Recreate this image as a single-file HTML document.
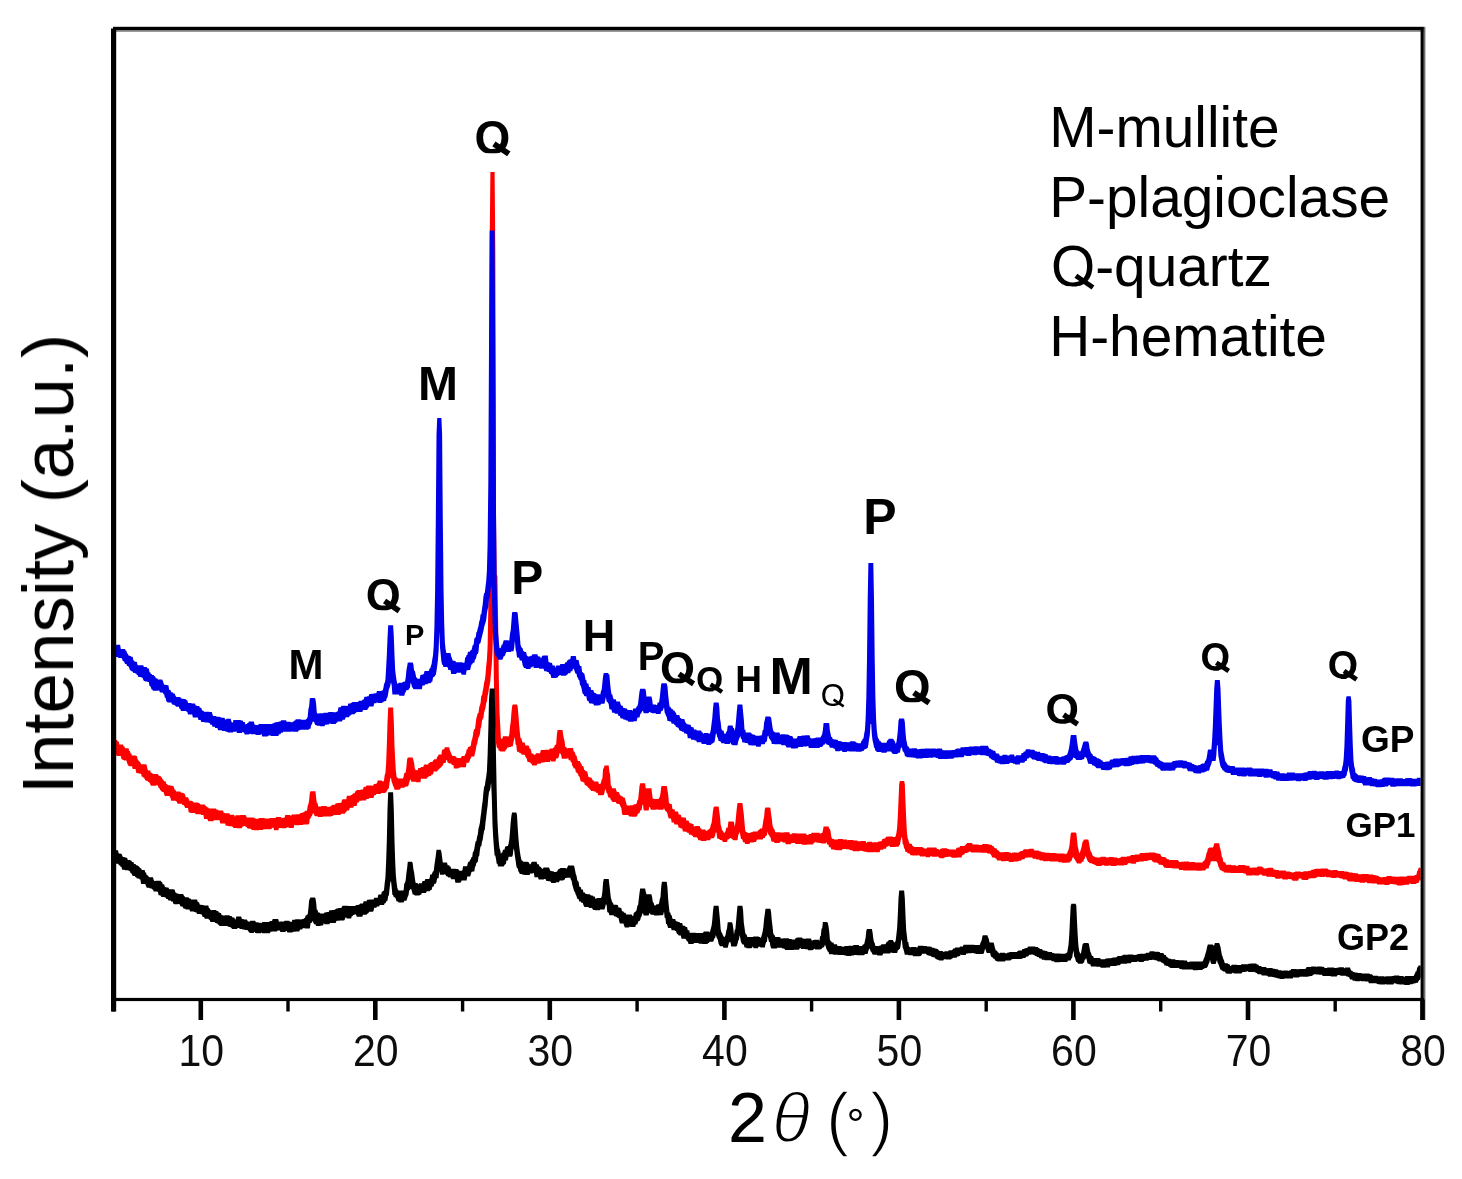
<!DOCTYPE html>
<html><head><meta charset="utf-8"><title>XRD patterns</title>
<style>
html,body{margin:0;padding:0;background:#fff;}
body{width:1462px;height:1179px;overflow:hidden;font-family:"Liberation Sans",sans-serif;}
svg{display:block;font-family:"Liberation Sans",sans-serif;}
.curve path{stroke:none;}
</style></head><body>
<svg width="1462" height="1179" viewBox="0 0 1462 1179">
<defs><filter id="soft" filterUnits="userSpaceOnUse" x="0" y="0" width="1462" height="1179"><feGaussianBlur stdDeviation="0.55"/></filter><clipPath id="q0"><rect x="446.5" y="106.5" width="92.0" height="46.8"/></clipPath><clipPath id="q2"><rect x="338.2" y="564.5" width="90.0" height="45.8"/></clipPath><clipPath id="q8"><rect x="632.6" y="637.5" width="90.0" height="45.8"/></clipPath><clipPath id="q9"><rect x="674.6" y="656.0" width="70.0" height="35.6"/></clipPath><clipPath id="q12"><rect x="801.7" y="674.5" width="62.0" height="31.6"/></clipPath><clipPath id="q14"><rect x="865.4" y="654.5" width="94.0" height="47.8"/></clipPath><clipPath id="q15"><rect x="1019.3" y="680.0" width="86.0" height="43.8"/></clipPath><clipPath id="q16"><rect x="1177.2" y="632.0" width="76.0" height="38.7"/></clipPath><clipPath id="q17"><rect x="1303.8" y="639.3" width="78.0" height="39.7"/></clipPath><clipPath id="qleg"><rect x="1040" y="230" width="60" height="56.5"/></clipPath></defs>
<rect width="1462" height="1179" fill="#ffffff"/>
<g filter="url(#soft)">
<!-- curves -->
<g class="curve">
<path fill="#ff0000" d="M114.5 739.8L115.2 739.8L115.9 739.8L116.6 739.8L117.3 740.6L118.0 741.4L118.7 741.4L119.4 744.5L120.1 744.5L120.8 744.5L121.5 744.5L122.2 744.5L122.9 744.5L123.6 746.3L124.3 746.3L125.0 748.3L125.7 748.3L126.4 748.3L127.1 748.3L127.8 748.3L128.5 748.3L129.2 751.1L129.9 751.1L130.6 753.6L131.3 753.6L132.0 755.6L132.7 755.6L133.4 755.6L134.1 755.6L134.8 755.6L135.5 755.6L136.2 756.0L136.9 756.0L137.6 758.9L138.3 760.5L139.0 760.8L139.7 761.8L140.4 762.4L141.1 764.3L141.8 764.3L142.5 764.3L143.2 764.3L143.9 764.3L144.6 764.3L145.3 764.3L146.0 764.3L146.7 765.3L147.4 768.7L148.1 770.4L148.8 770.4L149.5 770.4L150.2 770.4L150.9 772.8L151.6 772.8L152.3 773.6L153.0 773.8L153.7 774.0L154.4 774.0L155.1 774.0L155.8 774.0L156.5 774.0L157.2 774.0L157.9 774.0L158.6 775.6L159.3 775.7L160.0 776.3L160.7 776.3L161.4 776.9L162.1 778.2L162.8 779.4L163.5 780.0L164.2 781.3L164.9 781.3L165.6 781.3L166.3 783.9L167.0 783.9L167.7 785.0L168.4 785.2L169.1 785.2L169.8 785.2L170.5 785.4L171.2 785.4L171.9 786.0L172.6 786.0L173.3 786.0L174.0 787.7L174.7 789.7L175.4 789.7L176.1 791.4L176.8 791.4L177.5 791.4L178.2 791.4L178.9 791.4L179.6 791.4L180.3 791.4L181.0 792.7L181.7 792.7L182.4 792.7L183.1 792.7L183.8 793.4L184.5 793.4L185.2 795.2L185.9 797.2L186.6 797.2L187.3 797.2L188.0 797.2L188.7 799.1L189.4 800.7L190.1 800.7L190.8 800.7L191.5 800.7L192.2 801.1L192.9 801.4L193.6 802.6L194.3 802.6L195.0 802.6L195.7 802.6L196.4 802.6L197.1 802.6L197.8 802.6L198.5 802.9L199.2 802.9L199.9 804.0L200.6 804.4L201.3 804.4L202.0 804.4L202.7 804.4L203.4 804.4L204.1 804.4L204.8 804.4L205.5 805.8L206.2 806.6L206.9 806.6L207.6 807.4L208.3 807.4L209.0 808.4L209.7 808.4L210.4 808.4L211.1 808.4L211.8 808.4L212.5 808.6L213.2 808.6L213.9 808.6L214.6 808.6L215.3 808.6L216.0 808.6L216.7 809.8L217.4 809.8L218.1 809.8L218.8 810.5L219.5 810.5L220.2 810.5L220.9 810.5L221.6 810.5L222.3 810.5L223.0 810.5L223.7 812.8L224.4 812.8L225.1 813.3L225.8 813.3L226.5 813.3L227.2 813.3L227.9 813.3L228.6 813.3L229.3 813.3L230.0 814.8L230.7 814.8L231.4 814.8L232.1 814.8L232.8 814.8L233.5 814.8L234.2 814.8L234.9 817.0L235.6 815.2L236.3 815.2L237.0 815.2L237.7 815.2L238.4 815.2L239.1 815.2L239.8 815.2L240.5 815.1L241.2 815.1L241.9 815.1L242.6 815.1L243.3 815.1L244.0 815.1L244.7 815.1L245.4 815.1L246.1 815.7L246.8 817.4L247.5 817.4L248.2 817.4L248.9 817.5L249.6 817.6L250.3 817.6L251.0 817.6L251.7 817.6L252.4 817.6L253.1 817.6L253.8 817.6L254.5 818.2L255.2 818.2L255.9 818.8L256.6 818.8L257.3 818.8L258.0 818.8L258.7 818.5L259.4 818.1L260.1 818.1L260.8 818.1L261.5 818.1L262.2 818.1L262.9 818.1L263.6 818.1L264.3 818.1L265.0 818.5L265.7 818.5L266.4 818.5L267.1 818.5L267.8 818.5L268.5 818.5L269.2 818.5L269.9 818.1L270.6 818.0L271.3 818.0L272.0 818.0L272.7 818.0L273.4 818.0L274.1 818.0L274.8 818.0L275.5 818.1L276.2 816.9L276.9 816.9L277.6 816.9L278.3 816.9L279.0 816.9L279.7 816.9L280.4 816.9L281.1 816.9L281.8 818.5L282.5 817.8L283.2 817.8L283.9 817.8L284.6 817.6L285.3 815.1L286.0 815.1L286.7 815.1L287.4 815.1L288.1 815.1L288.8 815.1L289.5 815.1L290.2 815.1L290.9 816.5L291.6 814.4L292.3 814.4L293.0 814.4L293.7 814.4L294.4 814.4L295.1 814.4L295.8 814.4L296.5 814.2L297.2 814.2L297.9 814.2L298.6 814.2L299.3 814.2L300.0 813.4L300.7 812.9L301.4 812.9L302.1 812.9L302.8 812.2L303.5 812.2L304.2 812.2L304.9 810.8L305.6 810.8L306.3 810.8L307.0 810.8L307.7 805.8L308.4 804.0L309.1 800.5L309.8 792.9L310.5 791.3L311.2 791.3L311.9 791.3L312.6 791.3L313.3 791.3L314.0 791.3L314.7 791.3L315.4 791.3L316.1 797.4L316.8 802.9L317.5 802.9L318.2 806.4L318.9 806.4L319.6 806.6L320.3 806.6L321.0 806.6L321.7 806.1L322.4 806.1L323.1 806.1L323.8 806.1L324.5 806.1L325.2 806.1L325.9 806.1L326.6 806.3L327.3 806.7L328.0 806.7L328.7 806.7L329.4 806.7L330.1 806.7L330.8 805.8L331.5 805.8L332.2 804.8L332.9 804.8L333.6 804.8L334.3 804.8L335.0 804.8L335.7 803.3L336.4 803.3L337.1 803.3L337.8 803.1L338.5 803.1L339.2 803.1L339.9 803.1L340.6 802.8L341.3 802.8L342.0 799.9L342.7 799.3L343.4 799.3L344.1 799.2L344.8 799.2L345.5 799.2L346.2 799.2L346.9 795.8L347.6 795.8L348.3 795.8L349.0 795.8L349.7 795.8L350.4 795.8L351.1 794.9L351.8 794.9L352.5 794.2L353.2 793.3L353.9 793.3L354.6 793.3L355.3 791.2L356.0 791.2L356.7 790.1L357.4 790.1L358.1 790.1L358.8 790.1L359.5 790.1L360.2 790.1L360.9 789.5L361.6 789.5L362.3 789.5L363.0 789.5L363.7 787.1L364.4 786.8L365.1 786.8L365.8 786.8L366.5 785.5L367.2 785.5L367.9 785.5L368.6 785.5L369.3 785.5L370.0 785.5L370.7 785.5L371.4 785.5L372.1 785.7L372.8 785.7L373.5 784.8L374.2 784.0L374.9 784.0L375.6 783.8L376.3 783.8L377.0 782.9L377.7 780.5L378.4 780.5L379.1 780.5L379.8 780.5L380.5 780.5L381.2 780.5L381.9 780.5L382.6 781.5L383.3 781.5L384.0 780.3L384.7 775.1L385.4 773.2L386.1 763.8L386.8 745.6L387.5 723.0L388.2 707.4L388.9 707.4L389.6 707.4L390.3 707.4L391.0 707.4L391.7 707.4L392.4 707.4L393.1 707.4L393.8 721.1L394.5 746.3L395.2 760.0L395.9 771.3L396.6 776.9L397.3 777.4L398.0 778.6L398.7 778.6L399.4 778.6L400.1 778.6L400.8 778.6L401.5 778.4L402.2 778.4L402.9 778.4L403.6 776.7L404.3 773.1L405.0 773.1L405.7 772.3L406.4 767.1L407.1 759.5L407.8 757.5L408.5 757.5L409.2 757.5L409.9 757.5L410.6 757.5L411.3 757.5L412.0 757.5L412.7 757.5L413.4 759.9L414.1 763.0L414.8 768.6L415.5 770.1L416.2 770.1L416.9 770.3L417.6 770.3L418.3 768.0L419.0 768.0L419.7 768.0L420.4 768.0L421.1 766.9L421.8 766.9L422.5 766.9L423.2 766.9L423.9 765.0L424.6 764.6L425.3 764.6L426.0 764.6L426.7 764.6L427.4 764.6L428.1 764.6L428.8 763.1L429.5 763.1L430.2 762.0L430.9 762.0L431.6 762.0L432.3 762.0L433.0 760.8L433.7 760.1L434.4 759.3L435.1 759.3L435.8 759.3L436.5 759.3L437.2 756.4L437.9 756.4L438.6 754.6L439.3 754.6L440.0 754.6L440.7 754.6L441.4 754.6L442.1 750.1L442.8 749.4L443.5 749.4L444.2 749.1L444.9 747.2L445.6 747.2L446.3 747.2L447.0 747.2L447.7 747.2L448.4 747.2L449.1 747.2L449.8 750.1L450.5 751.7L451.2 753.5L451.9 755.1L452.6 755.9L453.3 755.9L454.0 755.9L454.7 755.9L455.4 755.9L456.1 757.4L456.8 757.4L457.5 758.0L458.2 758.0L458.9 758.0L459.6 758.0L460.3 758.0L461.0 758.0L461.7 756.0L462.4 756.0L463.1 756.0L463.8 756.0L464.5 756.0L465.2 754.2L465.9 753.2L466.6 749.4L467.3 749.4L468.0 747.1L468.7 747.1L469.4 746.4L470.1 746.4L470.8 745.4L471.5 740.7L472.2 739.1L472.9 735.5L473.6 731.0L474.3 729.0L475.0 729.0L475.7 723.6L476.4 718.1L477.1 715.7L477.8 713.0L478.5 713.0L479.2 707.3L479.9 705.3L480.6 702.7L481.3 695.6L482.0 695.6L482.7 691.1L483.4 687.7L484.1 682.8L484.8 679.9L485.5 675.1L486.2 666.1L486.9 659.7L487.6 646.4L488.3 608.6L489.0 492.4L489.7 239.7L490.4 171.9L491.1 171.9L491.8 171.9L492.5 171.9L493.2 171.9L493.9 171.9L494.6 171.9L495.3 247.2L496.0 514.4L496.7 575.6L497.4 575.6L498.1 618.6L498.8 677.2L499.5 712.3L500.2 724.9L500.9 737.9L501.6 739.1L502.3 738.7L503.0 736.3L503.7 736.3L504.4 736.3L505.1 736.3L505.8 736.3L506.5 736.3L507.2 736.3L507.9 736.4L508.6 736.4L509.3 734.6L510.0 726.8L510.7 722.1L511.4 713.1L512.1 706.2L512.8 704.6L513.5 704.6L514.2 704.6L514.9 704.6L515.6 704.6L516.3 704.6L517.0 704.6L517.7 706.8L518.4 715.0L519.1 724.1L519.8 732.1L520.5 738.0L521.2 738.0L521.9 740.5L522.6 742.6L523.3 742.6L524.0 742.6L524.7 742.6L525.4 745.5L526.1 745.5L526.8 745.5L527.5 745.5L528.2 745.5L528.9 745.9L529.6 748.5L530.3 748.5L531.0 750.3L531.7 753.4L532.4 753.6L533.1 753.6L533.8 754.7L534.5 754.7L535.2 754.7L535.9 753.2L536.6 753.2L537.3 753.2L538.0 753.2L538.7 753.2L539.4 753.2L540.1 753.2L540.8 750.1L541.5 750.1L542.2 750.1L542.9 750.1L543.6 750.1L544.3 750.1L545.0 749.7L545.7 749.7L546.4 749.7L547.1 749.7L547.8 749.7L548.5 749.7L549.2 749.7L549.9 748.5L550.6 748.5L551.3 748.5L552.0 748.5L552.7 748.5L553.4 747.6L554.1 747.6L554.8 745.0L555.5 744.9L556.2 743.8L556.9 734.3L557.6 729.9L558.3 729.9L559.0 729.9L559.7 729.9L560.4 729.9L561.1 729.9L561.8 729.9L562.5 729.9L563.2 735.1L563.9 738.6L564.6 741.2L565.3 746.9L566.0 746.9L566.7 747.8L567.4 748.4L568.1 748.1L568.8 748.1L569.5 748.1L570.2 748.1L570.9 748.1L571.6 748.1L572.3 748.1L573.0 748.1L573.7 751.6L574.4 751.6L575.1 753.1L575.8 755.5L576.5 755.5L577.2 758.7L577.9 761.1L578.6 761.1L579.3 761.1L580.0 761.1L580.7 763.2L581.4 763.8L582.1 766.1L582.8 766.1L583.5 766.4L584.2 770.0L584.9 770.0L585.6 771.2L586.3 771.2L587.0 771.2L587.7 773.5L588.4 777.0L589.1 777.1L589.8 777.5L590.5 777.6L591.2 777.6L591.9 778.6L592.6 780.3L593.3 780.3L594.0 781.6L594.7 781.6L595.4 781.6L596.1 781.6L596.8 781.6L597.5 781.6L598.2 781.6L598.9 784.1L599.6 784.1L600.3 783.9L601.0 782.6L601.7 779.4L602.4 778.4L603.1 768.4L603.8 768.4L604.5 765.6L605.2 765.6L605.9 765.6L606.6 765.6L607.3 765.6L608.0 765.6L608.7 765.6L609.4 771.9L610.1 774.2L610.8 785.2L611.5 786.0L612.2 788.2L612.9 788.2L613.6 788.2L614.3 788.2L615.0 788.2L615.7 788.2L616.4 791.1L617.1 792.1L617.8 792.1L618.5 792.1L619.2 792.7L619.9 794.8L620.6 795.6L621.3 795.8L622.0 796.6L622.7 796.6L623.4 797.6L624.1 797.6L624.8 797.8L625.5 800.5L626.2 802.9L626.9 805.6L627.6 805.6L628.3 805.6L629.0 805.6L629.7 805.8L630.4 805.2L631.1 805.2L631.8 805.2L632.5 805.2L633.2 805.2L633.9 804.2L634.6 804.2L635.3 804.2L636.0 804.2L636.7 802.9L637.4 800.3L638.1 799.4L638.8 793.2L639.5 785.9L640.2 783.3L640.9 783.3L641.6 783.3L642.3 783.3L643.0 783.3L643.7 783.3L644.4 783.3L645.1 783.3L645.8 788.6L646.5 788.3L647.2 788.3L647.9 788.3L648.6 788.3L649.3 788.3L650.0 788.3L650.7 788.3L651.4 788.3L652.1 794.0L652.8 798.7L653.5 798.7L654.2 799.0L654.9 799.0L655.6 799.0L656.3 799.0L657.0 799.0L657.7 799.0L658.4 799.0L659.1 798.1L659.8 796.7L660.5 793.3L661.2 786.9L661.9 785.9L662.6 785.9L663.3 785.9L664.0 785.9L664.7 785.9L665.4 785.9L666.1 785.9L666.8 785.9L667.5 790.5L668.2 794.5L668.9 802.7L669.6 803.3L670.3 804.0L671.0 804.0L671.7 804.0L672.4 808.8L673.1 809.3L673.8 809.3L674.5 809.3L675.2 811.5L675.9 811.6L676.6 811.6L677.3 811.6L678.0 811.6L678.7 814.6L679.4 814.6L680.1 814.7L680.8 814.7L681.5 817.3L682.2 817.3L682.9 817.4L683.6 817.4L684.3 817.4L685.0 817.4L685.7 817.4L686.4 820.4L687.1 820.4L687.8 820.4L688.5 820.4L689.2 822.6L689.9 823.0L690.6 823.3L691.3 823.5L692.0 823.5L692.7 823.9L693.4 823.9L694.1 827.1L694.8 826.0L695.5 826.0L696.2 826.0L696.9 826.0L697.6 826.0L698.3 826.0L699.0 826.0L699.7 826.0L700.4 828.2L701.1 828.2L701.8 829.6L702.5 829.6L703.2 829.6L703.9 829.6L704.6 829.6L705.3 829.6L706.0 830.8L706.7 830.8L707.4 830.5L708.1 829.6L708.8 829.6L709.5 828.8L710.2 827.5L710.9 824.3L711.6 823.1L712.3 817.0L713.0 810.8L713.7 807.3L714.4 806.4L715.1 806.4L715.8 806.4L716.5 806.4L717.2 806.4L717.9 806.4L718.6 806.4L719.3 811.6L720.0 817.0L720.7 824.9L721.4 827.0L722.1 830.6L722.8 830.6L723.5 832.3L724.2 832.9L724.9 832.3L725.6 830.9L726.3 827.8L727.0 827.8L727.7 827.6L728.4 821.5L729.1 821.5L729.8 821.5L730.5 821.5L731.2 821.5L731.9 821.5L732.6 821.5L733.3 821.5L734.0 822.0L734.7 826.9L735.4 822.6L736.1 815.3L736.8 808.2L737.5 802.9L738.2 802.9L738.9 802.9L739.6 802.9L740.3 802.9L741.0 802.9L741.7 802.9L742.4 802.9L743.1 808.7L743.8 813.9L744.5 822.7L745.2 830.0L745.9 832.0L746.6 832.0L747.3 832.4L748.0 832.9L748.7 832.9L749.4 832.9L750.1 832.9L750.8 832.3L751.5 832.3L752.2 832.3L752.9 831.4L753.6 831.4L754.3 831.4L755.0 831.4L755.7 831.4L756.4 831.4L757.1 831.4L757.8 831.0L758.5 830.0L759.2 830.0L759.9 828.5L760.6 828.5L761.3 828.5L762.0 828.5L762.7 824.7L763.4 820.1L764.1 816.9L764.8 809.1L765.5 807.6L766.2 807.6L766.9 807.6L767.6 807.6L768.3 807.6L769.0 807.6L769.7 807.6L770.4 808.0L771.1 813.9L771.8 818.5L772.5 825.3L773.2 827.6L773.9 828.7L774.6 829.7L775.3 832.0L776.0 832.3L776.7 832.3L777.4 832.3L778.1 832.3L778.8 832.3L779.5 832.3L780.2 832.6L780.9 832.6L781.6 832.6L782.3 832.6L783.0 832.6L783.7 832.6L784.4 832.2L785.1 832.2L785.8 832.2L786.5 832.2L787.2 832.2L787.9 832.2L788.6 832.2L789.3 832.2L790.0 834.3L790.7 834.3L791.4 834.3L792.1 833.2L792.8 833.2L793.5 833.2L794.2 833.2L794.9 833.2L795.6 833.2L796.3 833.2L797.0 833.5L797.7 833.5L798.4 833.5L799.1 833.5L799.8 833.5L800.5 833.5L801.2 833.5L801.9 833.6L802.6 833.6L803.3 833.6L804.0 833.6L804.7 833.6L805.4 833.6L806.1 833.6L806.8 835.0L807.5 835.0L808.2 835.0L808.9 834.0L809.6 834.0L810.3 834.0L811.0 834.0L811.7 832.8L812.4 832.8L813.1 832.8L813.8 832.8L814.5 832.8L815.2 832.7L815.9 832.7L816.6 832.7L817.3 832.7L818.0 832.7L818.7 832.7L819.4 832.7L820.1 834.2L820.8 833.0L821.5 833.0L822.2 833.0L822.9 830.6L823.6 826.5L824.3 826.5L825.0 826.5L825.7 826.5L826.4 826.5L827.1 826.5L827.8 826.5L828.5 826.5L829.2 828.7L829.9 829.0L830.6 831.5L831.3 836.4L832.0 838.8L832.7 838.8L833.4 838.8L834.1 839.4L834.8 839.4L835.5 839.4L836.2 839.4L836.9 839.4L837.6 839.4L838.3 839.0L839.0 839.0L839.7 839.0L840.4 839.0L841.1 839.0L841.8 839.0L842.5 839.0L843.2 839.5L843.9 839.5L844.6 839.5L845.3 839.5L846.0 839.5L846.7 839.5L847.4 840.4L848.1 839.9L848.8 839.9L849.5 839.9L850.2 839.9L850.9 839.9L851.6 839.9L852.3 839.9L853.0 839.9L853.7 840.5L854.4 840.5L855.1 840.5L855.8 840.5L856.5 840.5L857.2 840.5L857.9 841.2L858.6 841.2L859.3 841.2L860.0 841.2L860.7 841.2L861.4 841.1L862.1 841.1L862.8 841.1L863.5 841.1L864.2 841.1L864.9 841.1L865.6 841.1L866.3 842.8L867.0 842.8L867.7 841.8L868.4 841.8L869.1 841.8L869.8 841.8L870.5 841.8L871.2 841.8L871.9 841.8L872.6 842.4L873.3 842.4L874.0 842.3L874.7 842.3L875.4 842.3L876.1 842.3L876.8 842.3L877.5 842.3L878.2 841.5L878.9 841.5L879.6 841.5L880.3 841.3L881.0 841.3L881.7 840.7L882.4 838.9L883.1 838.9L883.8 838.6L884.5 838.6L885.2 838.4L885.9 836.7L886.6 836.7L887.3 836.7L888.0 836.5L888.7 836.5L889.4 836.5L890.1 836.5L890.8 836.5L891.5 836.5L892.2 836.5L892.9 837.0L893.6 837.0L894.3 837.0L895.0 837.1L895.7 836.0L896.4 832.9L897.1 828.1L897.8 816.8L898.5 800.2L899.2 784.1L899.9 781.0L900.6 781.0L901.3 781.0L902.0 781.0L902.7 781.0L903.4 781.0L904.1 781.0L904.8 783.9L905.5 802.3L906.2 818.8L906.9 831.9L907.6 838.1L908.3 839.7L909.0 842.5L909.7 843.8L910.4 843.8L911.1 843.8L911.8 844.1L912.5 845.9L913.2 845.9L913.9 846.9L914.6 846.9L915.3 846.9L916.0 846.9L916.7 846.9L917.4 846.9L918.1 846.9L918.8 846.9L919.5 846.9L920.2 846.9L920.9 846.9L921.6 846.9L922.3 846.9L923.0 847.7L923.7 847.7L924.4 848.5L925.1 848.5L925.8 848.5L926.5 848.5L927.2 847.4L927.9 847.4L928.6 847.4L929.3 847.4L930.0 847.4L930.7 847.4L931.4 847.4L932.1 847.4L932.8 847.6L933.5 847.6L934.2 847.6L934.9 847.6L935.6 847.6L936.3 847.6L937.0 848.9L937.7 848.9L938.4 848.9L939.1 849.7L939.8 849.7L940.5 848.7L941.2 848.7L941.9 848.3L942.6 848.3L943.3 848.3L944.0 848.3L944.7 848.3L945.4 848.3L946.1 848.3L946.8 848.3L947.5 849.0L948.2 849.0L948.9 849.0L949.6 849.6L950.3 849.6L951.0 849.6L951.7 849.6L952.4 849.6L953.1 849.6L953.8 849.6L954.5 849.6L955.2 849.8L955.9 849.3L956.6 847.8L957.3 847.8L958.0 847.5L958.7 847.5L959.4 847.5L960.1 846.0L960.8 846.0L961.5 846.0L962.2 846.0L962.9 846.0L963.6 846.0L964.3 846.0L965.0 845.5L965.7 844.7L966.4 843.9L967.1 842.9L967.8 842.9L968.5 842.9L969.2 842.9L969.9 842.9L970.6 842.9L971.3 842.9L972.0 842.9L972.7 844.4L973.4 844.4L974.1 844.4L974.8 844.4L975.5 844.4L976.2 844.4L976.9 844.4L977.6 844.4L978.3 844.4L979.0 844.9L979.7 844.9L980.4 844.9L981.1 844.9L981.8 844.9L982.5 843.9L983.2 843.9L983.9 843.9L984.6 843.9L985.3 843.9L986.0 843.9L986.7 843.9L987.4 843.9L988.1 844.3L988.8 844.3L989.5 844.8L990.2 844.8L990.9 844.8L991.6 844.8L992.3 845.9L993.0 845.9L993.7 846.5L994.4 847.7L995.1 848.2L995.8 848.2L996.5 848.2L997.2 849.9L997.9 849.9L998.6 850.7L999.3 851.6L1000.0 852.2L1000.7 852.2L1001.4 852.2L1002.1 852.2L1002.8 852.2L1003.5 852.2L1004.2 852.1L1004.9 852.1L1005.6 852.1L1006.3 852.1L1007.0 852.1L1007.7 852.1L1008.4 852.1L1009.1 852.4L1009.8 852.4L1010.5 852.4L1011.2 853.2L1011.9 853.2L1012.6 852.5L1013.3 852.5L1014.0 852.5L1014.7 852.5L1015.4 852.5L1016.1 852.5L1016.8 852.5L1017.5 852.7L1018.2 852.7L1018.9 852.3L1019.6 852.0L1020.3 851.2L1021.0 851.0L1021.7 851.0L1022.4 851.0L1023.1 850.2L1023.8 849.3L1024.5 849.3L1025.2 849.3L1025.9 849.3L1026.6 849.3L1027.3 849.2L1028.0 849.2L1028.7 849.2L1029.4 848.8L1030.1 848.8L1030.8 848.8L1031.5 848.8L1032.2 848.8L1032.9 848.8L1033.6 848.8L1034.3 850.6L1035.0 850.6L1035.7 850.6L1036.4 850.6L1037.1 850.6L1037.8 850.6L1038.5 850.6L1039.2 851.3L1039.9 851.3L1040.6 851.5L1041.3 851.5L1042.0 852.1L1042.7 852.2L1043.4 852.2L1044.1 852.2L1044.8 852.2L1045.5 852.8L1046.2 852.8L1046.9 852.8L1047.6 852.8L1048.3 852.8L1049.0 852.8L1049.7 852.8L1050.4 852.9L1051.1 852.9L1051.8 852.9L1052.5 852.9L1053.2 852.9L1053.9 852.9L1054.6 853.1L1055.3 853.1L1056.0 853.3L1056.7 853.3L1057.4 853.4L1058.1 853.4L1058.8 853.4L1059.5 853.6L1060.2 853.6L1060.9 853.6L1061.6 853.6L1062.3 853.6L1063.0 853.6L1063.7 853.6L1064.4 853.6L1065.1 854.5L1065.8 853.7L1066.5 853.7L1067.2 852.9L1067.9 850.9L1068.6 849.6L1069.3 846.5L1070.0 840.7L1070.7 834.1L1071.4 832.5L1072.1 832.5L1072.8 832.5L1073.5 832.5L1074.2 832.5L1074.9 832.5L1075.6 832.5L1076.3 833.1L1077.0 839.2L1077.7 846.2L1078.4 849.0L1079.1 852.8L1079.8 852.8L1080.5 850.5L1081.2 848.6L1081.9 845.2L1082.6 841.7L1083.3 841.1L1084.0 839.4L1084.7 839.4L1085.4 839.4L1086.1 839.4L1086.8 839.4L1087.5 839.4L1088.2 839.4L1088.9 842.0L1089.6 846.4L1090.3 849.9L1091.0 852.1L1091.7 852.5L1092.4 855.2L1093.1 855.7L1093.8 856.4L1094.5 856.6L1095.2 857.2L1095.9 857.2L1096.6 857.3L1097.3 857.4L1098.0 857.4L1098.7 857.4L1099.4 857.4L1100.1 857.4L1100.8 856.7L1101.5 856.7L1102.2 856.7L1102.9 856.7L1103.6 856.7L1104.3 856.7L1105.0 856.7L1105.7 856.7L1106.4 857.5L1107.1 857.5L1107.8 857.5L1108.5 857.5L1109.2 857.1L1109.9 857.1L1110.6 857.1L1111.3 857.1L1112.0 857.1L1112.7 857.1L1113.4 857.1L1114.1 857.4L1114.8 857.4L1115.5 857.4L1116.2 857.4L1116.9 857.4L1117.6 857.9L1118.3 858.2L1119.0 858.2L1119.7 857.8L1120.4 857.8L1121.1 856.8L1121.8 856.8L1122.5 856.8L1123.2 856.8L1123.9 856.7L1124.6 856.7L1125.3 856.7L1126.0 856.7L1126.7 856.7L1127.4 856.2L1128.1 856.2L1128.8 856.2L1129.5 856.2L1130.2 855.9L1130.9 855.1L1131.6 855.1L1132.3 855.1L1133.0 855.1L1133.7 855.1L1134.4 855.1L1135.1 854.5L1135.8 854.5L1136.5 854.5L1137.2 854.5L1137.9 854.5L1138.6 854.5L1139.3 854.4L1140.0 853.1L1140.7 853.1L1141.4 853.1L1142.1 853.1L1142.8 853.1L1143.5 852.9L1144.2 852.9L1144.9 852.9L1145.6 852.8L1146.3 852.8L1147.0 852.8L1147.7 852.8L1148.4 852.8L1149.1 852.5L1149.8 852.5L1150.5 852.4L1151.2 852.4L1151.9 852.4L1152.6 852.4L1153.3 852.4L1154.0 852.4L1154.7 852.4L1155.4 852.9L1156.1 852.9L1156.8 853.4L1157.5 853.4L1158.2 853.4L1158.9 853.8L1159.6 854.0L1160.3 854.0L1161.0 855.8L1161.7 856.5L1162.4 856.9L1163.1 856.9L1163.8 856.9L1164.5 856.9L1165.2 856.9L1165.9 857.7L1166.6 858.6L1167.3 859.2L1168.0 859.2L1168.7 859.2L1169.4 860.2L1170.1 859.9L1170.8 859.9L1171.5 859.9L1172.2 859.9L1172.9 859.9L1173.6 859.9L1174.3 859.9L1175.0 860.1L1175.7 860.1L1176.4 860.1L1177.1 860.1L1177.8 860.1L1178.5 860.7L1179.2 862.0L1179.9 862.0L1180.6 862.0L1181.3 861.7L1182.0 861.7L1182.7 861.7L1183.4 861.7L1184.1 861.6L1184.8 861.6L1185.5 861.6L1186.2 861.6L1186.9 861.6L1187.6 861.6L1188.3 861.6L1189.0 861.6L1189.7 862.5L1190.4 862.0L1191.1 862.0L1191.8 862.0L1192.5 862.0L1193.2 862.0L1193.9 862.0L1194.6 862.0L1195.3 862.6L1196.0 862.6L1196.7 862.6L1197.4 862.5L1198.1 862.5L1198.8 862.5L1199.5 862.5L1200.2 862.5L1200.9 862.5L1201.6 862.5L1202.3 862.7L1203.0 861.3L1203.7 861.3L1204.4 860.3L1205.1 858.9L1205.8 856.7L1206.5 852.9L1207.2 852.0L1207.9 848.6L1208.6 848.2L1209.3 847.6L1210.0 847.6L1210.7 847.6L1211.4 847.6L1212.1 847.6L1212.8 847.6L1213.5 846.4L1214.2 843.3L1214.9 843.3L1215.6 843.3L1216.3 843.3L1217.0 843.3L1217.7 843.3L1218.4 843.3L1219.1 843.3L1219.8 846.8L1220.5 849.5L1221.2 852.3L1221.9 857.2L1222.6 857.4L1223.3 861.8L1224.0 862.1L1224.7 862.4L1225.4 862.4L1226.1 864.7L1226.8 864.7L1227.5 864.7L1228.2 864.7L1228.9 864.7L1229.6 864.7L1230.3 864.7L1231.0 864.7L1231.7 865.2L1232.4 865.2L1233.1 865.2L1233.8 865.2L1234.5 865.2L1235.2 865.2L1235.9 865.2L1236.6 865.9L1237.3 865.7L1238.0 865.7L1238.7 865.0L1239.4 865.0L1240.1 865.0L1240.8 865.0L1241.5 865.0L1242.2 865.0L1242.9 865.0L1243.6 865.0L1244.3 865.1L1245.0 865.1L1245.7 865.8L1246.4 865.8L1247.1 865.8L1247.8 865.8L1248.5 865.8L1249.2 865.8L1249.9 867.8L1250.6 867.8L1251.3 867.8L1252.0 867.8L1252.7 867.6L1253.4 867.6L1254.1 867.6L1254.8 867.6L1255.5 867.6L1256.2 867.6L1256.9 867.6L1257.6 866.4L1258.3 866.4L1259.0 866.4L1259.7 866.4L1260.4 866.4L1261.1 866.4L1261.8 866.4L1262.5 867.2L1263.2 867.2L1263.9 868.4L1264.6 868.4L1265.3 868.4L1266.0 868.2L1266.7 868.2L1267.4 868.2L1268.1 867.7L1268.8 867.7L1269.5 867.7L1270.2 867.7L1270.9 867.7L1271.6 867.7L1272.3 867.7L1273.0 867.7L1273.7 869.4L1274.4 869.4L1275.1 869.8L1275.8 869.8L1276.5 869.9L1277.2 869.9L1277.9 869.9L1278.6 869.9L1279.3 870.8L1280.0 870.8L1280.7 870.6L1281.4 870.5L1282.1 870.5L1282.8 870.5L1283.5 870.5L1284.2 870.5L1284.9 870.5L1285.6 870.5L1286.3 871.6L1287.0 871.6L1287.7 871.6L1288.4 871.6L1289.1 871.6L1289.8 871.6L1290.5 872.1L1291.2 872.1L1291.9 872.5L1292.6 872.4L1293.3 872.4L1294.0 872.0L1294.7 872.0L1295.4 871.4L1296.1 871.4L1296.8 871.4L1297.5 871.4L1298.2 871.4L1298.9 871.4L1299.6 871.4L1300.3 871.4L1301.0 872.0L1301.7 872.0L1302.4 872.0L1303.1 871.7L1303.8 871.3L1304.5 871.3L1305.2 871.3L1305.9 871.3L1306.6 871.3L1307.3 871.3L1308.0 871.3L1308.7 870.7L1309.4 870.7L1310.1 870.7L1310.8 870.7L1311.5 869.7L1312.2 869.7L1312.9 869.7L1313.6 869.7L1314.3 869.0L1315.0 868.9L1315.7 868.7L1316.4 868.7L1317.1 868.7L1317.8 868.7L1318.5 868.7L1319.2 868.7L1319.9 868.7L1320.6 868.7L1321.3 868.5L1322.0 868.5L1322.7 868.5L1323.4 868.5L1324.1 868.5L1324.8 868.5L1325.5 868.5L1326.2 868.5L1326.9 868.5L1327.6 868.5L1328.3 869.5L1329.0 869.7L1329.7 869.7L1330.4 870.1L1331.1 870.2L1331.8 870.2L1332.5 870.2L1333.2 870.1L1333.9 870.1L1334.6 870.1L1335.3 870.1L1336.0 870.1L1336.7 870.1L1337.4 870.1L1338.1 870.9L1338.8 870.9L1339.5 870.9L1340.2 870.9L1340.9 871.0L1341.6 871.0L1342.3 871.0L1343.0 871.0L1343.7 871.0L1344.4 871.4L1345.1 871.4L1345.8 871.4L1346.5 871.4L1347.2 871.5L1347.9 872.0L1348.6 872.0L1349.3 872.5L1350.0 872.5L1350.7 872.5L1351.4 872.5L1352.1 872.5L1352.8 873.0L1353.5 873.0L1354.2 873.0L1354.9 873.2L1355.6 873.2L1356.3 873.2L1357.0 873.2L1357.7 873.2L1358.4 874.3L1359.1 874.3L1359.8 874.3L1360.5 874.3L1361.2 874.3L1361.9 873.9L1362.6 873.9L1363.3 873.9L1364.0 873.9L1364.7 873.9L1365.4 873.9L1366.1 873.9L1366.8 873.9L1367.5 874.1L1368.2 874.1L1368.9 874.4L1369.6 874.4L1370.3 874.4L1371.0 874.4L1371.7 874.4L1372.4 874.4L1373.1 874.4L1373.8 875.1L1374.5 875.1L1375.2 875.1L1375.9 875.6L1376.6 875.6L1377.3 875.6L1378.0 876.0L1378.7 876.0L1379.4 876.9L1380.1 876.9L1380.8 877.2L1381.5 877.2L1382.2 877.5L1382.9 876.9L1383.6 876.9L1384.3 876.9L1385.0 876.9L1385.7 876.9L1386.4 876.5L1387.1 876.0L1387.8 876.0L1388.5 876.0L1389.2 876.0L1389.9 876.0L1390.6 876.0L1391.3 876.0L1392.0 876.4L1392.7 876.4L1393.4 876.4L1394.1 876.4L1394.8 876.4L1395.5 876.8L1396.2 876.8L1396.9 876.8L1397.6 876.8L1398.3 876.8L1399.0 876.8L1399.7 876.6L1400.4 876.6L1401.1 876.6L1401.8 876.6L1402.5 876.6L1403.2 876.6L1403.9 876.6L1404.6 876.7L1405.3 876.6L1406.0 876.6L1406.7 876.6L1407.4 875.8L1408.1 875.7L1408.8 875.7L1409.5 875.7L1410.2 875.7L1410.9 875.7L1411.6 875.7L1412.3 875.7L1413.0 875.7L1413.7 875.7L1414.4 875.6L1415.1 874.9L1415.8 874.9L1416.5 874.4L1417.2 870.7L1417.9 870.7L1418.6 867.8L1419.3 867.8L1420.0 867.8L1420.7 867.8L1420.7 880.5L1420.0 880.5L1419.3 880.6L1418.6 882.9L1417.9 882.9L1417.2 883.0L1416.5 883.4L1415.8 884.1L1415.1 884.1L1414.4 884.1L1413.7 884.1L1413.0 884.1L1412.3 884.1L1411.6 884.1L1410.9 884.1L1410.2 883.6L1409.5 883.6L1408.8 884.7L1408.1 884.7L1407.4 884.7L1406.7 884.7L1406.0 884.7L1405.3 884.7L1404.6 884.9L1403.9 884.9L1403.2 884.9L1402.5 885.4L1401.8 885.4L1401.1 885.4L1400.4 885.4L1399.7 885.4L1399.0 885.4L1398.3 885.4L1397.6 885.4L1396.9 885.1L1396.2 884.5L1395.5 884.5L1394.8 884.5L1394.1 884.3L1393.4 884.3L1392.7 884.3L1392.0 884.0L1391.3 884.0L1390.6 884.0L1389.9 884.0L1389.2 885.1L1388.5 885.1L1387.8 885.1L1387.1 885.1L1386.4 885.1L1385.7 885.1L1385.0 885.1L1384.3 884.8L1383.6 884.4L1382.9 884.4L1382.2 884.4L1381.5 884.4L1380.8 884.4L1380.1 884.4L1379.4 884.4L1378.7 884.4L1378.0 884.4L1377.3 884.4L1376.6 883.5L1375.9 883.5L1375.2 883.5L1374.5 883.5L1373.8 883.5L1373.1 883.5L1372.4 883.5L1371.7 883.5L1371.0 883.3L1370.3 883.3L1369.6 883.3L1368.9 883.3L1368.2 883.3L1367.5 883.3L1366.8 882.2L1366.1 882.2L1365.4 882.2L1364.7 882.7L1364.0 882.7L1363.3 882.7L1362.6 882.7L1361.9 882.7L1361.2 882.7L1360.5 882.7L1359.8 882.7L1359.1 882.1L1358.4 882.1L1357.7 882.1L1357.0 882.1L1356.3 882.1L1355.6 882.1L1354.9 881.9L1354.2 881.6L1353.5 881.6L1352.8 881.6L1352.1 881.6L1351.4 881.6L1350.7 881.6L1350.0 881.4L1349.3 881.4L1348.6 881.4L1347.9 881.3L1347.2 880.4L1346.5 879.4L1345.8 879.4L1345.1 879.4L1344.4 879.4L1343.7 879.4L1343.0 879.4L1342.3 878.6L1341.6 878.6L1340.9 878.6L1340.2 878.6L1339.5 877.9L1338.8 877.9L1338.1 877.6L1337.4 877.6L1336.7 877.6L1336.0 878.0L1335.3 878.0L1334.6 878.0L1333.9 878.0L1333.2 878.0L1332.5 878.0L1331.8 878.0L1331.1 877.5L1330.4 877.5L1329.7 877.3L1329.0 877.3L1328.3 877.3L1327.6 877.3L1326.9 877.3L1326.2 877.3L1325.5 876.3L1324.8 876.7L1324.1 877.0L1323.4 877.0L1322.7 877.0L1322.0 877.0L1321.3 877.0L1320.6 877.0L1319.9 877.0L1319.2 876.7L1318.5 876.7L1317.8 876.7L1317.1 877.2L1316.4 877.7L1315.7 877.7L1315.0 878.3L1314.3 878.3L1313.6 878.3L1312.9 878.3L1312.2 878.3L1311.5 878.3L1310.8 878.3L1310.1 878.5L1309.4 878.6L1308.7 878.6L1308.0 880.0L1307.3 880.0L1306.6 880.0L1305.9 880.0L1305.2 880.0L1304.5 880.0L1303.8 880.0L1303.1 880.0L1302.4 879.7L1301.7 879.7L1301.0 878.6L1300.3 878.6L1299.6 878.6L1298.9 878.6L1298.2 880.6L1297.5 880.7L1296.8 880.7L1296.1 880.7L1295.4 880.7L1294.7 880.7L1294.0 880.7L1293.3 880.7L1292.6 880.7L1291.9 879.8L1291.2 879.2L1290.5 879.2L1289.8 879.2L1289.1 878.9L1288.4 879.1L1287.7 879.6L1287.0 879.6L1286.3 879.6L1285.6 879.6L1284.9 879.6L1284.2 879.6L1283.5 879.6L1282.8 879.6L1282.1 878.8L1281.4 878.3L1280.7 878.3L1280.0 878.7L1279.3 878.7L1278.6 878.7L1277.9 878.7L1277.2 878.7L1276.5 878.7L1275.8 878.7L1275.1 877.9L1274.4 877.0L1273.7 877.0L1273.0 877.0L1272.3 877.0L1271.6 876.7L1270.9 876.7L1270.2 876.7L1269.5 876.7L1268.8 876.7L1268.1 876.7L1267.4 876.7L1266.7 876.7L1266.0 875.8L1265.3 875.8L1264.6 875.8L1263.9 875.8L1263.2 875.8L1262.5 875.8L1261.8 874.7L1261.1 874.6L1260.4 874.6L1259.7 874.6L1259.0 875.5L1258.3 875.5L1257.6 875.5L1256.9 875.5L1256.2 875.5L1255.5 875.5L1254.8 875.5L1254.1 875.3L1253.4 875.3L1252.7 875.3L1252.0 875.5L1251.3 875.5L1250.6 875.5L1249.9 875.5L1249.2 875.5L1248.5 875.5L1247.8 875.5L1247.1 875.5L1246.4 875.5L1245.7 873.7L1245.0 873.5L1244.3 873.5L1243.6 873.5L1242.9 872.9L1242.2 872.9L1241.5 873.0L1240.8 873.0L1240.1 873.0L1239.4 873.0L1238.7 873.0L1238.0 873.1L1237.3 873.1L1236.6 873.1L1235.9 873.1L1235.2 873.1L1234.5 873.1L1233.8 873.1L1233.1 873.0L1232.4 873.0L1231.7 873.0L1231.0 873.0L1230.3 872.8L1229.6 872.8L1228.9 872.8L1228.2 872.8L1227.5 872.8L1226.8 872.8L1226.1 872.5L1225.4 872.5L1224.7 872.5L1224.0 872.5L1223.3 871.2L1222.6 871.2L1221.9 870.9L1221.2 870.2L1220.5 870.0L1219.8 870.0L1219.1 867.6L1218.4 866.8L1217.7 863.8L1217.0 862.2L1216.3 861.3L1215.6 861.3L1214.9 861.3L1214.2 861.3L1213.5 861.3L1212.8 861.3L1212.1 861.3L1211.4 861.3L1210.7 861.7L1210.0 865.3L1209.3 865.3L1208.6 868.5L1207.9 868.5L1207.2 868.5L1206.5 868.5L1205.8 869.6L1205.1 870.6L1204.4 870.6L1203.7 870.6L1203.0 870.6L1202.3 870.6L1201.6 870.8L1200.9 870.8L1200.2 870.8L1199.5 870.8L1198.8 870.8L1198.1 870.8L1197.4 870.8L1196.7 870.8L1196.0 870.4L1195.3 870.4L1194.6 870.4L1193.9 870.4L1193.2 870.5L1192.5 870.5L1191.8 870.5L1191.1 870.5L1190.4 870.5L1189.7 870.5L1189.0 870.5L1188.3 870.5L1187.6 870.6L1186.9 870.6L1186.2 870.6L1185.5 870.6L1184.8 870.6L1184.1 870.6L1183.4 870.6L1182.7 870.0L1182.0 870.0L1181.3 870.0L1180.6 870.0L1179.9 870.0L1179.2 870.0L1178.5 868.4L1177.8 868.6L1177.1 868.6L1176.4 868.6L1175.7 868.6L1175.0 868.6L1174.3 868.6L1173.6 868.6L1172.9 868.2L1172.2 868.2L1171.5 868.2L1170.8 868.1L1170.1 868.1L1169.4 868.1L1168.7 868.1L1168.0 868.1L1167.3 868.1L1166.6 867.9L1165.9 867.8L1165.2 867.8L1164.5 867.8L1163.8 867.0L1163.1 865.7L1162.4 865.1L1161.7 865.1L1161.0 864.8L1160.3 864.8L1159.6 864.8L1158.9 864.8L1158.2 863.3L1157.5 863.3L1156.8 862.5L1156.1 862.4L1155.4 862.4L1154.7 862.4L1154.0 862.4L1153.3 861.7L1152.6 861.7L1151.9 860.6L1151.2 860.1L1150.5 860.1L1149.8 860.1L1149.1 860.4L1148.4 860.4L1147.7 860.4L1147.0 861.0L1146.3 861.0L1145.6 861.0L1144.9 861.0L1144.2 861.0L1143.5 861.6L1142.8 861.6L1142.1 861.6L1141.4 861.6L1140.7 861.6L1140.0 861.6L1139.3 861.6L1138.6 862.0L1137.9 862.0L1137.2 862.0L1136.5 862.0L1135.8 863.7L1135.1 863.7L1134.4 863.7L1133.7 863.7L1133.0 863.7L1132.3 863.7L1131.6 863.7L1130.9 863.2L1130.2 863.2L1129.5 863.2L1128.8 863.2L1128.1 863.2L1127.4 864.6L1126.7 865.0L1126.0 865.0L1125.3 865.0L1124.6 865.0L1123.9 865.6L1123.2 865.6L1122.5 865.6L1121.8 865.6L1121.1 865.6L1120.4 865.6L1119.7 865.6L1119.0 865.6L1118.3 865.2L1117.6 865.2L1116.9 865.5L1116.2 866.1L1115.5 866.1L1114.8 866.1L1114.1 866.1L1113.4 866.1L1112.7 866.1L1112.0 866.1L1111.3 866.1L1110.6 865.6L1109.9 865.6L1109.2 865.6L1108.5 865.8L1107.8 865.8L1107.1 865.8L1106.4 865.8L1105.7 865.8L1105.0 865.8L1104.3 865.8L1103.6 865.0L1102.9 865.2L1102.2 865.2L1101.5 866.0L1100.8 866.0L1100.1 866.0L1099.4 866.0L1098.7 866.0L1098.0 866.0L1097.3 866.0L1096.6 866.0L1095.9 865.3L1095.2 865.3L1094.5 864.4L1093.8 864.4L1093.1 864.0L1092.4 864.0L1091.7 863.3L1091.0 863.3L1090.3 863.2L1089.6 863.2L1088.9 862.0L1088.2 862.0L1087.5 860.8L1086.8 858.9L1086.1 857.1L1085.4 855.9L1084.7 858.8L1084.0 859.3L1083.3 861.7L1082.6 861.7L1081.9 861.7L1081.2 863.6L1080.5 863.6L1079.8 863.6L1079.1 863.6L1078.4 863.6L1077.7 863.6L1077.0 863.6L1076.3 862.1L1075.6 860.9L1074.9 859.5L1074.2 858.9L1073.5 857.3L1072.8 857.3L1072.1 859.0L1071.4 860.9L1070.7 861.1L1070.0 862.6L1069.3 862.6L1068.6 862.6L1067.9 862.6L1067.2 862.8L1066.5 862.8L1065.8 862.8L1065.1 862.8L1064.4 862.8L1063.7 862.8L1063.0 862.8L1062.3 862.8L1061.6 862.2L1060.9 862.2L1060.2 862.2L1059.5 862.2L1058.8 862.2L1058.1 861.6L1057.4 861.6L1056.7 861.6L1056.0 861.6L1055.3 861.6L1054.6 861.6L1053.9 861.4L1053.2 861.4L1052.5 861.4L1051.8 861.4L1051.1 861.4L1050.4 861.4L1049.7 861.4L1049.0 861.0L1048.3 861.0L1047.6 861.2L1046.9 861.2L1046.2 861.2L1045.5 861.2L1044.8 861.2L1044.1 861.2L1043.4 861.2L1042.7 860.6L1042.0 860.6L1041.3 860.6L1040.6 860.6L1039.9 860.6L1039.2 859.5L1038.5 859.5L1037.8 859.5L1037.1 859.5L1036.4 859.5L1035.7 858.8L1035.0 858.8L1034.3 858.8L1033.6 858.8L1032.9 858.8L1032.2 857.4L1031.5 857.4L1030.8 857.4L1030.1 857.4L1029.4 857.4L1028.7 857.4L1028.0 857.5L1027.3 857.5L1026.6 857.8L1025.9 857.8L1025.2 857.8L1024.5 859.3L1023.8 859.3L1023.1 859.3L1022.4 859.4L1021.7 859.4L1021.0 860.7L1020.3 860.7L1019.6 860.7L1018.9 860.7L1018.2 861.5L1017.5 861.5L1016.8 861.5L1016.1 861.5L1015.4 861.6L1014.7 861.6L1014.0 861.6L1013.3 861.9L1012.6 861.9L1011.9 861.9L1011.2 861.9L1010.5 861.9L1009.8 861.9L1009.1 861.9L1008.4 861.0L1007.7 861.0L1007.0 861.0L1006.3 861.0L1005.6 861.2L1004.9 861.2L1004.2 861.2L1003.5 861.2L1002.8 861.2L1002.1 861.2L1001.4 861.2L1000.7 860.4L1000.0 860.4L999.3 860.4L998.6 860.4L997.9 860.4L997.2 860.4L996.5 858.9L995.8 858.2L995.1 858.2L994.4 857.6L993.7 857.6L993.0 857.6L992.3 857.6L991.6 856.0L990.9 854.2L990.2 854.2L989.5 853.6L988.8 853.6L988.1 853.6L987.4 853.6L986.7 852.7L986.0 852.7L985.3 852.8L984.6 852.8L983.9 852.8L983.2 852.8L982.5 852.8L981.8 852.8L981.1 852.8L980.4 852.6L979.7 852.6L979.0 852.6L978.3 852.4L977.6 852.4L976.9 852.4L976.2 852.5L975.5 852.5L974.8 852.5L974.1 852.5L973.4 852.5L972.7 852.5L972.0 852.5L971.3 852.5L970.6 851.8L969.9 851.8L969.2 851.3L968.5 852.4L967.8 852.4L967.1 853.1L966.4 853.1L965.7 853.1L965.0 853.1L964.3 854.6L963.6 854.6L962.9 855.2L962.2 855.2L961.5 857.5L960.8 857.5L960.1 857.5L959.4 857.5L958.7 857.5L958.0 857.5L957.3 857.5L956.6 857.7L955.9 857.7L955.2 857.7L954.5 857.7L953.8 857.7L953.1 857.7L952.4 857.7L951.7 857.7L951.0 856.8L950.3 856.8L949.6 856.8L948.9 856.8L948.2 856.7L947.5 857.0L946.8 857.0L946.1 857.0L945.4 857.2L944.7 857.2L944.0 858.3L943.3 858.3L942.6 858.3L941.9 858.3L941.2 858.3L940.5 858.3L939.8 858.3L939.1 857.2L938.4 857.2L937.7 856.3L937.0 856.7L936.3 856.7L935.6 856.7L934.9 856.7L934.2 856.7L933.5 856.7L932.8 856.7L932.1 856.7L931.4 855.9L930.7 855.9L930.0 857.2L929.3 857.2L928.6 857.2L927.9 857.2L927.2 857.2L926.5 857.2L925.8 857.2L925.1 856.0L924.4 856.6L923.7 856.6L923.0 856.6L922.3 856.6L921.6 856.6L920.9 856.6L920.2 856.6L919.5 855.4L918.8 855.2L918.1 855.2L917.4 855.6L916.7 855.6L916.0 855.6L915.3 855.6L914.6 855.6L913.9 855.6L913.2 855.6L912.5 855.6L911.8 855.2L911.1 855.2L910.4 855.2L909.7 853.6L909.0 853.6L908.3 853.6L907.6 853.0L906.9 852.1L906.2 852.1L905.5 852.1L904.8 849.0L904.1 848.3L903.4 844.7L902.7 843.9L902.0 836.9L901.3 837.9L900.6 841.0L899.9 844.9L899.2 845.1L898.5 846.7L897.8 846.7L897.1 846.7L896.4 846.7L895.7 846.7L895.0 846.9L894.3 846.9L893.6 846.9L892.9 846.9L892.2 846.9L891.5 846.9L890.8 846.9L890.1 846.9L889.4 845.8L888.7 845.8L888.0 846.4L887.3 846.4L886.6 846.8L885.9 848.7L885.2 848.8L884.5 848.8L883.8 848.8L883.1 849.7L882.4 849.7L881.7 849.7L881.0 849.7L880.3 850.1L879.6 852.3L878.9 852.3L878.2 852.3L877.5 852.3L876.8 852.3L876.1 852.3L875.4 852.3L874.7 851.9L874.0 852.2L873.3 852.2L872.6 852.2L871.9 852.3L871.2 852.3L870.5 852.3L869.8 852.3L869.1 852.3L868.4 852.3L867.7 852.3L867.0 852.3L866.3 851.8L865.6 851.8L864.9 851.8L864.2 851.5L863.5 851.5L862.8 850.9L862.1 850.9L861.4 850.8L860.7 850.8L860.0 850.8L859.3 851.3L858.6 851.3L857.9 851.3L857.2 851.3L856.5 851.3L855.8 851.3L855.1 851.3L854.4 851.3L853.7 851.3L853.0 851.3L852.3 850.2L851.6 850.2L850.9 850.2L850.2 850.0L849.5 849.4L848.8 849.4L848.1 849.3L847.4 849.3L846.7 849.3L846.0 849.3L845.3 849.0L844.6 849.0L843.9 849.0L843.2 849.0L842.5 849.0L841.8 850.2L841.1 850.2L840.4 850.2L839.7 850.2L839.0 850.2L838.3 850.2L837.6 850.2L836.9 850.2L836.2 849.9L835.5 849.9L834.8 849.9L834.1 849.5L833.4 849.5L832.7 849.5L832.0 849.5L831.3 849.5L830.6 847.3L829.9 847.3L829.2 847.3L828.5 844.8L827.8 844.8L827.1 843.9L826.4 841.9L825.7 843.5L825.0 843.5L824.3 843.5L823.6 843.5L822.9 843.5L822.2 843.5L821.5 843.5L820.8 843.1L820.1 843.1L819.4 843.1L818.7 842.8L818.0 842.8L817.3 842.8L816.6 842.7L815.9 841.5L815.2 842.4L814.5 842.7L813.8 842.7L813.1 844.4L812.4 844.4L811.7 844.4L811.0 844.4L810.3 844.4L809.6 844.4L808.9 844.4L808.2 844.4L807.5 844.4L806.8 844.7L806.1 844.7L805.4 844.7L804.7 844.7L804.0 844.7L803.3 844.7L802.6 844.7L801.9 844.7L801.2 843.7L800.5 844.0L799.8 844.0L799.1 844.0L798.4 844.0L797.7 844.0L797.0 844.0L796.3 844.0L795.6 844.0L794.9 843.1L794.2 843.1L793.5 843.1L792.8 843.1L792.1 843.1L791.4 843.1L790.7 844.3L790.0 844.3L789.3 844.3L788.6 844.3L787.9 844.3L787.2 844.3L786.5 844.3L785.8 844.3L785.1 842.6L784.4 842.6L783.7 842.6L783.0 842.5L782.3 841.9L781.6 841.3L780.9 841.8L780.2 841.8L779.5 843.1L778.8 843.1L778.1 843.1L777.4 843.1L776.7 843.1L776.0 843.1L775.3 843.1L774.6 843.1L773.9 841.8L773.2 841.8L772.5 841.8L771.8 841.8L771.1 840.6L770.4 837.0L769.7 836.7L769.0 834.7L768.3 834.7L767.6 831.5L766.9 835.1L766.2 836.1L765.5 836.1L764.8 838.0L764.1 838.0L763.4 838.0L762.7 839.6L762.0 839.6L761.3 839.6L760.6 839.6L759.9 839.6L759.2 839.6L758.5 839.6L757.8 839.4L757.1 839.4L756.4 841.1L755.7 842.1L755.0 842.1L754.3 842.1L753.6 842.4L752.9 842.4L752.2 842.6L751.5 842.6L750.8 842.6L750.1 842.6L749.4 843.9L748.7 843.9L748.0 843.9L747.3 843.9L746.6 843.9L745.9 843.9L745.2 843.9L744.5 842.3L743.8 842.3L743.1 842.3L742.4 839.8L741.7 838.9L741.0 838.9L740.3 835.0L739.6 831.9L738.9 833.8L738.2 835.3L737.5 840.3L736.8 840.3L736.1 840.3L735.4 840.3L734.7 840.3L734.0 840.3L733.3 840.3L732.6 839.2L731.9 839.2L731.2 838.0L730.5 838.0L729.8 838.6L729.1 838.9L728.4 839.6L727.7 839.6L727.0 842.1L726.3 842.1L725.6 842.1L724.9 842.1L724.2 842.1L723.5 842.1L722.8 842.1L722.1 840.2L721.4 840.2L720.7 840.1L720.0 840.1L719.3 839.1L718.6 839.0L717.9 838.5L717.2 838.5L716.5 832.4L715.8 832.4L715.1 835.2L714.4 837.3L713.7 838.3L713.0 838.3L712.3 838.3L711.6 838.3L710.9 838.3L710.2 840.3L709.5 840.3L708.8 840.3L708.1 840.3L707.4 840.3L706.7 840.3L706.0 841.1L705.3 841.1L704.6 841.1L703.9 841.1L703.2 841.1L702.5 841.1L701.8 841.1L701.1 841.1L700.4 840.3L699.7 840.3L699.0 840.3L698.3 840.3L697.6 838.3L696.9 837.2L696.2 837.2L695.5 837.2L694.8 837.2L694.1 837.2L693.4 837.2L692.7 835.8L692.0 835.8L691.3 834.7L690.6 834.7L689.9 834.7L689.2 834.7L688.5 832.8L687.8 832.8L687.1 832.8L686.4 831.7L685.7 831.7L685.0 831.7L684.3 831.6L683.6 831.6L682.9 831.6L682.2 828.5L681.5 828.5L680.8 828.5L680.1 827.7L679.4 827.7L678.7 827.7L678.0 825.0L677.3 824.5L676.6 824.5L675.9 824.5L675.2 824.5L674.5 824.5L673.8 822.6L673.1 822.6L672.4 822.6L671.7 822.6L671.0 818.4L670.3 818.4L669.6 818.4L668.9 818.4L668.2 817.0L667.5 813.9L666.8 811.7L666.1 811.7L665.4 810.8L664.7 810.1L664.0 808.0L663.3 809.7L662.6 809.7L661.9 809.7L661.2 809.7L660.5 809.7L659.8 809.7L659.1 809.7L658.4 809.7L657.7 809.4L657.0 809.4L656.3 809.4L655.6 809.8L654.9 809.8L654.2 809.8L653.5 809.8L652.8 809.8L652.1 809.8L651.4 809.8L650.7 809.5L650.0 807.1L649.3 807.0L648.6 810.5L647.9 810.5L647.2 810.5L646.5 810.5L645.8 810.5L645.1 810.5L644.4 810.5L643.7 810.5L643.0 804.4L642.3 805.3L641.6 810.3L640.9 810.3L640.2 810.8L639.5 813.1L638.8 813.4L638.1 813.4L637.4 815.3L636.7 816.4L636.0 816.7L635.3 816.7L634.6 816.7L633.9 816.7L633.2 816.7L632.5 816.7L631.8 816.7L631.1 816.6L630.4 816.6L629.7 816.6L629.0 816.6L628.3 815.0L627.6 815.0L626.9 815.0L626.2 815.0L625.5 815.0L624.8 815.0L624.1 815.0L623.4 815.0L622.7 815.0L622.0 813.4L621.3 807.9L620.6 806.8L619.9 805.1L619.2 804.0L618.5 803.9L617.8 803.9L617.1 803.6L616.4 803.6L615.7 802.1L615.0 802.1L614.3 802.1L613.6 802.1L612.9 801.9L612.2 801.7L611.5 800.5L610.8 799.8L610.1 797.7L609.4 797.7L608.7 797.7L608.0 796.2L607.3 793.5L606.6 792.9L605.9 790.2L605.2 788.9L604.5 792.5L603.8 795.1L603.1 795.1L602.4 795.3L601.7 795.3L601.0 795.3L600.3 795.3L599.6 795.3L598.9 795.3L598.2 795.3L597.5 792.7L596.8 792.7L596.1 792.7L595.4 791.6L594.7 791.6L594.0 791.4L593.3 790.9L592.6 790.9L591.9 790.9L591.2 790.9L590.5 789.7L589.8 789.7L589.1 787.9L588.4 787.9L587.7 787.1L587.0 785.8L586.3 785.8L585.6 785.3L584.9 785.3L584.2 782.5L583.5 782.5L582.8 781.7L582.1 781.7L581.4 781.5L580.7 781.5L580.0 778.4L579.3 776.3L578.6 776.3L577.9 773.4L577.2 773.4L576.5 772.5L575.8 772.1L575.1 768.4L574.4 768.4L573.7 768.4L573.0 766.6L572.3 765.8L571.6 762.3L570.9 762.3L570.2 760.2L569.5 760.2L568.8 760.2L568.1 758.1L567.4 758.6L566.7 758.7L566.0 758.7L565.3 758.7L564.6 758.7L563.9 758.7L563.2 758.7L562.5 758.7L561.8 758.7L561.1 754.7L560.4 753.8L559.7 752.7L559.0 755.9L558.3 758.0L557.6 758.5L556.9 758.5L556.2 758.5L555.5 761.4L554.8 761.4L554.1 761.4L553.4 761.4L552.7 761.4L552.0 761.4L551.3 761.4L550.6 760.0L549.9 762.0L549.2 762.0L548.5 762.0L547.8 762.0L547.1 762.0L546.4 762.0L545.7 762.1L545.0 762.1L544.3 762.5L543.6 762.5L542.9 762.5L542.2 762.5L541.5 762.5L540.8 763.4L540.1 763.4L539.4 763.7L538.7 763.7L538.0 763.7L537.3 763.7L536.6 765.6L535.9 765.6L535.2 765.6L534.5 765.6L533.8 765.6L533.1 765.6L532.4 765.6L531.7 764.3L531.0 763.4L530.3 762.6L529.6 762.6L528.9 762.0L528.2 762.0L527.5 762.0L526.8 758.8L526.1 757.7L525.4 756.6L524.7 754.8L524.0 754.8L523.3 754.8L522.6 754.8L521.9 754.8L521.2 753.7L520.5 753.0L519.8 753.0L519.1 752.6L518.4 751.8L517.7 751.8L517.0 751.8L516.3 745.0L515.6 744.4L514.9 737.1L514.2 739.6L513.5 742.1L512.8 746.2L512.1 746.2L511.4 746.2L510.7 747.0L510.0 747.0L509.3 747.0L508.6 747.6L507.9 747.6L507.2 747.6L506.5 749.5L505.8 749.8L505.1 751.5L504.4 751.5L503.7 751.5L503.0 751.5L502.3 751.5L501.6 751.5L500.9 751.5L500.2 751.5L499.5 750.8L498.8 750.8L498.1 748.3L497.4 748.3L496.7 747.1L496.0 742.9L495.3 729.9L494.6 717.3L493.9 682.2L493.2 623.6L492.5 651.4L491.8 664.7L491.1 671.8L490.4 680.1L489.7 685.0L489.0 687.8L488.3 692.7L487.6 696.1L486.9 701.6L486.2 703.0L485.5 707.7L484.8 710.3L484.1 712.5L483.4 718.1L482.7 719.0L482.0 720.7L481.3 726.5L480.6 728.6L479.9 734.0L479.2 736.3L478.5 737.3L477.8 740.5L477.1 744.1L476.4 745.7L475.7 750.4L475.0 753.1L474.3 756.4L473.6 756.4L472.9 756.4L472.2 756.4L471.5 756.4L470.8 758.3L470.1 759.2L469.4 761.8L468.7 762.7L468.0 762.7L467.3 762.7L466.6 762.7L465.9 767.3L465.2 767.3L464.5 767.3L463.8 767.3L463.1 767.3L462.4 767.3L461.7 767.3L461.0 767.3L460.3 767.6L459.6 767.8L458.9 767.8L458.2 768.5L457.5 768.5L456.8 768.5L456.1 768.5L455.4 768.5L454.7 768.5L454.0 768.5L453.3 765.1L452.6 765.1L451.9 765.1L451.2 763.5L450.5 763.5L449.8 763.5L449.1 763.5L448.4 762.8L447.7 762.8L447.0 760.1L446.3 759.9L445.6 762.9L444.9 762.9L444.2 762.9L443.5 763.2L442.8 765.7L442.1 765.7L441.4 767.1L440.7 767.7L440.0 767.7L439.3 769.1L438.6 769.7L437.9 769.7L437.2 771.6L436.5 771.6L435.8 771.6L435.1 771.6L434.4 771.6L433.7 771.6L433.0 774.5L432.3 774.5L431.6 774.6L430.9 776.0L430.2 776.0L429.5 776.3L428.8 776.3L428.1 777.2L427.4 777.2L426.7 778.8L426.0 778.8L425.3 778.8L424.6 778.8L423.9 778.8L423.2 778.8L422.5 778.8L421.8 778.8L421.1 778.3L420.4 782.2L419.7 782.2L419.0 782.2L418.3 782.2L417.6 782.2L416.9 782.2L416.2 782.2L415.5 781.7L414.8 781.7L414.1 781.7L413.4 781.7L412.7 781.7L412.0 781.7L411.3 781.7L410.6 779.1L409.9 780.7L409.2 782.6L408.5 785.4L407.8 786.4L407.1 786.4L406.4 786.5L405.7 786.5L405.0 787.6L404.3 787.6L403.6 787.7L402.9 787.7L402.2 787.7L401.5 787.7L400.8 787.7L400.1 789.5L399.4 789.5L398.7 789.8L398.0 789.8L397.3 789.8L396.6 789.8L395.9 789.8L395.2 789.8L394.5 789.8L393.8 787.1L393.1 785.9L392.4 783.6L391.7 781.9L391.0 778.0L390.3 778.2L389.6 782.2L388.9 787.7L388.2 789.2L387.5 789.6L386.8 791.1L386.1 792.6L385.4 792.6L384.7 792.9L384.0 792.9L383.3 792.9L382.6 792.9L381.9 792.9L381.2 792.9L380.5 794.1L379.8 794.1L379.1 794.1L378.4 794.1L377.7 794.1L377.0 794.1L376.3 794.1L375.6 795.3L374.9 795.3L374.2 795.3L373.5 798.0L372.8 798.0L372.1 798.0L371.4 798.0L370.7 798.0L370.0 798.0L369.3 798.0L368.6 798.9L367.9 798.9L367.2 798.9L366.5 798.9L365.8 800.4L365.1 800.4L364.4 800.4L363.7 800.4L363.0 800.4L362.3 800.4L361.6 800.7L360.9 800.7L360.2 800.7L359.5 800.7L358.8 802.5L358.1 802.5L357.4 802.5L356.7 805.7L356.0 805.9L355.3 806.0L354.6 806.0L353.9 806.0L353.2 807.7L352.5 807.7L351.8 807.7L351.1 807.8L350.4 807.8L349.7 808.3L349.0 810.4L348.3 810.4L347.6 810.4L346.9 810.4L346.2 812.2L345.5 812.2L344.8 813.7L344.1 813.7L343.4 813.7L342.7 813.7L342.0 813.7L341.3 813.7L340.6 814.8L339.9 815.1L339.2 815.1L338.5 815.1L337.8 815.1L337.1 815.1L336.4 815.1L335.7 815.1L335.0 815.1L334.3 815.1L333.6 815.1L332.9 816.0L332.2 816.0L331.5 816.3L330.8 816.4L330.1 816.4L329.4 816.5L328.7 816.5L328.0 816.5L327.3 816.6L326.6 816.6L325.9 816.6L325.2 816.6L324.5 816.6L323.8 816.6L323.1 816.6L322.4 817.1L321.7 817.1L321.0 817.1L320.3 817.1L319.6 817.1L318.9 817.1L318.2 817.1L317.5 816.2L316.8 816.2L316.1 816.2L315.4 816.2L314.7 816.1L314.0 814.4L313.3 813.0L312.6 813.9L311.9 816.2L311.2 816.5L310.5 818.5L309.8 818.8L309.1 824.2L308.4 824.2L307.7 824.4L307.0 824.4L306.3 824.4L305.6 824.4L304.9 824.4L304.2 824.4L303.5 824.4L302.8 825.1L302.1 825.1L301.4 825.1L300.7 825.1L300.0 825.1L299.3 825.2L298.6 825.2L297.9 825.2L297.2 825.2L296.5 825.2L295.8 825.2L295.1 825.2L294.4 824.6L293.7 827.9L293.0 827.9L292.3 827.9L291.6 827.9L290.9 827.9L290.2 827.9L289.5 827.9L288.8 827.9L288.1 826.7L287.4 827.4L286.7 827.4L286.0 828.2L285.3 828.2L284.6 828.2L283.9 828.2L283.2 828.2L282.5 828.2L281.8 828.2L281.1 828.0L280.4 828.0L279.7 828.0L279.0 828.0L278.3 830.3L277.6 830.3L276.9 830.3L276.2 830.3L275.5 830.3L274.8 830.3L274.1 830.3L273.4 827.7L272.7 827.7L272.0 827.9L271.3 829.3L270.6 829.3L269.9 829.3L269.2 829.3L268.5 829.3L267.8 829.3L267.1 829.3L266.4 829.2L265.7 829.2L265.0 829.2L264.3 829.2L263.6 829.2L262.9 829.9L262.2 829.9L261.5 829.9L260.8 829.9L260.1 829.9L259.4 829.9L258.7 830.2L258.0 830.2L257.3 830.2L256.6 830.2L255.9 830.2L255.2 830.2L254.5 830.2L253.8 830.2L253.1 830.0L252.4 830.0L251.7 830.0L251.0 828.7L250.3 828.7L249.6 828.7L248.9 828.7L248.2 828.4L247.5 828.4L246.8 827.2L246.1 827.2L245.4 826.2L244.7 826.1L244.0 826.1L243.3 826.5L242.6 826.5L241.9 828.2L241.2 828.2L240.5 828.2L239.8 828.2L239.1 828.2L238.4 828.2L237.7 828.2L237.0 828.2L236.3 828.0L235.6 828.0L234.9 828.0L234.2 828.0L233.5 828.0L232.8 826.7L232.1 826.7L231.4 826.2L230.7 826.2L230.0 826.2L229.3 826.2L228.6 826.2L227.9 825.7L227.2 825.7L226.5 825.7L225.8 825.7L225.1 823.6L224.4 823.6L223.7 823.5L223.0 823.5L222.3 823.5L221.6 823.5L220.9 823.5L220.2 823.5L219.5 820.3L218.8 820.1L218.1 820.2L217.4 820.2L216.7 820.2L216.0 820.2L215.3 820.2L214.6 820.2L213.9 820.2L213.2 821.2L212.5 821.2L211.8 821.2L211.1 821.2L210.4 821.2L209.7 821.2L209.0 821.2L208.3 821.2L207.6 819.5L206.9 818.9L206.2 818.9L205.5 818.9L204.8 818.9L204.1 818.9L203.4 814.9L202.7 814.9L202.0 814.9L201.3 814.9L200.6 814.3L199.9 814.3L199.2 814.3L198.5 814.3L197.8 814.3L197.1 814.3L196.4 814.3L195.7 814.3L195.0 813.1L194.3 813.1L193.6 813.1L192.9 813.1L192.2 813.1L191.5 813.1L190.8 813.1L190.1 812.5L189.4 812.5L188.7 812.5L188.0 808.1L187.3 808.1L186.6 808.1L185.9 808.1L185.2 808.1L184.5 806.6L183.8 805.2L183.1 805.1L182.4 805.1L181.7 803.7L181.0 803.7L180.3 803.7L179.6 803.7L178.9 803.7L178.2 803.7L177.5 803.7L176.8 801.5L176.1 801.5L175.4 800.7L174.7 800.7L174.0 800.7L173.3 800.7L172.6 800.7L171.9 800.7L171.2 800.7L170.5 798.1L169.8 796.7L169.1 796.1L168.4 796.1L167.7 796.1L167.0 796.1L166.3 796.1L165.6 796.1L164.9 796.1L164.2 794.6L163.5 791.9L162.8 791.9L162.1 791.9L161.4 791.2L160.7 790.5L160.0 789.8L159.3 788.0L158.6 788.0L157.9 785.4L157.2 785.4L156.5 784.9L155.8 785.7L155.1 785.7L154.4 785.7L153.7 785.7L153.0 785.7L152.3 785.7L151.6 785.7L150.9 785.7L150.2 784.3L149.5 782.6L148.8 782.0L148.1 781.9L147.4 780.8L146.7 780.8L146.0 780.8L145.3 780.2L144.6 778.6L143.9 778.6L143.2 776.9L142.5 776.7L141.8 776.7L141.1 773.7L140.4 773.7L139.7 773.7L139.0 773.2L138.3 773.2L137.6 773.2L136.9 773.2L136.2 772.5L135.5 769.0L134.8 769.0L134.1 769.0L133.4 769.0L132.7 769.0L132.0 766.2L131.3 766.2L130.6 766.2L129.9 766.2L129.2 766.2L128.5 765.7L127.8 764.8L127.1 763.0L126.4 760.6L125.7 760.5L125.0 760.5L124.3 760.5L123.6 760.0L122.9 760.0L122.2 759.2L121.5 759.2L120.8 756.0L120.1 756.0L119.4 756.0L118.7 756.0L118.0 756.0L117.3 756.0L116.6 756.0L115.9 754.1L115.2 753.0L114.5 753.0Z"/>
<path fill="#000000" d="M114.5 850.2L115.2 850.2L115.9 850.2L116.6 850.2L117.3 850.2L118.0 850.2L118.7 853.5L119.4 853.5L120.1 853.5L120.8 853.8L121.5 853.8L122.2 855.5L122.9 857.0L123.6 857.0L124.3 857.0L125.0 857.6L125.7 857.6L126.4 857.8L127.1 857.8L127.8 860.0L128.5 860.0L129.2 860.0L129.9 860.0L130.6 860.5L131.3 860.5L132.0 862.0L132.7 862.0L133.4 862.0L134.1 863.9L134.8 863.9L135.5 863.9L136.2 865.0L136.9 865.5L137.6 865.5L138.3 866.0L139.0 866.5L139.7 867.6L140.4 868.2L141.1 868.2L141.8 870.0L142.5 870.0L143.2 870.0L143.9 870.0L144.6 870.0L145.3 872.6L146.0 872.6L146.7 875.1L147.4 875.1L148.1 876.3L148.8 876.6L149.5 877.2L150.2 877.2L150.9 877.2L151.6 877.2L152.3 877.2L153.0 877.2L153.7 880.0L154.4 881.1L155.1 881.1L155.8 880.7L156.5 880.7L157.2 880.7L157.9 880.7L158.6 880.7L159.3 880.7L160.0 880.7L160.7 880.7L161.4 882.0L162.1 882.0L162.8 884.2L163.5 884.2L164.2 884.5L164.9 886.8L165.6 887.3L166.3 887.3L167.0 887.5L167.7 887.5L168.4 887.5L169.1 889.1L169.8 889.2L170.5 889.2L171.2 889.2L171.9 889.2L172.6 889.2L173.3 889.2L174.0 889.4L174.7 889.7L175.4 892.4L176.1 892.4L176.8 893.5L177.5 893.5L178.2 893.5L178.9 893.9L179.6 893.9L180.3 893.9L181.0 894.1L181.7 894.1L182.4 894.1L183.1 894.1L183.8 895.5L184.5 896.3L185.2 897.2L185.9 897.2L186.6 897.2L187.3 897.2L188.0 897.2L188.7 897.5L189.4 898.6L190.1 898.6L190.8 898.8L191.5 899.7L192.2 899.6L192.9 899.6L193.6 899.6L194.3 899.6L195.0 899.6L195.7 899.6L196.4 899.6L197.1 899.6L197.8 902.0L198.5 902.0L199.2 902.7L199.9 904.7L200.6 904.7L201.3 904.7L202.0 904.9L202.7 904.9L203.4 904.9L204.1 905.5L204.8 905.5L205.5 905.5L206.2 905.5L206.9 905.5L207.6 905.5L208.3 905.5L209.0 908.2L209.7 908.2L210.4 909.5L211.1 910.5L211.8 910.1L212.5 910.1L213.2 910.1L213.9 910.1L214.6 910.1L215.3 910.1L216.0 910.1L216.7 911.0L217.4 911.0L218.1 911.0L218.8 912.6L219.5 912.6L220.2 913.0L220.9 913.0L221.6 915.1L222.3 915.1L223.0 915.6L223.7 915.6L224.4 915.6L225.1 915.2L225.8 915.2L226.5 915.2L227.2 915.2L227.9 915.2L228.6 915.2L229.3 915.2L230.0 916.0L230.7 916.0L231.4 916.0L232.1 916.9L232.8 917.5L233.5 917.5L234.2 917.5L234.9 918.8L235.6 919.7L236.3 916.4L237.0 916.4L237.7 916.4L238.4 916.4L239.1 916.4L239.8 916.4L240.5 916.4L241.2 916.4L241.9 919.0L242.6 919.0L243.3 919.1L244.0 919.5L244.7 919.5L245.4 919.5L246.1 919.5L246.8 919.5L247.5 920.8L248.2 921.4L248.9 921.4L249.6 921.8L250.3 920.8L251.0 920.8L251.7 920.8L252.4 920.8L253.1 920.8L253.8 920.8L254.5 920.8L255.2 920.8L255.9 922.3L256.6 922.3L257.3 922.3L258.0 922.4L258.7 922.4L259.4 922.7L260.1 922.7L260.8 922.7L261.5 923.3L262.2 921.9L262.9 921.9L263.6 921.9L264.3 921.9L265.0 921.9L265.7 921.9L266.4 921.9L267.1 921.9L267.8 922.1L268.5 922.1L269.2 922.1L269.9 921.1L270.6 921.1L271.3 921.0L272.0 921.0L272.7 919.1L273.4 919.1L274.1 919.1L274.8 919.1L275.5 919.1L276.2 919.1L276.9 919.1L277.6 919.1L278.3 919.2L279.0 922.0L279.7 921.6L280.4 921.6L281.1 921.6L281.8 921.6L282.5 921.6L283.2 921.6L283.9 921.6L284.6 920.7L285.3 920.7L286.0 920.7L286.7 920.7L287.4 920.7L288.1 920.7L288.8 920.7L289.5 921.1L290.2 921.8L290.9 921.8L291.6 921.9L292.3 919.8L293.0 919.8L293.7 919.8L294.4 919.8L295.1 919.6L295.8 919.3L296.5 919.3L297.2 919.3L297.9 919.3L298.6 919.3L299.3 919.3L300.0 919.3L300.7 919.4L301.4 919.4L302.1 919.1L302.8 919.1L303.5 919.0L304.2 918.1L304.9 918.1L305.6 915.5L306.3 915.5L307.0 914.6L307.7 914.6L308.4 908.4L309.1 900.4L309.8 898.8L310.5 897.6L311.2 897.6L311.9 897.6L312.6 897.6L313.3 897.6L314.0 897.6L314.7 897.6L315.4 897.9L316.1 902.2L316.8 909.7L317.5 909.8L318.2 912.5L318.9 912.5L319.6 912.5L320.3 913.4L321.0 913.4L321.7 913.4L322.4 913.4L323.1 913.4L323.8 913.4L324.5 912.6L325.2 912.6L325.9 912.2L326.6 912.2L327.3 912.1L328.0 912.1L328.7 912.1L329.4 910.3L330.1 910.3L330.8 910.3L331.5 910.3L332.2 909.9L332.9 909.9L333.6 909.9L334.3 909.9L335.0 909.3L335.7 909.3L336.4 908.6L337.1 908.6L337.8 908.6L338.5 907.9L339.2 907.9L339.9 907.9L340.6 907.9L341.3 907.9L342.0 906.5L342.7 905.7L343.4 905.7L344.1 905.7L344.8 905.7L345.5 905.7L346.2 905.7L346.9 905.7L347.6 905.7L348.3 905.9L349.0 905.9L349.7 905.9L350.4 905.9L351.1 905.9L351.8 905.9L352.5 905.9L353.2 905.9L353.9 905.9L354.6 905.9L355.3 905.9L356.0 905.1L356.7 905.1L357.4 905.1L358.1 905.1L358.8 904.5L359.5 904.5L360.2 903.6L360.9 903.6L361.6 903.6L362.3 903.6L363.0 903.6L363.7 901.2L364.4 901.2L365.1 901.2L365.8 901.2L366.5 901.2L367.2 899.7L367.9 899.7L368.6 899.7L369.3 899.6L370.0 899.6L370.7 899.6L371.4 899.6L372.1 899.6L372.8 899.6L373.5 899.6L374.2 897.8L374.9 897.7L375.6 897.7L376.3 897.7L377.0 897.7L377.7 897.7L378.4 894.4L379.1 894.4L379.8 894.4L380.5 894.4L381.2 894.4L381.9 891.4L382.6 891.4L383.3 891.0L384.0 890.1L384.7 883.1L385.4 877.5L386.1 862.4L386.8 841.3L387.5 809.1L388.2 792.2L388.9 792.2L389.6 792.2L390.3 792.2L391.0 792.2L391.7 792.2L392.4 792.2L393.1 792.2L393.8 809.4L394.5 840.7L395.2 861.7L395.9 876.0L396.6 882.5L397.3 887.7L398.0 889.8L398.7 890.6L399.4 890.6L400.1 890.6L400.8 890.6L401.5 890.6L402.2 890.6L402.9 890.6L403.6 890.2L404.3 883.6L405.0 882.7L405.7 880.3L406.4 873.0L407.1 868.2L407.8 861.8L408.5 861.8L409.2 861.8L409.9 861.8L410.6 861.8L411.3 861.8L412.0 861.8L412.7 863.3L413.4 869.2L414.1 872.2L414.8 877.7L415.5 882.4L416.2 883.0L416.9 883.1L417.6 883.1L418.3 884.5L419.0 883.2L419.7 883.2L420.4 883.2L421.1 883.2L421.8 883.2L422.5 881.1L423.2 881.1L423.9 881.1L424.6 881.1L425.3 879.0L426.0 879.0L426.7 879.0L427.4 879.0L428.1 879.0L428.8 879.0L429.5 878.6L430.2 874.5L430.9 874.5L431.6 874.5L432.3 872.9L433.0 871.3L433.7 871.3L434.4 865.0L435.1 860.6L435.8 855.5L436.5 849.8L437.2 849.8L437.9 849.8L438.6 849.8L439.3 849.8L440.0 849.8L440.7 849.8L441.4 851.9L442.1 857.0L442.8 862.5L443.5 862.5L444.2 862.5L444.9 862.5L445.6 862.5L446.3 862.5L447.0 862.5L447.7 865.3L448.4 865.3L449.1 865.3L449.8 866.6L450.5 866.6L451.2 868.8L451.9 868.8L452.6 868.8L453.3 868.8L454.0 868.8L454.7 868.8L455.4 868.8L456.1 869.1L456.8 869.1L457.5 869.1L458.2 869.1L458.9 870.3L459.6 870.8L460.3 870.8L461.0 870.7L461.7 870.7L462.4 870.3L463.1 866.2L463.8 866.2L464.5 866.2L465.2 866.2L465.9 866.2L466.6 866.2L467.3 865.5L468.0 862.3L468.7 861.7L469.4 861.7L470.1 859.6L470.8 859.6L471.5 857.0L472.2 857.0L472.9 852.0L473.6 851.5L474.3 848.8L475.0 844.6L475.7 841.2L476.4 841.1L477.1 836.8L477.8 834.6L478.5 828.2L479.2 825.9L479.9 822.7L480.6 816.8L481.3 811.9L482.0 805.3L482.7 800.7L483.4 792.5L484.1 786.9L484.8 785.8L485.5 780.8L486.2 776.7L486.9 771.0L487.6 755.2L488.3 730.5L489.0 700.1L489.7 688.5L490.4 688.5L491.1 688.5L491.8 688.5L492.5 688.5L493.2 688.5L493.9 688.5L494.6 688.5L495.3 713.4L496.0 756.6L496.7 792.0L497.4 819.5L498.1 832.5L498.8 842.1L499.5 848.2L500.2 850.1L500.9 853.9L501.6 852.5L502.3 852.5L503.0 849.8L503.7 849.8L504.4 849.8L505.1 847.1L505.8 846.3L506.5 846.3L507.2 845.9L507.9 845.9L508.6 843.6L509.3 839.6L510.0 831.7L510.7 822.0L511.4 815.7L512.1 812.5L512.8 812.5L513.5 812.5L514.2 812.5L514.9 812.5L515.6 812.5L516.3 812.5L517.0 815.0L517.7 827.3L518.4 837.6L519.1 845.6L519.8 851.0L520.5 855.5L521.2 858.9L521.9 860.7L522.6 860.8L523.3 861.8L524.0 861.8L524.7 861.8L525.4 861.8L526.1 861.8L526.8 861.8L527.5 861.8L528.2 862.2L528.9 862.2L529.6 864.2L530.3 864.2L531.0 863.6L531.7 861.8L532.4 861.8L533.1 861.8L533.8 861.8L534.5 861.8L535.2 861.8L535.9 861.8L536.6 861.8L537.3 864.3L538.0 864.3L538.7 864.3L539.4 866.2L540.1 866.7L540.8 866.9L541.5 868.1L542.2 868.7L542.9 868.7L543.6 867.5L544.3 867.5L545.0 867.5L545.7 867.5L546.4 867.5L547.1 867.5L547.8 867.5L548.5 867.5L549.2 867.7L549.9 870.0L550.6 870.9L551.3 870.9L552.0 871.2L552.7 871.2L553.4 871.2L554.1 872.1L554.8 872.1L555.5 872.1L556.2 871.7L556.9 871.7L557.6 870.4L558.3 869.4L559.0 868.8L559.7 868.8L560.4 868.0L561.1 868.0L561.8 868.0L562.5 868.0L563.2 868.0L563.9 868.0L564.6 868.0L565.3 868.0L566.0 868.4L566.7 868.4L567.4 867.3L568.1 865.5L568.8 865.5L569.5 865.5L570.2 865.5L570.9 865.5L571.6 865.5L572.3 865.5L573.0 865.5L573.7 865.5L574.4 866.7L575.1 870.6L575.8 874.1L576.5 875.7L577.2 879.4L577.9 881.5L578.6 881.5L579.3 886.4L580.0 887.0L580.7 887.0L581.4 889.6L582.1 889.6L582.8 889.6L583.5 892.4L584.2 892.4L584.9 892.4L585.6 894.0L586.3 894.0L587.0 894.0L587.7 894.2L588.4 894.2L589.1 894.2L589.8 894.2L590.5 895.1L591.2 895.6L591.9 895.6L592.6 895.6L593.3 896.4L594.0 896.4L594.7 896.4L595.4 898.7L596.1 898.7L596.8 898.1L597.5 898.1L598.2 898.1L598.9 898.1L599.6 898.1L600.3 898.1L601.0 898.1L601.7 896.6L602.4 891.5L603.1 882.2L603.8 879.0L604.5 879.0L605.2 879.0L605.9 879.0L606.6 879.0L607.3 879.0L608.0 879.0L608.7 879.0L609.4 885.1L610.1 890.7L610.8 897.4L611.5 900.0L612.2 902.4L612.9 902.4L613.6 904.7L614.3 904.7L615.0 904.7L615.7 904.7L616.4 904.7L617.1 904.9L617.8 904.9L618.5 907.5L619.2 907.5L619.9 907.5L620.6 908.1L621.3 908.1L622.0 911.2L622.7 911.2L623.4 911.4L624.1 912.7L624.8 912.7L625.5 912.7L626.2 914.6L626.9 914.6L627.6 914.6L628.3 914.6L629.0 914.6L629.7 914.6L630.4 914.6L631.1 914.6L631.8 914.6L632.5 916.0L633.2 916.0L633.9 912.5L634.6 912.5L635.3 911.4L636.0 911.4L636.7 909.6L637.4 905.8L638.1 905.1L638.8 899.0L639.5 892.9L640.2 888.5L640.9 888.5L641.6 888.5L642.3 888.5L643.0 888.5L643.7 888.5L644.4 888.5L645.1 888.5L645.8 891.9L646.5 894.2L647.2 894.2L647.9 894.2L648.6 894.2L649.3 894.2L650.0 894.2L650.7 894.2L651.4 894.2L652.1 897.1L652.8 901.9L653.5 902.6L654.2 904.9L654.9 905.6L655.6 905.6L656.3 904.4L657.0 904.2L657.7 904.2L658.4 904.2L659.1 903.2L659.8 899.2L660.5 897.1L661.2 886.9L661.9 881.8L662.6 881.8L663.3 881.8L664.0 881.8L664.7 881.8L665.4 881.8L666.1 881.8L666.8 882.2L667.5 888.0L668.2 899.5L668.9 906.5L669.6 912.4L670.3 912.4L671.0 915.2L671.7 915.2L672.4 918.6L673.1 918.9L673.8 918.9L674.5 918.9L675.2 918.9L675.9 921.2L676.6 921.2L677.3 921.2L678.0 922.1L678.7 922.1L679.4 922.1L680.1 922.9L680.8 922.9L681.5 922.9L682.2 922.9L682.9 925.8L683.6 925.8L684.3 925.8L685.0 925.8L685.7 927.0L686.4 927.0L687.1 927.0L687.8 930.2L688.5 930.3L689.2 930.3L689.9 933.0L690.6 932.8L691.3 932.8L692.0 932.8L692.7 932.8L693.4 932.8L694.1 932.8L694.8 932.8L695.5 932.8L696.2 932.9L696.9 932.9L697.6 932.9L698.3 932.9L699.0 932.9L699.7 932.9L700.4 932.9L701.1 932.9L701.8 933.1L702.5 933.1L703.2 932.5L703.9 931.4L704.6 931.4L705.3 931.4L706.0 931.4L706.7 931.4L707.4 931.4L708.1 931.4L708.8 931.4L709.5 932.4L710.2 931.0L710.9 928.3L711.6 925.8L712.3 919.8L713.0 910.9L713.7 905.7L714.4 905.7L715.1 905.7L715.8 905.7L716.5 905.7L717.2 905.7L717.9 905.7L718.6 905.7L719.3 913.1L720.0 920.3L720.7 929.4L721.4 932.3L722.1 933.1L722.8 935.1L723.5 936.2L724.2 937.3L724.9 936.6L725.6 934.8L726.3 930.4L727.0 928.4L727.7 922.3L728.4 922.3L729.1 922.3L729.8 922.3L730.5 922.3L731.2 922.3L731.9 922.3L732.6 923.8L733.3 928.4L734.0 934.7L734.7 930.0L735.4 929.2L736.1 921.2L736.8 912.9L737.5 905.8L738.2 905.8L738.9 905.8L739.6 905.8L740.3 905.8L741.0 905.8L741.7 905.8L742.4 905.8L743.1 910.4L743.8 922.5L744.5 927.6L745.2 932.4L745.9 934.6L746.6 934.6L747.3 937.1L748.0 937.1L748.7 937.1L749.4 937.1L750.1 936.9L750.8 936.9L751.5 936.9L752.2 936.9L752.9 936.9L753.6 936.4L754.3 936.4L755.0 936.4L755.7 936.4L756.4 936.4L757.1 936.4L757.8 936.4L758.5 936.4L759.2 937.1L759.9 937.1L760.6 938.0L761.3 936.5L762.0 934.3L762.7 931.2L763.4 926.4L764.1 919.0L764.8 913.9L765.5 908.7L766.2 908.7L766.9 908.7L767.6 908.7L768.3 908.7L769.0 908.7L769.7 908.7L770.4 908.7L771.1 912.2L771.8 920.6L772.5 926.3L773.2 932.9L773.9 934.8L774.6 935.3L775.3 937.1L776.0 937.1L776.7 937.1L777.4 937.1L778.1 937.1L778.8 937.1L779.5 937.1L780.2 937.2L780.9 938.4L781.6 938.4L782.3 938.4L783.0 938.4L783.7 938.2L784.4 938.2L785.1 938.2L785.8 938.2L786.5 938.2L787.2 938.2L787.9 938.2L788.6 938.2L789.3 939.0L790.0 939.0L790.7 939.0L791.4 939.0L792.1 939.4L792.8 939.4L793.5 939.4L794.2 939.4L794.9 939.4L795.6 938.2L796.3 937.8L797.0 937.8L797.7 937.4L798.4 937.4L799.1 937.4L799.8 937.4L800.5 937.4L801.2 937.4L801.9 937.4L802.6 938.4L803.3 938.6L804.0 938.8L804.7 938.8L805.4 938.8L806.1 938.5L806.8 938.5L807.5 938.5L808.2 938.5L808.9 938.5L809.6 938.5L810.3 938.5L811.0 938.5L811.7 940.4L812.4 940.4L813.1 940.1L813.8 940.1L814.5 939.7L815.2 939.7L815.9 939.7L816.6 939.7L817.3 939.7L818.0 939.7L818.7 939.7L819.4 940.9L820.1 936.3L820.8 935.9L821.5 928.7L822.2 928.3L822.9 922.1L823.6 922.1L824.3 922.1L825.0 922.1L825.7 922.1L826.4 922.1L827.1 922.1L827.8 922.9L828.5 926.2L829.2 931.2L829.9 939.5L830.6 941.0L831.3 941.4L832.0 942.6L832.7 942.6L833.4 942.6L834.1 944.3L834.8 944.3L835.5 944.3L836.2 944.3L836.9 944.3L837.6 946.0L838.3 946.0L839.0 946.0L839.7 946.0L840.4 946.0L841.1 946.0L841.8 946.6L842.5 946.6L843.2 946.7L843.9 946.7L844.6 946.1L845.3 946.1L846.0 946.1L846.7 946.1L847.4 946.1L848.1 946.1L848.8 945.8L849.5 945.8L850.2 945.8L850.9 945.8L851.6 945.8L852.3 945.8L853.0 945.8L853.7 945.1L854.4 945.1L855.1 945.1L855.8 945.1L856.5 945.1L857.2 945.1L857.9 945.1L858.6 945.1L859.3 945.9L860.0 945.9L860.7 945.9L861.4 945.9L862.1 945.9L862.8 944.6L863.5 944.6L864.2 944.0L864.9 940.9L865.6 937.7L866.3 930.8L867.0 929.1L867.7 929.1L868.4 929.1L869.1 929.1L869.8 929.1L870.5 929.1L871.2 929.1L871.9 929.1L872.6 932.5L873.3 938.6L874.0 942.1L874.7 943.1L875.4 946.0L876.1 946.1L876.8 946.1L877.5 946.1L878.2 946.3L878.9 945.7L879.6 945.7L880.3 945.7L881.0 944.8L881.7 944.2L882.4 944.2L883.1 944.2L883.8 944.2L884.5 944.2L885.2 944.2L885.9 943.4L886.6 942.1L887.3 941.5L888.0 941.5L888.7 940.1L889.4 940.1L890.1 940.1L890.8 940.1L891.5 940.1L892.2 940.1L892.9 940.1L893.6 941.5L894.3 942.5L895.0 942.0L895.7 940.6L896.4 934.6L897.1 928.2L897.8 914.7L898.5 898.2L899.2 890.4L899.9 890.4L900.6 890.4L901.3 890.4L902.0 890.4L902.7 890.4L903.4 890.4L904.1 890.4L904.8 898.0L905.5 915.8L906.2 929.9L906.9 935.8L907.6 941.9L908.3 941.9L909.0 946.4L909.7 946.9L910.4 947.4L911.1 947.1L911.8 947.1L912.5 947.1L913.2 947.1L913.9 947.1L914.6 947.1L915.3 947.1L916.0 947.1L916.7 947.6L917.4 947.6L918.1 945.8L918.8 945.8L919.5 945.8L920.2 945.8L920.9 945.8L921.6 945.8L922.3 945.8L923.0 945.8L923.7 946.1L924.4 946.1L925.1 946.1L925.8 946.1L926.5 946.1L927.2 946.4L927.9 946.4L928.6 946.4L929.3 946.4L930.0 946.4L930.7 946.8L931.4 946.8L932.1 947.8L932.8 947.8L933.5 947.8L934.2 947.8L934.9 948.5L935.6 948.5L936.3 948.5L937.0 949.0L937.7 949.0L938.4 949.7L939.1 950.7L939.8 950.7L940.5 951.0L941.2 951.0L941.9 951.0L942.6 951.0L943.3 952.0L944.0 951.6L944.7 951.6L945.4 951.3L946.1 951.3L946.8 951.3L947.5 951.3L948.2 951.3L948.9 950.3L949.6 950.2L950.3 950.2L951.0 950.2L951.7 950.2L952.4 950.1L953.1 948.6L953.8 948.6L954.5 948.6L955.2 947.6L955.9 947.6L956.6 947.6L957.3 947.6L958.0 947.6L958.7 947.6L959.4 947.6L960.1 946.4L960.8 946.4L961.5 946.4L962.2 946.4L962.9 946.4L963.6 944.8L964.3 944.8L965.0 944.8L965.7 944.8L966.4 944.8L967.1 944.8L967.8 944.8L968.5 944.8L969.2 944.7L969.9 944.7L970.6 944.7L971.3 944.7L972.0 944.7L972.7 944.7L973.4 944.7L974.1 944.7L974.8 945.1L975.5 945.1L976.2 945.1L976.9 945.1L977.6 945.1L978.3 945.0L979.0 945.0L979.7 945.0L980.4 943.0L981.1 941.5L981.8 939.7L982.5 935.7L983.2 935.2L983.9 935.2L984.6 935.2L985.3 935.2L986.0 935.2L986.7 935.2L987.4 935.2L988.1 937.6L988.8 938.7L989.5 942.5L990.2 942.5L990.9 942.5L991.6 942.5L992.3 942.5L993.0 942.5L993.7 942.7L994.4 945.6L995.1 948.2L995.8 950.5L996.5 950.5L997.2 951.0L997.9 952.5L998.6 952.5L999.3 953.8L1000.0 952.8L1000.7 952.8L1001.4 952.8L1002.1 952.8L1002.8 952.8L1003.5 952.8L1004.2 952.8L1004.9 952.8L1005.6 953.4L1006.3 953.4L1007.0 952.7L1007.7 952.7L1008.4 952.6L1009.1 952.6L1009.8 952.0L1010.5 952.0L1011.2 952.0L1011.9 952.0L1012.6 952.0L1013.3 952.0L1014.0 951.9L1014.7 951.9L1015.4 951.9L1016.1 951.9L1016.8 951.9L1017.5 951.2L1018.2 950.8L1018.9 950.6L1019.6 950.6L1020.3 950.6L1021.0 950.6L1021.7 950.6L1022.4 948.9L1023.1 948.9L1023.8 948.9L1024.5 948.5L1025.2 948.5L1025.9 948.0L1026.6 948.0L1027.3 948.0L1028.0 946.4L1028.7 946.4L1029.4 946.4L1030.1 946.4L1030.8 946.4L1031.5 946.4L1032.2 946.4L1032.9 946.6L1033.6 946.6L1034.3 946.6L1035.0 946.6L1035.7 946.9L1036.4 946.9L1037.1 946.9L1037.8 946.9L1038.5 948.0L1039.2 948.0L1039.9 949.1L1040.6 949.1L1041.3 949.1L1042.0 949.1L1042.7 950.2L1043.4 950.4L1044.1 950.4L1044.8 950.4L1045.5 950.9L1046.2 950.9L1046.9 950.9L1047.6 951.8L1048.3 951.8L1049.0 952.0L1049.7 952.0L1050.4 952.0L1051.1 952.1L1051.8 952.1L1052.5 953.1L1053.2 953.1L1053.9 953.1L1054.6 953.5L1055.3 953.5L1056.0 953.5L1056.7 953.5L1057.4 953.5L1058.1 953.5L1058.8 953.5L1059.5 953.6L1060.2 953.6L1060.9 953.8L1061.6 953.8L1062.3 953.8L1063.0 953.8L1063.7 953.8L1064.4 953.7L1065.1 953.6L1065.8 953.6L1066.5 952.7L1067.2 952.6L1067.9 948.6L1068.6 944.0L1069.3 934.1L1070.0 919.7L1070.7 906.0L1071.4 903.7L1072.1 903.7L1072.8 903.7L1073.5 903.7L1074.2 903.7L1074.9 903.7L1075.6 903.7L1076.3 905.6L1077.0 921.6L1077.7 935.0L1078.4 945.5L1079.1 950.7L1079.8 952.6L1080.5 954.1L1081.2 952.3L1081.9 948.1L1082.6 944.2L1083.3 943.6L1084.0 943.1L1084.7 943.1L1085.4 943.1L1086.1 943.1L1086.8 943.1L1087.5 943.1L1088.2 943.1L1088.9 944.1L1089.6 948.0L1090.3 951.4L1091.0 953.1L1091.7 955.2L1092.4 955.9L1093.1 955.9L1093.8 957.9L1094.5 957.9L1095.2 957.9L1095.9 957.9L1096.6 957.9L1097.3 957.9L1098.0 957.9L1098.7 957.9L1099.4 957.9L1100.1 957.9L1100.8 959.3L1101.5 959.2L1102.2 959.2L1102.9 959.2L1103.6 959.2L1104.3 959.2L1105.0 959.2L1105.7 958.6L1106.4 958.6L1107.1 958.5L1107.8 958.2L1108.5 958.2L1109.2 958.2L1109.9 958.2L1110.6 958.2L1111.3 958.0L1112.0 958.0L1112.7 957.4L1113.4 957.4L1114.1 957.4L1114.8 957.4L1115.5 957.4L1116.2 957.3L1116.9 957.0L1117.6 955.9L1118.3 955.9L1119.0 955.9L1119.7 955.9L1120.4 955.9L1121.1 955.9L1121.8 955.4L1122.5 955.4L1123.2 954.8L1123.9 954.8L1124.6 954.8L1125.3 954.8L1126.0 954.8L1126.7 954.8L1127.4 954.8L1128.1 954.5L1128.8 954.5L1129.5 954.5L1130.2 954.5L1130.9 954.5L1131.6 954.5L1132.3 954.5L1133.0 954.5L1133.7 955.1L1134.4 955.1L1135.1 955.1L1135.8 954.8L1136.5 954.8L1137.2 954.4L1137.9 954.1L1138.6 954.1L1139.3 954.1L1140.0 953.8L1140.7 953.8L1141.4 953.8L1142.1 953.8L1142.8 953.8L1143.5 953.7L1144.2 953.7L1144.9 953.5L1145.6 953.5L1146.3 952.7L1147.0 952.7L1147.7 952.7L1148.4 952.7L1149.1 952.7L1149.8 951.3L1150.5 951.3L1151.2 951.3L1151.9 951.3L1152.6 951.3L1153.3 951.3L1154.0 951.3L1154.7 951.7L1155.4 951.7L1156.1 951.7L1156.8 951.7L1157.5 951.7L1158.2 951.7L1158.9 952.0L1159.6 952.0L1160.3 953.0L1161.0 953.0L1161.7 953.0L1162.4 953.0L1163.1 953.0L1163.8 953.8L1164.5 954.9L1165.2 954.9L1165.9 954.9L1166.6 956.9L1167.3 956.9L1168.0 958.0L1168.7 958.2L1169.4 958.8L1170.1 958.8L1170.8 958.8L1171.5 959.3L1172.2 959.3L1172.9 959.3L1173.6 959.3L1174.3 959.3L1175.0 959.3L1175.7 960.0L1176.4 960.0L1177.1 960.0L1177.8 960.0L1178.5 960.0L1179.2 960.3L1179.9 960.3L1180.6 960.3L1181.3 960.3L1182.0 960.3L1182.7 960.3L1183.4 960.3L1184.1 960.6L1184.8 960.6L1185.5 960.6L1186.2 960.6L1186.9 960.6L1187.6 961.9L1188.3 961.9L1189.0 962.2L1189.7 961.4L1190.4 961.4L1191.1 961.4L1191.8 961.4L1192.5 961.4L1193.2 961.4L1193.9 961.4L1194.6 961.4L1195.3 961.4L1196.0 961.4L1196.7 961.4L1197.4 961.4L1198.1 961.4L1198.8 961.5L1199.5 961.6L1200.2 961.6L1200.9 961.6L1201.6 961.5L1202.3 961.5L1203.0 960.7L1203.7 958.8L1204.4 957.5L1205.1 954.8L1205.8 952.6L1206.5 949.9L1207.2 946.5L1207.9 944.5L1208.6 944.5L1209.3 944.5L1210.0 944.5L1210.7 944.5L1211.4 944.5L1212.1 944.5L1212.8 944.5L1213.5 945.4L1214.2 945.4L1214.9 943.0L1215.6 943.0L1216.3 943.0L1217.0 943.0L1217.7 943.0L1218.4 943.0L1219.1 943.0L1219.8 944.7L1220.5 947.0L1221.2 950.9L1221.9 955.1L1222.6 956.5L1223.3 958.9L1224.0 960.3L1224.7 962.9L1225.4 963.2L1226.1 963.3L1226.8 963.3L1227.5 963.3L1228.2 963.7L1228.9 964.3L1229.6 964.3L1230.3 965.9L1231.0 965.9L1231.7 964.8L1232.4 964.8L1233.1 964.8L1233.8 964.8L1234.5 964.8L1235.2 964.8L1235.9 964.8L1236.6 964.8L1237.3 964.9L1238.0 964.9L1238.7 964.9L1239.4 964.9L1240.1 964.9L1240.8 964.9L1241.5 964.2L1242.2 964.2L1242.9 964.2L1243.6 964.2L1244.3 964.2L1245.0 964.2L1245.7 964.2L1246.4 964.2L1247.1 964.2L1247.8 964.2L1248.5 963.8L1249.2 963.8L1249.9 963.8L1250.6 963.5L1251.3 963.5L1252.0 963.5L1252.7 963.5L1253.4 963.5L1254.1 963.5L1254.8 963.5L1255.5 963.6L1256.2 963.6L1256.9 964.4L1257.6 964.4L1258.3 964.4L1259.0 965.9L1259.7 965.9L1260.4 965.9L1261.1 965.9L1261.8 966.9L1262.5 966.9L1263.2 966.9L1263.9 966.9L1264.6 966.9L1265.3 966.9L1266.0 966.9L1266.7 968.1L1267.4 968.3L1268.1 968.0L1268.8 968.0L1269.5 968.0L1270.2 968.0L1270.9 968.0L1271.6 968.0L1272.3 968.0L1273.0 968.7L1273.7 968.7L1274.4 968.7L1275.1 968.7L1275.8 969.2L1276.5 969.2L1277.2 969.2L1277.9 969.2L1278.6 970.2L1279.3 970.2L1280.0 970.2L1280.7 970.2L1281.4 970.2L1282.1 970.7L1282.8 970.7L1283.5 970.6L1284.2 970.6L1284.9 970.6L1285.6 970.6L1286.3 970.6L1287.0 970.6L1287.7 970.6L1288.4 970.9L1289.1 970.4L1289.8 970.2L1290.5 970.2L1291.2 969.1L1291.9 969.1L1292.6 969.1L1293.3 969.1L1294.0 969.1L1294.7 969.1L1295.4 969.1L1296.1 969.1L1296.8 969.3L1297.5 969.3L1298.2 969.3L1298.9 969.2L1299.6 969.1L1300.3 969.1L1301.0 969.1L1301.7 969.1L1302.4 969.1L1303.1 969.1L1303.8 969.1L1304.5 969.1L1305.2 968.8L1305.9 968.8L1306.6 967.0L1307.3 967.0L1308.0 967.0L1308.7 967.0L1309.4 967.0L1310.1 967.0L1310.8 967.0L1311.5 966.6L1312.2 966.6L1312.9 966.6L1313.6 966.6L1314.3 966.6L1315.0 966.6L1315.7 966.6L1316.4 966.9L1317.1 966.5L1317.8 966.5L1318.5 966.5L1319.2 966.5L1319.9 966.5L1320.6 966.5L1321.3 966.5L1322.0 966.8L1322.7 966.8L1323.4 966.8L1324.1 967.2L1324.8 968.1L1325.5 968.1L1326.2 968.1L1326.9 968.1L1327.6 967.6L1328.3 967.6L1329.0 967.6L1329.7 967.6L1330.4 967.6L1331.1 967.6L1331.8 967.6L1332.5 967.6L1333.2 967.6L1333.9 967.6L1334.6 968.1L1335.3 968.1L1336.0 968.1L1336.7 967.7L1337.4 967.7L1338.1 967.7L1338.8 967.2L1339.5 967.2L1340.2 967.2L1340.9 967.2L1341.6 967.2L1342.3 967.2L1343.0 967.2L1343.7 967.2L1344.4 968.5L1345.1 967.6L1345.8 967.6L1346.5 967.6L1347.2 967.6L1347.9 967.6L1348.6 967.6L1349.3 967.6L1350.0 967.6L1350.7 969.5L1351.4 970.7L1352.1 970.7L1352.8 971.4L1353.5 972.0L1354.2 972.1L1354.9 972.6L1355.6 972.6L1356.3 972.6L1357.0 972.7L1357.7 972.7L1358.4 973.0L1359.1 973.0L1359.8 973.0L1360.5 973.0L1361.2 973.0L1361.9 973.5L1362.6 973.5L1363.3 973.5L1364.0 973.5L1364.7 973.5L1365.4 973.5L1366.1 973.5L1366.8 973.5L1367.5 973.6L1368.2 973.6L1368.9 973.6L1369.6 973.8L1370.3 974.2L1371.0 974.2L1371.7 974.2L1372.4 974.8L1373.1 975.7L1373.8 975.7L1374.5 975.7L1375.2 975.7L1375.9 975.7L1376.6 975.8L1377.3 975.8L1378.0 975.8L1378.7 976.5L1379.4 976.2L1380.1 976.2L1380.8 976.2L1381.5 976.2L1382.2 976.2L1382.9 976.2L1383.6 976.2L1384.3 976.2L1385.0 976.9L1385.7 976.3L1386.4 976.3L1387.1 976.3L1387.8 976.3L1388.5 976.3L1389.2 976.3L1389.9 976.2L1390.6 976.2L1391.3 976.2L1392.0 976.0L1392.7 976.0L1393.4 976.0L1394.1 975.6L1394.8 975.6L1395.5 975.6L1396.2 975.6L1396.9 975.6L1397.6 975.6L1398.3 975.6L1399.0 975.6L1399.7 975.9L1400.4 975.9L1401.1 975.9L1401.8 975.9L1402.5 976.0L1403.2 976.0L1403.9 976.7L1404.6 976.7L1405.3 976.1L1406.0 976.1L1406.7 976.1L1407.4 976.1L1408.1 976.1L1408.8 976.1L1409.5 976.1L1410.2 976.1L1410.9 976.1L1411.6 976.1L1412.3 976.1L1413.0 976.1L1413.7 976.1L1414.4 974.5L1415.1 972.9L1415.8 971.2L1416.5 971.2L1417.2 967.6L1417.9 967.1L1418.6 965.6L1419.3 965.6L1420.0 965.6L1420.7 965.6L1420.7 977.1L1420.0 979.7L1419.3 979.9L1418.6 981.1L1417.9 982.8L1417.2 982.8L1416.5 982.8L1415.8 983.3L1415.1 983.3L1414.4 983.3L1413.7 983.7L1413.0 983.7L1412.3 984.3L1411.6 984.3L1410.9 984.3L1410.2 984.3L1409.5 985.1L1408.8 985.1L1408.1 985.1L1407.4 985.1L1406.7 985.1L1406.0 985.1L1405.3 985.1L1404.6 985.1L1403.9 984.6L1403.2 984.6L1402.5 984.6L1401.8 984.6L1401.1 984.6L1400.4 984.6L1399.7 984.6L1399.0 984.2L1398.3 984.2L1397.6 984.2L1396.9 984.2L1396.2 983.5L1395.5 983.5L1394.8 983.5L1394.1 983.1L1393.4 984.5L1392.7 984.5L1392.0 984.5L1391.3 984.5L1390.6 984.5L1389.9 984.5L1389.2 984.5L1388.5 984.5L1387.8 984.5L1387.1 984.5L1386.4 984.5L1385.7 984.1L1385.0 984.6L1384.3 984.6L1383.6 984.6L1382.9 984.6L1382.2 984.6L1381.5 984.6L1380.8 984.6L1380.1 984.6L1379.4 984.2L1378.7 984.2L1378.0 984.2L1377.3 983.9L1376.6 983.6L1375.9 983.3L1375.2 983.3L1374.5 983.3L1373.8 983.3L1373.1 983.3L1372.4 983.2L1371.7 983.2L1371.0 983.2L1370.3 983.2L1369.6 983.2L1368.9 983.2L1368.2 981.6L1367.5 981.6L1366.8 981.6L1366.1 981.6L1365.4 981.6L1364.7 981.3L1364.0 981.3L1363.3 981.3L1362.6 981.3L1361.9 981.3L1361.2 981.3L1360.5 980.8L1359.8 981.3L1359.1 981.3L1358.4 981.3L1357.7 981.3L1357.0 981.3L1356.3 981.3L1355.6 981.3L1354.9 980.8L1354.2 980.8L1353.5 980.8L1352.8 980.8L1352.1 979.5L1351.4 979.5L1350.7 979.5L1350.0 979.5L1349.3 977.4L1348.6 977.0L1347.9 976.7L1347.2 976.4L1346.5 976.4L1345.8 975.8L1345.1 975.8L1344.4 975.8L1343.7 975.8L1343.0 975.8L1342.3 975.8L1341.6 975.8L1340.9 975.8L1340.2 975.5L1339.5 975.1L1338.8 975.1L1338.1 975.1L1337.4 975.2L1336.7 976.4L1336.0 976.4L1335.3 976.5L1334.6 976.5L1333.9 976.5L1333.2 976.5L1332.5 976.5L1331.8 976.5L1331.1 976.5L1330.4 975.9L1329.7 975.9L1329.0 975.9L1328.3 975.9L1327.6 975.9L1326.9 975.9L1326.2 975.9L1325.5 975.9L1324.8 975.9L1324.1 975.9L1323.4 975.9L1322.7 975.9L1322.0 974.8L1321.3 974.7L1320.6 974.7L1319.9 974.7L1319.2 974.7L1318.5 974.5L1317.8 974.5L1317.1 974.5L1316.4 974.5L1315.7 974.2L1315.0 974.2L1314.3 974.2L1313.6 974.8L1312.9 974.8L1312.2 975.9L1311.5 975.9L1310.8 975.9L1310.1 976.3L1309.4 976.3L1308.7 976.3L1308.0 976.8L1307.3 976.8L1306.6 976.8L1305.9 976.8L1305.2 976.8L1304.5 976.8L1303.8 976.8L1303.1 976.8L1302.4 976.6L1301.7 976.7L1301.0 976.7L1300.3 976.7L1299.6 976.7L1298.9 977.4L1298.2 977.4L1297.5 977.4L1296.8 977.4L1296.1 977.4L1295.4 977.4L1294.7 977.4L1294.0 977.4L1293.3 977.2L1292.6 978.4L1291.9 978.4L1291.2 978.4L1290.5 978.4L1289.8 978.5L1289.1 978.5L1288.4 978.5L1287.7 978.5L1287.0 978.5L1286.3 978.5L1285.6 978.5L1284.9 978.3L1284.2 978.9L1283.5 978.9L1282.8 978.9L1282.1 978.9L1281.4 978.9L1280.7 978.9L1280.0 978.9L1279.3 978.5L1278.6 978.5L1277.9 978.3L1277.2 978.3L1276.5 977.8L1275.8 977.8L1275.1 977.8L1274.4 977.2L1273.7 977.2L1273.0 977.1L1272.3 977.1L1271.6 976.7L1270.9 976.7L1270.2 976.7L1269.5 976.7L1268.8 976.7L1268.1 976.7L1267.4 975.8L1266.7 975.8L1266.0 975.6L1265.3 975.4L1264.6 975.4L1263.9 975.4L1263.2 975.4L1262.5 975.4L1261.8 975.4L1261.1 974.3L1260.4 974.3L1259.7 974.3L1259.0 974.3L1258.3 974.3L1257.6 974.3L1256.9 973.1L1256.2 973.1L1255.5 972.5L1254.8 972.3L1254.1 971.8L1253.4 972.1L1252.7 972.1L1252.0 972.1L1251.3 972.1L1250.6 972.1L1249.9 972.1L1249.2 972.1L1248.5 972.1L1247.8 971.3L1247.1 971.3L1246.4 971.8L1245.7 971.8L1245.0 972.1L1244.3 972.1L1243.6 972.1L1242.9 972.1L1242.2 972.2L1241.5 973.4L1240.8 973.4L1240.1 973.4L1239.4 973.4L1238.7 973.4L1238.0 973.5L1237.3 973.5L1236.6 973.5L1235.9 973.5L1235.2 973.5L1234.5 973.5L1233.8 973.5L1233.1 972.6L1232.4 972.9L1231.7 973.8L1231.0 973.8L1230.3 973.8L1229.6 973.8L1228.9 973.8L1228.2 973.8L1227.5 973.8L1226.8 973.5L1226.1 973.5L1225.4 972.4L1224.7 971.5L1224.0 971.5L1223.3 971.5L1222.6 970.8L1221.9 970.8L1221.2 969.8L1220.5 969.8L1219.8 967.9L1219.1 966.0L1218.4 963.9L1217.7 963.3L1217.0 960.1L1216.3 962.0L1215.6 964.1L1214.9 964.1L1214.2 964.1L1213.5 964.1L1212.8 964.1L1212.1 964.1L1211.4 964.1L1210.7 962.6L1210.0 959.8L1209.3 962.7L1208.6 964.0L1207.9 966.0L1207.2 967.3L1206.5 968.1L1205.8 968.1L1205.1 968.3L1204.4 968.3L1203.7 969.1L1203.0 969.1L1202.3 970.1L1201.6 970.1L1200.9 970.1L1200.2 970.1L1199.5 970.1L1198.8 970.1L1198.1 970.1L1197.4 970.2L1196.7 970.2L1196.0 970.2L1195.3 970.2L1194.6 970.2L1193.9 970.2L1193.2 970.2L1192.5 969.4L1191.8 969.4L1191.1 969.6L1190.4 969.6L1189.7 969.6L1189.0 969.6L1188.3 969.6L1187.6 969.6L1186.9 969.6L1186.2 969.6L1185.5 969.6L1184.8 969.6L1184.1 969.6L1183.4 969.6L1182.7 969.6L1182.0 969.6L1181.3 969.1L1180.6 969.1L1179.9 969.1L1179.2 968.4L1178.5 967.8L1177.8 968.1L1177.1 968.1L1176.4 968.1L1175.7 968.1L1175.0 968.1L1174.3 968.1L1173.6 968.1L1172.9 968.1L1172.2 968.1L1171.5 968.1L1170.8 968.1L1170.1 968.1L1169.4 967.1L1168.7 967.1L1168.0 966.1L1167.3 966.1L1166.6 966.1L1165.9 965.6L1165.2 965.6L1164.5 965.6L1163.8 963.5L1163.1 963.5L1162.4 962.7L1161.7 962.7L1161.0 962.0L1160.3 961.4L1159.6 961.4L1158.9 961.4L1158.2 961.4L1157.5 961.3L1156.8 960.6L1156.1 960.2L1155.4 960.2L1154.7 960.2L1154.0 959.8L1153.3 959.8L1152.6 959.8L1151.9 960.1L1151.2 960.1L1150.5 960.1L1149.8 960.1L1149.1 960.1L1148.4 960.7L1147.7 960.7L1147.0 960.7L1146.3 960.7L1145.6 960.7L1144.9 961.1L1144.2 961.1L1143.5 962.0L1142.8 962.0L1142.1 962.0L1141.4 962.0L1140.7 962.0L1140.0 962.0L1139.3 962.0L1138.6 961.4L1137.9 961.4L1137.2 961.4L1136.5 962.1L1135.8 962.1L1135.1 962.1L1134.4 962.1L1133.7 962.1L1133.0 962.1L1132.3 962.1L1131.6 962.1L1130.9 963.2L1130.2 963.2L1129.5 963.2L1128.8 963.2L1128.1 963.2L1127.4 963.2L1126.7 963.7L1126.0 963.7L1125.3 963.7L1124.6 963.7L1123.9 963.7L1123.2 963.7L1122.5 963.7L1121.8 963.7L1121.1 963.7L1120.4 964.4L1119.7 965.3L1119.0 965.3L1118.3 965.3L1117.6 965.3L1116.9 965.6L1116.2 966.1L1115.5 966.1L1114.8 966.1L1114.1 966.1L1113.4 966.1L1112.7 966.1L1112.0 966.1L1111.3 965.9L1110.6 965.9L1109.9 967.6L1109.2 967.6L1108.5 967.6L1107.8 967.6L1107.1 967.6L1106.4 967.6L1105.7 967.8L1105.0 967.8L1104.3 967.8L1103.6 967.8L1102.9 967.8L1102.2 967.8L1101.5 967.8L1100.8 967.8L1100.1 966.8L1099.4 966.8L1098.7 966.8L1098.0 966.8L1097.3 966.7L1096.6 966.7L1095.9 966.6L1095.2 966.4L1094.5 966.4L1093.8 966.4L1093.1 966.4L1092.4 966.4L1091.7 966.4L1091.0 966.4L1090.3 964.2L1089.6 964.2L1088.9 964.1L1088.2 963.4L1087.5 963.4L1086.8 960.2L1086.1 958.1L1085.4 959.5L1084.7 959.7L1084.0 962.8L1083.3 962.8L1082.6 963.8L1081.9 963.8L1081.2 963.8L1080.5 963.8L1079.8 963.8L1079.1 963.8L1078.4 963.8L1077.7 962.9L1077.0 962.2L1076.3 962.0L1075.6 960.2L1074.9 957.6L1074.2 956.7L1073.5 950.5L1072.8 953.6L1072.1 958.2L1071.4 958.2L1070.7 960.4L1070.0 960.4L1069.3 960.4L1068.6 960.4L1067.9 960.7L1067.2 962.1L1066.5 962.1L1065.8 962.1L1065.1 962.1L1064.4 962.1L1063.7 962.1L1063.0 962.1L1062.3 962.1L1061.6 962.1L1060.9 962.1L1060.2 962.1L1059.5 962.2L1058.8 962.2L1058.1 962.2L1057.4 962.2L1056.7 962.2L1056.0 962.2L1055.3 962.2L1054.6 962.2L1053.9 961.3L1053.2 961.3L1052.5 961.3L1051.8 961.3L1051.1 960.3L1050.4 960.3L1049.7 960.3L1049.0 960.3L1048.3 960.3L1047.6 960.3L1046.9 960.3L1046.2 960.3L1045.5 960.3L1044.8 960.3L1044.1 959.7L1043.4 959.7L1042.7 959.7L1042.0 959.7L1041.3 958.6L1040.6 958.6L1039.9 958.2L1039.2 958.2L1038.5 956.9L1037.8 956.9L1037.1 956.9L1036.4 956.3L1035.7 956.0L1035.0 956.0L1034.3 955.0L1033.6 955.0L1032.9 954.6L1032.2 954.5L1031.5 954.5L1030.8 954.7L1030.1 954.7L1029.4 954.7L1028.7 955.7L1028.0 956.6L1027.3 956.6L1026.6 956.6L1025.9 957.2L1025.2 957.9L1024.5 958.0L1023.8 958.0L1023.1 958.0L1022.4 958.7L1021.7 958.7L1021.0 958.9L1020.3 958.9L1019.6 958.9L1018.9 959.0L1018.2 959.1L1017.5 959.1L1016.8 959.1L1016.1 959.1L1015.4 959.1L1014.7 959.1L1014.0 959.1L1013.3 959.1L1012.6 958.9L1011.9 959.6L1011.2 959.6L1010.5 960.4L1009.8 960.4L1009.1 960.4L1008.4 960.4L1007.7 960.4L1007.0 960.4L1006.3 960.4L1005.6 960.6L1004.9 961.4L1004.2 961.4L1003.5 961.4L1002.8 961.4L1002.1 961.4L1001.4 961.4L1000.7 961.4L1000.0 961.4L999.3 961.4L998.6 961.4L997.9 961.4L997.2 961.4L996.5 961.0L995.8 961.0L995.1 960.0L994.4 958.9L993.7 958.5L993.0 958.5L992.3 957.0L991.6 957.0L990.9 956.2L990.2 953.3L989.5 952.9L988.8 952.9L988.1 952.9L987.4 952.9L986.7 952.9L986.0 951.0L985.3 948.6L984.6 950.5L983.9 952.9L983.2 954.0L982.5 954.0L981.8 954.0L981.1 954.1L980.4 954.1L979.7 954.1L979.0 954.1L978.3 954.1L977.6 954.1L976.9 954.1L976.2 954.1L975.5 953.6L974.8 953.6L974.1 953.6L973.4 953.1L972.7 953.1L972.0 953.1L971.3 953.2L970.6 953.2L969.9 953.2L969.2 953.2L968.5 953.2L967.8 953.5L967.1 953.5L966.4 953.5L965.7 954.9L965.0 954.9L964.3 954.9L963.6 954.9L962.9 954.9L962.2 954.9L961.5 954.9L960.8 954.3L960.1 956.1L959.4 956.1L958.7 956.4L958.0 956.4L957.3 956.4L956.6 957.8L955.9 957.8L955.2 957.8L954.5 957.8L953.8 957.8L953.1 957.8L952.4 958.5L951.7 958.8L951.0 959.4L950.3 959.4L949.6 959.4L948.9 959.4L948.2 959.4L947.5 959.4L946.8 959.4L946.1 959.4L945.4 959.3L944.7 959.3L944.0 959.3L943.3 960.6L942.6 960.6L941.9 960.6L941.2 960.6L940.5 960.6L939.8 960.6L939.1 960.6L938.4 959.7L937.7 959.7L937.0 959.7L936.3 958.9L935.6 958.9L934.9 957.4L934.2 957.4L933.5 957.3L932.8 957.3L932.1 956.8L931.4 956.8L930.7 955.9L930.0 955.8L929.3 955.8L928.6 955.4L927.9 955.4L927.2 955.0L926.5 954.4L925.8 953.8L925.1 953.8L924.4 953.8L923.7 953.8L923.0 953.8L922.3 953.8L921.6 954.9L920.9 955.9L920.2 955.9L919.5 956.3L918.8 956.3L918.1 956.3L917.4 956.3L916.7 956.3L916.0 956.3L915.3 956.3L914.6 956.3L913.9 956.3L913.2 956.3L912.5 955.3L911.8 955.3L911.1 955.3L910.4 955.3L909.7 955.3L909.0 955.3L908.3 955.1L907.6 954.8L906.9 954.8L906.2 954.8L905.5 954.8L904.8 954.8L904.1 951.4L903.4 949.3L902.7 947.3L902.0 940.8L901.3 939.6L900.6 945.6L899.9 949.1L899.2 949.1L898.5 949.9L897.8 950.5L897.1 953.1L896.4 953.1L895.7 953.1L895.0 953.1L894.3 953.1L893.6 953.1L892.9 953.1L892.2 953.1L891.5 952.5L890.8 952.5L890.1 953.5L889.4 953.5L888.7 953.5L888.0 953.5L887.3 953.5L886.6 953.5L885.9 953.5L885.2 953.5L884.5 953.5L883.8 953.5L883.1 953.5L882.4 955.5L881.7 955.5L881.0 955.5L880.3 955.5L879.6 955.5L878.9 955.5L878.2 955.5L877.5 955.5L876.8 954.8L876.1 954.8L875.4 954.8L874.7 954.8L874.0 954.8L873.3 954.8L872.6 954.5L871.9 952.9L871.2 951.7L870.5 951.2L869.8 948.7L869.1 949.0L868.4 950.8L867.7 953.7L867.0 953.9L866.3 953.9L865.6 953.9L864.9 953.9L864.2 955.2L863.5 955.2L862.8 955.2L862.1 955.2L861.4 955.2L860.7 955.2L860.0 955.2L859.3 955.2L858.6 955.2L857.9 955.2L857.2 955.2L856.5 955.0L855.8 955.0L855.1 955.0L854.4 955.0L853.7 955.4L853.0 955.4L852.3 955.4L851.6 955.4L850.9 956.0L850.2 956.0L849.5 956.0L848.8 956.0L848.1 956.0L847.4 956.0L846.7 956.0L846.0 955.6L845.3 955.6L844.6 955.6L843.9 954.9L843.2 954.9L842.5 954.9L841.8 954.9L841.1 954.9L840.4 954.9L839.7 954.9L839.0 954.9L838.3 954.9L837.6 954.8L836.9 954.8L836.2 954.8L835.5 954.8L834.8 954.8L834.1 954.8L833.4 954.8L832.7 954.2L832.0 954.2L831.3 954.2L830.6 954.2L829.9 954.2L829.2 954.2L828.5 951.8L827.8 951.8L827.1 949.9L826.4 949.0L825.7 946.6L825.0 944.5L824.3 946.5L823.6 947.5L822.9 947.5L822.2 948.0L821.5 948.9L820.8 949.3L820.1 949.5L819.4 949.5L818.7 949.5L818.0 949.5L817.3 949.5L816.6 949.5L815.9 949.5L815.2 949.5L814.5 948.6L813.8 949.4L813.1 949.4L812.4 950.3L811.7 950.3L811.0 950.3L810.3 950.3L809.6 950.3L808.9 950.3L808.2 950.3L807.5 949.3L806.8 949.3L806.1 949.3L805.4 949.3L804.7 949.0L804.0 949.0L803.3 949.0L802.6 949.0L801.9 949.0L801.2 949.0L800.5 947.9L799.8 947.9L799.1 949.7L798.4 949.7L797.7 949.7L797.0 949.7L796.3 949.7L795.6 949.7L794.9 949.7L794.2 949.7L793.5 950.0L792.8 950.0L792.1 950.0L791.4 950.0L790.7 950.0L790.0 950.0L789.3 950.1L788.6 950.1L787.9 950.1L787.2 950.1L786.5 950.1L785.8 950.1L785.1 950.1L784.4 948.8L783.7 948.4L783.0 948.4L782.3 948.4L781.6 947.8L780.9 947.8L780.2 947.8L779.5 947.8L778.8 947.8L778.1 947.8L777.4 947.8L776.7 948.6L776.0 948.6L775.3 948.6L774.6 948.6L773.9 948.6L773.2 948.6L772.5 948.6L771.8 948.6L771.1 948.2L770.4 946.0L769.7 942.0L769.0 942.0L768.3 938.7L767.6 936.2L766.9 941.9L766.2 941.9L765.5 944.0L764.8 947.6L764.1 947.6L763.4 947.6L762.7 947.6L762.0 947.6L761.3 947.6L760.6 947.6L759.9 946.8L759.2 946.8L758.5 946.8L757.8 948.3L757.1 948.3L756.4 948.3L755.7 948.3L755.0 948.3L754.3 948.3L753.6 948.3L752.9 946.3L752.2 947.5L751.5 948.2L750.8 948.2L750.1 948.2L749.4 948.2L748.7 948.2L748.0 948.2L747.3 948.2L746.6 948.2L745.9 947.6L745.2 947.6L744.5 947.6L743.8 944.6L743.1 944.6L742.4 944.6L741.7 943.2L741.0 942.0L740.3 938.3L739.6 935.0L738.9 939.7L738.2 940.8L737.5 943.9L736.8 946.1L736.1 946.6L735.4 946.6L734.7 946.6L734.0 946.6L733.3 946.6L732.6 946.6L731.9 946.6L731.2 946.6L730.5 942.2L729.8 942.2L729.1 942.3L728.4 945.0L727.7 947.8L727.0 947.8L726.3 947.8L725.6 947.8L724.9 947.8L724.2 947.8L723.5 947.8L722.8 946.2L722.1 946.2L721.4 946.2L720.7 946.2L720.0 946.2L719.3 944.9L718.6 943.7L717.9 940.1L717.2 938.7L716.5 937.3L715.8 935.1L715.1 938.2L714.4 938.2L713.7 940.4L713.0 941.8L712.3 941.8L711.6 941.8L710.9 941.8L710.2 941.8L709.5 941.8L708.8 943.0L708.1 943.0L707.4 944.1L706.7 944.1L706.0 944.1L705.3 944.1L704.6 944.1L703.9 944.1L703.2 944.1L702.5 944.1L701.8 943.8L701.1 943.8L700.4 943.8L699.7 943.8L699.0 943.8L698.3 943.1L697.6 943.1L696.9 943.1L696.2 943.1L695.5 943.1L694.8 943.1L694.1 943.1L693.4 943.9L692.7 943.9L692.0 943.9L691.3 943.9L690.6 943.9L689.9 943.9L689.2 943.9L688.5 943.9L687.8 941.6L687.1 941.6L686.4 940.2L685.7 939.0L685.0 938.7L684.3 938.7L683.6 938.7L682.9 938.7L682.2 938.7L681.5 938.7L680.8 935.6L680.1 935.6L679.4 935.6L678.7 935.6L678.0 934.3L677.3 934.3L676.6 933.0L675.9 930.9L675.2 930.9L674.5 930.3L673.8 930.3L673.1 930.3L672.4 930.3L671.7 930.3L671.0 928.0L670.3 928.0L669.6 928.0L668.9 928.0L668.2 928.0L667.5 925.9L666.8 924.1L666.1 924.1L665.4 918.1L664.7 918.1L664.0 911.5L663.3 914.6L662.6 915.2L661.9 915.2L661.2 915.2L660.5 915.2L659.8 915.2L659.1 915.5L658.4 915.5L657.7 915.5L657.0 915.5L656.3 915.5L655.6 915.5L654.9 915.5L654.2 915.5L653.5 914.7L652.8 914.7L652.1 914.7L651.4 914.7L650.7 914.7L650.0 913.3L649.3 913.3L648.6 915.6L647.9 915.6L647.2 915.6L646.5 915.6L645.8 915.6L645.1 915.6L644.4 915.6L643.7 915.6L643.0 913.4L642.3 913.4L641.6 916.4L640.9 917.2L640.2 920.0L639.5 920.9L638.8 920.9L638.1 922.0L637.4 924.6L636.7 924.6L636.0 924.6L635.3 927.0L634.6 927.0L633.9 927.0L633.2 927.0L632.5 927.0L631.8 927.0L631.1 927.0L630.4 927.0L629.7 926.6L629.0 927.6L628.3 927.6L627.6 927.6L626.9 927.6L626.2 927.6L625.5 927.6L624.8 927.6L624.1 925.6L623.4 923.6L622.7 923.6L622.0 923.6L621.3 923.6L620.6 923.6L619.9 923.6L619.2 921.3L618.5 918.0L617.8 918.0L617.1 917.5L616.4 916.9L615.7 916.4L615.0 916.4L614.3 916.4L613.6 915.2L612.9 915.2L612.2 915.2L611.5 915.2L610.8 915.2L610.1 915.2L609.4 915.2L608.7 912.7L608.0 912.6L607.3 911.9L606.6 905.0L605.9 904.2L605.2 906.8L604.5 909.4L603.8 909.4L603.1 909.4L602.4 909.4L601.7 909.4L601.0 909.5L600.3 909.5L599.6 910.2L598.9 910.2L598.2 910.2L597.5 910.2L596.8 910.2L596.1 910.2L595.4 910.2L594.7 910.0L594.0 910.0L593.3 910.0L592.6 909.1L591.9 908.1L591.2 908.1L590.5 908.1L589.8 908.1L589.1 908.1L588.4 907.1L587.7 907.1L587.0 907.1L586.3 907.1L585.6 907.1L584.9 907.1L584.2 906.8L583.5 905.2L582.8 903.1L582.1 902.8L581.4 902.8L580.7 901.6L580.0 901.6L579.3 901.6L578.6 899.2L577.9 898.7L577.2 898.7L576.5 896.1L575.8 894.7L575.1 892.6L574.4 891.6L573.7 889.7L573.0 887.1L572.3 884.7L571.6 880.7L570.9 879.7L570.2 877.4L569.5 877.8L568.8 877.8L568.1 877.8L567.4 877.8L566.7 877.8L566.0 878.1L565.3 878.1L564.6 879.7L563.9 879.7L563.2 880.6L562.5 880.6L561.8 880.6L561.1 880.6L560.4 880.6L559.7 880.6L559.0 882.3L558.3 882.3L557.6 882.3L556.9 882.3L556.2 882.3L555.5 882.9L554.8 882.9L554.1 882.9L553.4 882.9L552.7 882.9L552.0 882.9L551.3 882.9L550.6 881.4L549.9 881.3L549.2 881.3L548.5 881.3L547.8 880.9L547.1 880.9L546.4 880.9L545.7 879.2L545.0 879.0L544.3 879.0L543.6 879.6L542.9 879.6L542.2 879.6L541.5 879.6L540.8 879.6L540.1 879.6L539.4 879.6L538.7 879.6L538.0 877.3L537.3 877.3L536.6 877.3L535.9 877.3L535.2 877.3L534.5 877.3L533.8 872.7L533.1 873.2L532.4 873.5L531.7 873.5L531.0 873.5L530.3 873.5L529.6 875.1L528.9 875.1L528.2 875.1L527.5 875.1L526.8 875.1L526.1 875.1L525.4 875.1L524.7 875.1L524.0 874.7L523.3 874.7L522.6 874.7L521.9 873.9L521.2 873.9L520.5 873.9L519.8 873.9L519.1 872.3L518.4 871.4L517.7 868.3L517.0 868.3L516.3 865.8L515.6 860.5L514.9 856.0L514.2 850.6L513.5 848.6L512.8 855.1L512.1 856.7L511.4 856.7L510.7 856.7L510.0 856.7L509.3 856.7L508.6 856.7L507.9 860.5L507.2 860.5L506.5 860.5L505.8 864.2L505.1 864.2L504.4 865.3L503.7 866.4L503.0 866.5L502.3 866.5L501.6 866.5L500.9 866.5L500.2 866.5L499.5 866.5L498.8 866.5L498.1 866.5L497.4 863.8L496.7 863.8L496.0 858.9L495.3 855.6L494.6 855.6L493.9 847.1L493.2 837.5L492.5 824.5L491.8 797.0L491.1 782.4L490.4 788.3L489.7 790.8L489.0 791.9L488.3 797.5L487.6 805.7L486.9 810.8L486.2 816.9L485.5 822.4L484.8 829.4L484.1 830.9L483.4 835.1L482.7 839.8L482.0 841.8L481.3 846.2L480.6 846.2L479.9 849.9L479.2 856.1L478.5 856.5L477.8 861.8L477.1 862.5L476.4 863.1L475.7 866.0L475.0 866.9L474.3 871.6L473.6 871.6L472.9 871.6L472.2 871.8L471.5 872.1L470.8 874.4L470.1 876.5L469.4 876.5L468.7 876.5L468.0 876.5L467.3 876.5L466.6 880.5L465.9 880.5L465.2 880.5L464.5 880.5L463.8 880.5L463.1 880.5L462.4 880.5L461.7 880.5L461.0 881.9L460.3 882.8L459.6 882.8L458.9 882.8L458.2 882.8L457.5 882.8L456.8 882.8L456.1 882.8L455.4 882.8L454.7 879.3L454.0 879.3L453.3 879.3L452.6 879.3L451.9 879.3L451.2 879.3L450.5 877.5L449.8 877.5L449.1 877.5L448.4 877.5L447.7 876.7L447.0 876.2L446.3 876.2L445.6 875.0L444.9 874.1L444.2 874.8L443.5 874.8L442.8 874.8L442.1 874.8L441.4 874.8L440.7 874.8L440.0 874.8L439.3 871.2L438.6 878.2L437.9 878.3L437.2 878.3L436.5 881.7L435.8 883.7L435.1 883.7L434.4 883.7L433.7 886.5L433.0 886.5L432.3 887.0L431.6 890.0L430.9 890.0L430.2 890.6L429.5 891.2L428.8 891.2L428.1 891.2L427.4 891.2L426.7 891.2L426.0 892.9L425.3 892.9L424.6 892.9L423.9 892.9L423.2 892.9L422.5 892.9L421.8 892.9L421.1 894.7L420.4 894.7L419.7 895.2L419.0 895.6L418.3 895.6L417.6 895.6L416.9 895.6L416.2 895.6L415.5 895.6L414.8 895.6L414.1 894.8L413.4 894.4L412.7 894.4L412.0 891.7L411.3 889.2L410.6 888.7L409.9 890.2L409.2 890.2L408.5 895.2L407.8 896.5L407.1 898.7L406.4 900.7L405.7 900.7L405.0 900.7L404.3 900.7L403.6 902.5L402.9 902.5L402.2 902.5L401.5 902.5L400.8 902.5L400.1 902.5L399.4 902.5L398.7 902.5L398.0 901.4L397.3 901.4L396.6 901.4L395.9 899.2L395.2 897.4L394.5 897.2L393.8 897.2L393.1 894.9L392.4 894.9L391.7 887.5L391.0 881.0L390.3 882.5L389.6 888.5L388.9 895.2L388.2 896.0L387.5 900.8L386.8 900.8L386.1 901.9L385.4 903.2L384.7 903.2L384.0 905.0L383.3 905.0L382.6 905.0L381.9 905.0L381.2 905.0L380.5 905.0L379.8 905.0L379.1 906.5L378.4 906.5L377.7 906.5L377.0 906.5L376.3 907.8L375.6 907.8L374.9 907.8L374.2 907.8L373.5 911.1L372.8 911.8L372.1 911.8L371.4 911.8L370.7 911.8L370.0 911.8L369.3 911.8L368.6 912.7L367.9 913.5L367.2 913.7L366.5 914.8L365.8 914.8L365.1 914.8L364.4 914.8L363.7 914.8L363.0 914.8L362.3 916.7L361.6 916.7L360.9 916.7L360.2 916.7L359.5 916.7L358.8 916.7L358.1 916.7L357.4 916.7L356.7 916.7L356.0 914.5L355.3 914.5L354.6 914.6L353.9 915.1L353.2 915.1L352.5 916.3L351.8 916.3L351.1 918.4L350.4 918.4L349.7 918.4L349.0 918.4L348.3 918.4L347.6 918.4L346.9 918.4L346.2 917.4L345.5 917.4L344.8 919.6L344.1 920.5L343.4 920.5L342.7 920.5L342.0 920.5L341.3 920.5L340.6 920.5L339.9 920.5L339.2 920.7L338.5 920.7L337.8 920.7L337.1 920.7L336.4 920.9L335.7 922.9L335.0 922.9L334.3 923.1L333.6 923.1L332.9 923.1L332.2 923.1L331.5 923.1L330.8 923.1L330.1 923.1L329.4 924.3L328.7 924.3L328.0 924.3L327.3 924.3L326.6 924.3L325.9 924.3L325.2 924.3L324.5 924.3L323.8 922.9L323.1 925.4L322.4 925.4L321.7 925.4L321.0 925.4L320.3 925.9L319.6 925.9L318.9 925.9L318.2 925.9L317.5 925.9L316.8 925.9L316.1 925.9L315.4 924.2L314.7 924.2L314.0 924.2L313.3 922.4L312.6 920.7L311.9 922.7L311.2 922.7L310.5 923.4L309.8 928.5L309.1 928.5L308.4 928.5L307.7 928.5L307.0 928.5L306.3 928.5L305.6 928.5L304.9 928.5L304.2 927.9L303.5 928.2L302.8 928.2L302.1 929.5L301.4 929.5L300.7 929.5L300.0 929.5L299.3 931.5L298.6 931.5L297.9 931.5L297.2 931.5L296.5 931.5L295.8 931.5L295.1 931.7L294.4 931.7L293.7 931.7L293.0 931.7L292.3 932.6L291.6 932.6L290.9 932.6L290.2 932.6L289.5 932.6L288.8 932.6L288.1 932.6L287.4 932.6L286.7 931.0L286.0 931.0L285.3 932.0L284.6 932.0L283.9 932.0L283.2 932.0L282.5 932.0L281.8 932.0L281.1 932.0L280.4 932.0L279.7 930.4L279.0 930.4L278.3 930.4L277.6 930.4L276.9 931.5L276.2 931.5L275.5 931.5L274.8 931.5L274.1 931.5L273.4 931.5L272.7 931.5L272.0 931.4L271.3 931.7L270.6 931.7L269.9 933.2L269.2 933.2L268.5 933.2L267.8 933.2L267.1 933.2L266.4 933.3L265.7 933.3L265.0 933.3L264.3 933.3L263.6 933.3L262.9 933.3L262.2 933.3L261.5 932.6L260.8 933.3L260.1 933.3L259.4 933.3L258.7 933.3L258.0 933.3L257.3 933.3L256.6 933.3L255.9 933.1L255.2 933.1L254.5 931.4L253.8 932.9L253.1 932.9L252.4 932.9L251.7 932.9L251.0 932.9L250.3 932.9L249.6 932.9L248.9 931.4L248.2 931.4L247.5 930.1L246.8 930.1L246.1 930.0L245.4 930.0L244.7 929.8L244.0 929.5L243.3 929.5L242.6 929.5L241.9 929.0L241.2 929.0L240.5 929.0L239.8 929.0L239.1 928.0L238.4 928.0L237.7 928.0L237.0 929.0L236.3 929.0L235.6 929.0L234.9 929.0L234.2 929.0L233.5 929.0L232.8 929.0L232.1 929.0L231.4 927.9L230.7 927.4L230.0 927.1L229.3 927.1L228.6 926.8L227.9 926.5L227.2 926.0L226.5 926.0L225.8 926.0L225.1 926.0L224.4 926.0L223.7 926.0L223.0 926.0L222.3 926.0L221.6 925.9L220.9 925.9L220.2 925.9L219.5 925.9L218.8 924.8L218.1 924.8L217.4 923.4L216.7 923.4L216.0 923.1L215.3 923.1L214.6 922.1L213.9 922.1L213.2 922.1L212.5 922.1L211.8 922.1L211.1 922.1L210.4 922.1L209.7 920.1L209.0 919.8L208.3 918.8L207.6 918.8L206.9 918.8L206.2 918.7L205.5 918.7L204.8 918.7L204.1 917.0L203.4 917.0L202.7 917.0L202.0 914.9L201.3 914.2L200.6 914.2L199.9 914.1L199.2 914.1L198.5 914.1L197.8 914.1L197.1 914.1L196.4 912.6L195.7 912.6L195.0 912.1L194.3 912.1L193.6 911.5L192.9 911.5L192.2 911.5L191.5 911.5L190.8 911.5L190.1 911.5L189.4 909.5L188.7 909.5L188.0 909.5L187.3 909.5L186.6 909.5L185.9 909.5L185.2 908.7L184.5 908.7L183.8 908.7L183.1 907.7L182.4 906.4L181.7 906.4L181.0 906.4L180.3 906.3L179.6 904.3L178.9 903.7L178.2 904.2L177.5 904.2L176.8 904.2L176.1 904.2L175.4 904.2L174.7 904.2L174.0 904.2L173.3 903.5L172.6 901.6L171.9 901.6L171.2 901.6L170.5 900.4L169.8 900.4L169.1 900.4L168.4 900.4L167.7 899.1L167.0 899.1L166.3 899.1L165.6 897.6L164.9 897.3L164.2 897.3L163.5 897.1L162.8 897.1L162.1 897.1L161.4 897.1L160.7 895.8L160.0 895.2L159.3 895.2L158.6 895.2L157.9 891.8L157.2 891.8L156.5 891.4L155.8 891.4L155.1 891.4L154.4 891.4L153.7 891.4L153.0 889.5L152.3 889.5L151.6 888.6L150.9 888.6L150.2 888.6L149.5 888.1L148.8 887.8L148.1 887.8L147.4 887.8L146.7 887.8L146.0 885.9L145.3 884.2L144.6 884.0L143.9 884.0L143.2 884.0L142.5 884.0L141.8 884.0L141.1 884.0L140.4 879.5L139.7 879.5L139.0 878.5L138.3 878.5L137.6 878.5L136.9 878.5L136.2 877.3L135.5 877.3L134.8 876.1L134.1 876.0L133.4 875.9L132.7 875.9L132.0 874.5L131.3 873.3L130.6 873.3L129.9 871.3L129.2 870.9L128.5 870.6L127.8 870.2L127.1 870.2L126.4 870.2L125.7 870.2L125.0 870.2L124.3 869.8L123.6 869.8L122.9 869.8L122.2 869.8L121.5 867.0L120.8 867.0L120.1 865.5L119.4 865.5L118.7 864.7L118.0 863.7L117.3 863.7L116.6 863.7L115.9 863.7L115.2 863.7L114.5 860.8Z"/>
<path fill="#0000e6" d="M114.5 645.0L115.2 644.7L115.9 644.7L116.6 644.7L117.3 644.7L118.0 644.7L118.7 644.7L119.4 644.7L120.1 644.7L120.8 648.9L121.5 648.9L122.2 648.9L122.9 648.9L123.6 648.9L124.3 648.9L125.0 648.9L125.7 650.8L126.4 650.8L127.1 653.4L127.8 653.4L128.5 655.4L129.2 655.4L129.9 655.9L130.6 655.9L131.3 656.7L132.0 656.7L132.7 657.1L133.4 660.5L134.1 660.5L134.8 661.8L135.5 661.8L136.2 661.8L136.9 661.9L137.6 665.3L138.3 665.3L139.0 665.2L139.7 665.2L140.4 665.2L141.1 665.2L141.8 665.2L142.5 665.2L143.2 665.2L143.9 667.0L144.6 667.0L145.3 667.0L146.0 667.1L146.7 667.1L147.4 668.3L148.1 668.5L148.8 668.5L149.5 672.3L150.2 672.3L150.9 674.0L151.6 674.0L152.3 675.0L153.0 675.0L153.7 675.0L154.4 676.3L155.1 676.3L155.8 678.2L156.5 678.2L157.2 678.2L157.9 679.5L158.6 679.5L159.3 679.5L160.0 679.5L160.7 679.5L161.4 679.5L162.1 679.5L162.8 680.8L163.5 683.0L164.2 684.7L164.9 684.7L165.6 684.7L166.3 684.9L167.0 684.9L167.7 685.3L168.4 685.3L169.1 689.5L169.8 690.1L170.5 690.1L171.2 692.2L171.9 692.2L172.6 692.2L173.3 693.4L174.0 693.4L174.7 693.4L175.4 695.5L176.1 696.7L176.8 697.0L177.5 697.0L178.2 697.0L178.9 697.0L179.6 697.0L180.3 697.0L181.0 698.4L181.7 698.6L182.4 698.8L183.1 698.8L183.8 699.0L184.5 699.0L185.2 699.0L185.9 699.5L186.6 700.3L187.3 700.3L188.0 703.0L188.7 703.0L189.4 703.0L190.1 703.0L190.8 703.0L191.5 703.3L192.2 703.5L192.9 703.5L193.6 703.5L194.3 703.5L195.0 703.5L195.7 705.4L196.4 705.4L197.1 706.0L197.8 706.0L198.5 706.0L199.2 706.0L199.9 707.8L200.6 707.8L201.3 707.8L202.0 710.5L202.7 710.5L203.4 710.8L204.1 711.7L204.8 711.7L205.5 711.7L206.2 711.7L206.9 711.7L207.6 711.7L208.3 711.7L209.0 711.7L209.7 711.9L210.4 711.9L211.1 711.9L211.8 711.9L212.5 714.6L213.2 716.0L213.9 716.0L214.6 716.0L215.3 716.0L216.0 716.0L216.7 716.8L217.4 716.8L218.1 716.8L218.8 716.8L219.5 716.8L220.2 717.2L220.9 717.2L221.6 717.7L222.3 717.7L223.0 717.7L223.7 717.7L224.4 717.7L225.1 719.1L225.8 720.0L226.5 718.8L227.2 718.8L227.9 718.8L228.6 718.8L229.3 718.8L230.0 718.8L230.7 718.8L231.4 721.4L232.1 722.5L232.8 722.5L233.5 720.0L234.2 720.0L234.9 720.0L235.6 720.0L236.3 720.0L237.0 720.0L237.7 720.0L238.4 720.1L239.1 720.1L239.8 720.1L240.5 720.1L241.2 720.5L241.9 720.5L242.6 720.5L243.3 722.1L244.0 722.1L244.7 722.1L245.4 724.5L246.1 724.1L246.8 724.1L247.5 722.9L248.2 722.9L248.9 721.5L249.6 721.5L250.3 721.5L251.0 721.5L251.7 721.5L252.4 721.5L253.1 721.5L253.8 721.5L254.5 724.6L255.2 724.8L255.9 725.0L256.6 725.0L257.3 725.0L258.0 725.2L258.7 724.0L259.4 724.0L260.1 724.0L260.8 724.0L261.5 724.0L262.2 724.0L262.9 724.0L263.6 724.0L264.3 724.0L265.0 724.0L265.7 724.0L266.4 724.0L267.1 724.1L267.8 724.1L268.5 724.1L269.2 724.1L269.9 724.1L270.6 724.1L271.3 724.1L272.0 724.1L272.7 723.3L273.4 723.3L274.1 723.3L274.8 722.2L275.5 722.2L276.2 722.2L276.9 722.1L277.6 722.1L278.3 722.1L279.0 721.5L279.7 721.5L280.4 721.5L281.1 720.3L281.8 720.3L282.5 720.3L283.2 720.3L283.9 720.3L284.6 720.3L285.3 720.3L286.0 720.3L286.7 721.8L287.4 721.8L288.1 721.8L288.8 721.8L289.5 721.8L290.2 721.8L290.9 722.3L291.6 722.3L292.3 722.3L293.0 721.4L293.7 721.4L294.4 720.5L295.1 720.5L295.8 719.3L296.5 719.3L297.2 719.3L297.9 719.3L298.6 719.3L299.3 719.3L300.0 719.3L300.7 719.3L301.4 719.8L302.1 719.8L302.8 719.8L303.5 719.8L304.2 719.8L304.9 719.8L305.6 719.8L306.3 718.8L307.0 718.8L307.7 716.5L308.4 709.1L309.1 706.6L309.8 698.6L310.5 697.9L311.2 697.9L311.9 697.9L312.6 697.9L313.3 697.9L314.0 697.9L314.7 697.9L315.4 699.1L316.1 703.7L316.8 712.4L317.5 713.5L318.2 713.5L318.9 713.5L319.6 713.2L320.3 713.2L321.0 713.2L321.7 713.2L322.4 713.2L323.1 713.2L323.8 712.8L324.5 712.8L325.2 712.8L325.9 712.8L326.6 712.8L327.3 712.8L328.0 712.4L328.7 712.1L329.4 712.1L330.1 712.1L330.8 712.1L331.5 712.1L332.2 712.1L332.9 712.1L333.6 712.3L334.3 712.3L335.0 712.3L335.7 712.3L336.4 711.7L337.1 711.7L337.8 711.0L338.5 707.3L339.2 707.3L339.9 707.3L340.6 707.3L341.3 705.9L342.0 705.8L342.7 705.8L343.4 705.8L344.1 705.8L344.8 705.8L345.5 705.8L346.2 705.8L346.9 706.1L347.6 706.0L348.3 703.4L349.0 703.4L349.7 703.4L350.4 703.4L351.1 702.8L351.8 702.8L352.5 702.1L353.2 702.1L353.9 702.1L354.6 702.1L355.3 702.1L356.0 702.1L356.7 702.1L357.4 702.1L358.1 702.1L358.8 700.7L359.5 700.7L360.2 700.7L360.9 700.7L361.6 700.7L362.3 700.0L363.0 699.5L363.7 699.5L364.4 696.7L365.1 696.7L365.8 696.7L366.5 696.7L367.2 696.2L367.9 696.2L368.6 696.2L369.3 693.9L370.0 693.9L370.7 693.9L371.4 693.7L372.1 693.7L372.8 693.7L373.5 693.7L374.2 693.2L374.9 693.2L375.6 693.2L376.3 693.2L377.0 690.9L377.7 690.9L378.4 690.9L379.1 690.9L379.8 690.9L380.5 690.9L381.2 690.9L381.9 690.6L382.6 690.6L383.3 688.5L384.0 684.2L384.7 682.7L385.4 679.9L386.1 667.9L386.8 655.6L387.5 637.9L388.2 625.3L388.9 625.3L389.6 625.3L390.3 625.3L391.0 625.3L391.7 625.3L392.4 625.3L393.1 625.3L393.8 635.9L394.5 655.5L395.2 670.2L395.9 676.0L396.6 680.5L397.3 683.7L398.0 683.7L398.7 682.8L399.4 682.8L400.1 682.8L400.8 682.8L401.5 682.8L402.2 682.8L402.9 681.8L403.6 681.8L404.3 681.8L405.0 681.6L405.7 677.7L406.4 670.6L407.1 666.5L407.8 662.4L408.5 662.4L409.2 662.4L409.9 662.4L410.6 662.4L411.3 662.4L412.0 662.4L412.7 662.4L413.4 664.4L414.1 670.7L414.8 670.7L415.5 673.7L416.2 677.5L416.9 677.5L417.6 678.7L418.3 678.7L419.0 678.7L419.7 678.7L420.4 675.0L421.1 675.0L421.8 674.6L422.5 674.6L423.2 674.6L423.9 673.5L424.6 671.1L425.3 671.1L426.0 671.1L426.7 671.1L427.4 671.1L428.1 671.1L428.8 671.1L429.5 668.5L430.2 668.5L430.9 666.0L431.6 663.9L432.3 659.3L433.0 655.3L433.7 645.9L434.4 627.0L435.1 591.1L435.8 520.5L436.5 434.7L437.2 417.9L437.9 417.9L438.6 417.9L439.3 417.9L440.0 417.9L440.7 417.9L441.4 417.9L442.1 433.9L442.8 518.8L443.5 587.0L444.2 623.3L444.9 642.5L445.6 649.2L446.3 653.1L447.0 653.1L447.7 653.1L448.4 653.1L449.1 653.1L449.8 653.1L450.5 653.1L451.2 656.6L451.9 657.9L452.6 660.3L453.3 660.8L454.0 660.8L454.7 660.9L455.4 660.9L456.1 662.2L456.8 662.2L457.5 662.2L458.2 662.2L458.9 662.2L459.6 662.2L460.3 662.2L461.0 662.3L461.7 662.3L462.4 662.4L463.1 662.8L463.8 662.8L464.5 662.5L465.2 657.3L465.9 657.3L466.6 655.1L467.3 655.1L468.0 651.7L468.7 651.7L469.4 651.7L470.1 651.2L470.8 650.0L471.5 650.0L472.2 647.2L472.9 644.8L473.6 644.8L474.3 638.8L475.0 637.6L475.7 637.4L476.4 632.2L477.1 631.5L477.8 628.2L478.5 626.1L479.2 621.5L479.9 619.7L480.6 614.2L481.3 614.2L482.0 608.7L482.7 604.6L483.4 596.9L484.1 593.2L484.8 592.7L485.5 586.8L486.2 581.1L486.9 570.7L487.6 544.3L488.3 483.5L489.0 347.0L489.7 230.5L490.4 230.5L491.1 230.5L491.8 230.5L492.5 230.5L493.2 230.5L493.9 230.5L494.6 230.5L495.3 361.3L496.0 511.6L496.7 583.4L497.4 616.4L498.1 633.1L498.8 641.0L499.5 648.6L500.2 647.8L500.9 647.8L501.6 644.8L502.3 644.8L503.0 642.8L503.7 640.2L504.4 640.2L505.1 640.2L505.8 640.2L506.5 640.2L507.2 640.2L507.9 640.2L508.6 640.5L509.3 640.5L510.0 633.4L510.7 630.4L511.4 621.4L512.1 612.6L512.8 612.0L513.5 612.0L514.2 612.0L514.9 612.0L515.6 612.0L516.3 612.0L517.0 612.0L517.7 613.2L518.4 621.3L519.1 628.4L519.8 635.8L520.5 644.8L521.2 646.8L521.9 647.8L522.6 648.3L523.3 651.1L524.0 651.3L524.7 651.9L525.4 651.9L526.1 651.9L526.8 655.2L527.5 655.9L528.2 656.4L528.9 656.4L529.6 656.4L530.3 656.1L531.0 655.8L531.7 655.8L532.4 654.2L533.1 654.2L533.8 654.2L534.5 654.2L535.2 654.2L535.9 654.2L536.6 654.2L537.3 654.3L538.0 655.9L538.7 656.6L539.4 656.6L540.1 656.6L540.8 658.2L541.5 657.5L542.2 655.8L542.9 655.8L543.6 655.4L544.3 655.4L545.0 655.4L545.7 655.4L546.4 655.4L547.1 655.4L547.8 655.4L548.5 662.1L549.2 662.1L549.9 662.8L550.6 662.8L551.3 662.8L552.0 663.1L552.7 665.4L553.4 665.4L554.1 665.4L554.8 665.4L555.5 668.1L556.2 665.4L556.9 665.4L557.6 665.4L558.3 665.4L559.0 665.4L559.7 665.4L560.4 664.0L561.1 664.0L561.8 664.0L562.5 664.0L563.2 663.9L563.9 663.9L564.6 663.9L565.3 662.2L566.0 662.2L566.7 662.2L567.4 660.2L568.1 660.2L568.8 659.3L569.5 659.3L570.2 659.3L570.9 655.9L571.6 655.9L572.3 655.9L573.0 655.9L573.7 655.9L574.4 655.9L575.1 655.9L575.8 655.9L576.5 659.9L577.2 659.9L577.9 659.9L578.6 659.9L579.3 663.5L580.0 665.9L580.7 665.9L581.4 665.9L582.1 672.0L582.8 672.3L583.5 673.2L584.2 673.2L584.9 676.3L585.6 679.9L586.3 679.9L587.0 683.4L587.7 683.4L588.4 683.4L589.1 687.1L589.8 687.1L590.5 687.1L591.2 689.9L591.9 690.1L592.6 690.1L593.3 690.1L594.0 692.2L594.7 692.9L595.4 692.9L596.1 693.6L596.8 694.1L597.5 694.3L598.2 694.3L598.9 694.3L599.6 694.3L600.3 694.6L601.0 691.0L601.7 689.6L602.4 682.6L603.1 675.9L603.8 673.1L604.5 673.1L605.2 673.1L605.9 673.1L606.6 673.1L607.3 673.1L608.0 673.1L608.7 674.2L609.4 674.8L610.1 683.2L610.8 689.4L611.5 694.2L612.2 694.2L612.9 697.1L613.6 699.3L614.3 699.3L615.0 699.3L615.7 699.3L616.4 701.5L617.1 701.5L617.8 701.5L618.5 701.5L619.2 701.5L619.9 701.5L620.6 704.3L621.3 705.6L622.0 705.8L622.7 705.8L623.4 708.1L624.1 708.1L624.8 708.1L625.5 708.6L626.2 708.6L626.9 708.6L627.6 709.9L628.3 709.9L629.0 709.9L629.7 709.9L630.4 709.9L631.1 709.9L631.8 709.9L632.5 710.9L633.2 708.4L633.9 708.4L634.6 708.4L635.3 708.4L636.0 708.0L636.7 706.4L637.4 705.9L638.1 703.3L638.8 697.2L639.5 691.4L640.2 688.8L640.9 688.7L641.6 688.7L642.3 688.7L643.0 688.7L643.7 688.7L644.4 688.7L645.1 688.7L645.8 690.6L646.5 696.8L647.2 696.4L647.9 696.4L648.6 696.4L649.3 696.4L650.0 696.4L650.7 696.4L651.4 696.4L652.1 698.9L652.8 704.5L653.5 704.5L654.2 704.5L654.9 704.5L655.6 704.5L656.3 704.9L657.0 704.9L657.7 702.5L658.4 702.5L659.1 702.2L659.8 697.3L660.5 690.3L661.2 684.1L661.9 683.2L662.6 683.2L663.3 683.2L664.0 683.2L664.7 683.2L665.4 683.2L666.1 683.2L666.8 683.8L667.5 686.7L668.2 695.3L668.9 701.6L669.6 706.7L670.3 706.7L671.0 708.1L671.7 709.1L672.4 709.1L673.1 709.7L673.8 710.8L674.5 710.8L675.2 712.2L675.9 712.7L676.6 715.0L677.3 715.0L678.0 715.0L678.7 715.0L679.4 715.3L680.1 718.1L680.8 718.1L681.5 718.9L682.2 718.9L682.9 718.9L683.6 718.9L684.3 718.9L685.0 721.2L685.7 722.7L686.4 723.8L687.1 723.8L687.8 724.5L688.5 724.5L689.2 724.5L689.9 724.7L690.6 724.7L691.3 727.1L692.0 727.1L692.7 727.2L693.4 727.2L694.1 729.4L694.8 729.4L695.5 729.4L696.2 729.4L696.9 730.5L697.6 730.5L698.3 730.5L699.0 730.5L699.7 730.6L700.4 730.6L701.1 730.6L701.8 732.2L702.5 732.2L703.2 734.1L703.9 733.1L704.6 733.1L705.3 733.1L706.0 733.1L706.7 733.1L707.4 733.1L708.1 733.1L708.8 733.7L709.5 733.7L710.2 732.4L710.9 729.1L711.6 723.2L712.3 717.7L713.0 708.5L713.7 702.4L714.4 702.4L715.1 702.4L715.8 702.4L716.5 702.4L717.2 702.4L717.9 702.4L718.6 702.4L719.3 706.9L720.0 718.4L720.7 722.2L721.4 728.5L722.1 730.6L722.8 730.6L723.5 730.6L724.2 733.4L724.9 733.7L725.6 733.7L726.3 731.6L727.0 731.6L727.7 726.0L728.4 725.6L729.1 725.6L729.8 725.6L730.5 725.6L731.2 725.6L731.9 725.6L732.6 725.6L733.3 728.0L734.0 728.0L734.7 731.0L735.4 727.0L736.1 719.7L736.8 711.3L737.5 704.5L738.2 704.5L738.9 704.5L739.6 704.5L740.3 704.5L741.0 704.5L741.7 704.5L742.4 704.5L743.1 712.3L743.8 719.1L744.5 729.8L745.2 729.8L745.9 732.6L746.6 732.6L747.3 732.6L748.0 732.6L748.7 732.6L749.4 732.6L750.1 732.6L750.8 732.6L751.5 733.4L752.2 734.3L752.9 734.3L753.6 734.7L754.3 734.7L755.0 734.7L755.7 735.7L756.4 735.7L757.1 735.7L757.8 735.7L758.5 735.7L759.2 735.7L759.9 735.6L760.6 735.6L761.3 735.6L762.0 734.6L762.7 730.1L763.4 729.9L764.1 722.4L764.8 720.0L765.5 716.4L766.2 716.4L766.9 716.4L767.6 716.4L768.3 716.4L769.0 716.4L769.7 716.4L770.4 717.0L771.1 717.6L771.8 722.3L772.5 727.2L773.2 730.5L773.9 731.8L774.6 731.8L775.3 732.6L776.0 732.6L776.7 732.6L777.4 732.6L778.1 732.6L778.8 732.6L779.5 732.6L780.2 735.0L780.9 734.2L781.6 734.2L782.3 734.2L783.0 734.2L783.7 734.2L784.4 734.2L785.1 734.2L785.8 734.6L786.5 734.6L787.2 734.6L787.9 734.6L788.6 735.1L789.3 735.1L790.0 736.1L790.7 736.1L791.4 736.1L792.1 736.1L792.8 737.1L793.5 738.5L794.2 738.5L794.9 738.5L795.6 738.5L796.3 738.5L797.0 738.1L797.7 736.1L798.4 736.1L799.1 736.1L799.8 736.1L800.5 736.1L801.2 736.1L801.9 735.5L802.6 735.5L803.3 735.5L804.0 735.5L804.7 735.5L805.4 735.3L806.1 735.3L806.8 735.3L807.5 735.3L808.2 735.3L808.9 735.3L809.6 735.3L810.3 738.1L811.0 738.1L811.7 738.6L812.4 738.6L813.1 738.2L813.8 738.2L814.5 737.9L815.2 737.9L815.9 737.5L816.6 737.5L817.3 737.5L818.0 737.5L818.7 737.5L819.4 737.5L820.1 737.5L820.8 736.7L821.5 735.6L822.2 734.1L822.9 729.7L823.6 723.1L824.3 723.1L825.0 723.1L825.7 723.1L826.4 723.1L827.1 723.1L827.8 723.1L828.5 723.1L829.2 723.2L829.9 730.5L830.6 734.1L831.3 737.1L832.0 737.1L832.7 738.9L833.4 739.2L834.1 739.3L834.8 739.4L835.5 739.4L836.2 739.7L836.9 739.7L837.6 739.7L838.3 741.0L839.0 741.1L839.7 741.1L840.4 741.1L841.1 741.5L841.8 741.5L842.5 742.0L843.2 742.0L843.9 742.0L844.6 742.0L845.3 742.0L846.0 742.0L846.7 742.0L847.4 742.2L848.1 742.2L848.8 742.2L849.5 742.2L850.2 741.2L850.9 741.2L851.6 741.2L852.3 741.2L853.0 741.2L853.7 741.2L854.4 741.2L855.1 741.7L855.8 741.7L856.5 742.8L857.2 742.8L857.9 743.2L858.6 743.2L859.3 743.2L860.0 743.2L860.7 743.3L861.4 740.7L862.1 740.7L862.8 738.5L863.5 738.5L864.2 733.4L864.9 730.3L865.6 719.1L866.3 697.7L867.0 658.9L867.7 599.3L868.4 563.0L869.1 563.0L869.8 563.0L870.5 563.0L871.2 563.0L871.9 563.0L872.6 563.0L873.3 563.0L874.0 599.4L874.7 658.6L875.4 697.4L876.1 718.9L876.8 730.2L877.5 735.8L878.2 738.4L878.9 739.1L879.6 740.9L880.3 740.9L881.0 741.7L881.7 742.8L882.4 742.8L883.1 742.8L883.8 742.8L884.5 742.8L885.2 742.8L885.9 742.8L886.6 742.6L887.3 740.2L888.0 740.2L888.7 738.8L889.4 738.8L890.1 738.8L890.8 738.8L891.5 738.8L892.2 738.8L892.9 738.8L893.6 739.4L894.3 740.4L895.0 741.8L895.7 743.9L896.4 742.3L897.1 737.4L897.8 730.9L898.5 720.7L899.2 718.4L899.9 718.4L900.6 718.4L901.3 718.4L902.0 718.4L902.7 718.4L903.4 718.4L904.1 718.4L904.8 722.1L905.5 732.3L906.2 739.5L906.9 742.4L907.6 746.2L908.3 746.2L909.0 747.6L909.7 748.5L910.4 748.5L911.1 748.5L911.8 748.5L912.5 748.2L913.2 748.2L913.9 748.2L914.6 748.2L915.3 748.2L916.0 748.2L916.7 748.2L917.4 749.2L918.1 749.2L918.8 749.2L919.5 749.0L920.2 749.0L920.9 748.7L921.6 748.7L922.3 748.7L923.0 748.7L923.7 748.7L924.4 748.7L925.1 748.6L925.8 748.6L926.5 748.6L927.2 748.6L927.9 748.6L928.6 748.6L929.3 748.6L930.0 748.6L930.7 748.7L931.4 748.6L932.1 748.6L932.8 748.6L933.5 748.6L934.2 748.6L934.9 748.6L935.6 748.6L936.3 748.9L937.0 748.6L937.7 748.6L938.4 748.6L939.1 748.6L939.8 748.6L940.5 748.6L941.2 748.6L941.9 748.6L942.6 750.2L943.3 750.2L944.0 750.2L944.7 750.3L945.4 750.3L946.1 750.3L946.8 750.2L947.5 750.2L948.2 750.2L948.9 750.2L949.6 750.2L950.3 750.2L951.0 750.2L951.7 750.0L952.4 750.0L953.1 750.0L953.8 750.0L954.5 750.0L955.2 749.2L955.9 749.2L956.6 748.6L957.3 748.6L958.0 748.6L958.7 748.6L959.4 748.6L960.1 748.6L960.8 747.2L961.5 747.2L962.2 747.2L962.9 747.2L963.6 747.2L964.3 747.2L965.0 747.0L965.7 747.0L966.4 747.0L967.1 747.0L967.8 747.0L968.5 747.0L969.2 746.4L969.9 746.4L970.6 746.4L971.3 746.4L972.0 746.4L972.7 746.4L973.4 746.4L974.1 746.2L974.8 746.2L975.5 746.2L976.2 746.2L976.9 746.2L977.6 746.2L978.3 746.2L979.0 746.5L979.7 746.5L980.4 745.7L981.1 745.7L981.8 745.7L982.5 745.7L983.2 745.7L983.9 745.7L984.6 745.7L985.3 745.8L986.0 745.8L986.7 745.8L987.4 745.8L988.1 746.0L988.8 748.1L989.5 748.8L990.2 748.8L990.9 748.9L991.6 749.7L992.3 749.7L993.0 750.4L993.7 750.7L994.4 750.7L995.1 750.7L995.8 752.7L996.5 753.6L997.2 753.6L997.9 753.6L998.6 753.6L999.3 754.6L1000.0 755.9L1000.7 755.8L1001.4 755.8L1002.1 755.8L1002.8 754.8L1003.5 754.8L1004.2 754.8L1004.9 754.8L1005.6 754.8L1006.3 754.8L1007.0 754.8L1007.7 755.6L1008.4 755.6L1009.1 755.6L1009.8 754.5L1010.5 754.5L1011.2 754.5L1011.9 754.5L1012.6 754.5L1013.3 754.5L1014.0 754.5L1014.7 756.4L1015.4 756.4L1016.1 755.2L1016.8 755.2L1017.5 755.2L1018.2 755.2L1018.9 755.2L1019.6 755.2L1020.3 755.2L1021.0 755.2L1021.7 753.0L1022.4 753.0L1023.1 753.0L1023.8 751.5L1024.5 751.5L1025.2 751.5L1025.9 749.3L1026.6 749.3L1027.3 749.3L1028.0 749.3L1028.7 749.3L1029.4 749.3L1030.1 749.3L1030.8 749.7L1031.5 749.7L1032.2 749.7L1032.9 749.7L1033.6 749.7L1034.3 749.7L1035.0 751.0L1035.7 751.3L1036.4 751.3L1037.1 751.8L1037.8 751.8L1038.5 751.8L1039.2 751.8L1039.9 751.8L1040.6 752.9L1041.3 752.9L1042.0 752.9L1042.7 752.9L1043.4 752.9L1044.1 752.9L1044.8 753.5L1045.5 753.5L1046.2 753.9L1046.9 753.9L1047.6 754.2L1048.3 755.6L1049.0 755.6L1049.7 755.6L1050.4 755.6L1051.1 755.6L1051.8 756.2L1052.5 756.2L1053.2 756.1L1053.9 756.1L1054.6 756.1L1055.3 756.1L1056.0 756.1L1056.7 756.1L1057.4 756.1L1058.1 756.1L1058.8 757.1L1059.5 757.1L1060.2 757.3L1060.9 756.8L1061.6 756.8L1062.3 756.2L1063.0 756.2L1063.7 756.2L1064.4 755.8L1065.1 755.4L1065.8 755.0L1066.5 755.0L1067.2 754.6L1067.9 752.5L1068.6 749.9L1069.3 746.4L1070.0 741.5L1070.7 735.4L1071.4 735.0L1072.1 735.0L1072.8 735.0L1073.5 735.0L1074.2 735.0L1074.9 735.0L1075.6 735.0L1076.3 735.0L1077.0 740.8L1077.7 745.6L1078.4 749.4L1079.1 751.1L1079.8 751.3L1080.5 751.2L1081.2 748.9L1081.9 747.1L1082.6 744.3L1083.3 742.0L1084.0 741.6L1084.7 741.6L1085.4 741.6L1086.1 741.6L1086.8 741.6L1087.5 741.6L1088.2 741.6L1088.9 743.4L1089.6 748.6L1090.3 750.9L1091.0 752.8L1091.7 753.8L1092.4 754.1L1093.1 756.0L1093.8 756.0L1094.5 756.3L1095.2 756.8L1095.9 756.8L1096.6 757.4L1097.3 758.3L1098.0 758.3L1098.7 758.3L1099.4 759.0L1100.1 759.0L1100.8 759.8L1101.5 760.3L1102.2 760.3L1102.9 761.4L1103.6 761.9L1104.3 761.9L1105.0 761.9L1105.7 761.4L1106.4 761.4L1107.1 761.4L1107.8 761.4L1108.5 761.4L1109.2 761.4L1109.9 760.2L1110.6 759.5L1111.3 759.5L1112.0 759.5L1112.7 759.5L1113.4 758.7L1114.1 758.4L1114.8 758.4L1115.5 758.4L1116.2 758.4L1116.9 758.4L1117.6 758.4L1118.3 758.4L1119.0 758.4L1119.7 758.4L1120.4 758.3L1121.1 758.2L1121.8 758.1L1122.5 758.1L1123.2 758.1L1123.9 758.1L1124.6 758.1L1125.3 757.8L1126.0 757.8L1126.7 757.8L1127.4 757.8L1128.1 757.8L1128.8 756.3L1129.5 756.3L1130.2 756.3L1130.9 756.3L1131.6 755.8L1132.3 755.8L1133.0 755.8L1133.7 755.8L1134.4 755.8L1135.1 755.8L1135.8 755.8L1136.5 755.6L1137.2 755.4L1137.9 755.4L1138.6 755.4L1139.3 755.4L1140.0 755.0L1140.7 755.0L1141.4 755.0L1142.1 755.0L1142.8 755.0L1143.5 755.0L1144.2 755.0L1144.9 755.1L1145.6 755.1L1146.3 755.1L1147.0 755.1L1147.7 755.1L1148.4 755.1L1149.1 755.1L1149.8 755.1L1150.5 755.2L1151.2 755.2L1151.9 755.2L1152.6 755.2L1153.3 755.2L1154.0 755.2L1154.7 755.2L1155.4 755.2L1156.1 755.5L1156.8 756.7L1157.5 757.5L1158.2 757.5L1158.9 759.7L1159.6 760.0L1160.3 760.8L1161.0 760.8L1161.7 761.3L1162.4 761.7L1163.1 761.7L1163.8 762.4L1164.5 762.4L1165.2 762.4L1165.9 762.4L1166.6 762.4L1167.3 762.6L1168.0 762.6L1168.7 762.4L1169.4 762.4L1170.1 762.4L1170.8 762.4L1171.5 762.4L1172.2 761.7L1172.9 761.1L1173.6 761.1L1174.3 761.1L1175.0 761.1L1175.7 760.6L1176.4 760.6L1177.1 760.6L1177.8 760.6L1178.5 760.3L1179.2 760.3L1179.9 760.3L1180.6 760.3L1181.3 760.3L1182.0 760.3L1182.7 760.3L1183.4 760.7L1184.1 760.7L1184.8 760.7L1185.5 760.7L1186.2 760.7L1186.9 761.5L1187.6 761.9L1188.3 761.9L1189.0 761.9L1189.7 762.5L1190.4 762.5L1191.1 762.5L1191.8 763.2L1192.5 763.9L1193.2 763.9L1193.9 763.9L1194.6 765.0L1195.3 765.0L1196.0 765.0L1196.7 765.5L1197.4 765.5L1198.1 765.5L1198.8 765.1L1199.5 765.1L1200.2 765.1L1200.9 764.0L1201.6 764.0L1202.3 763.5L1203.0 763.5L1203.7 763.5L1204.4 763.2L1205.1 760.9L1205.8 760.4L1206.5 758.4L1207.2 754.4L1207.9 749.7L1208.6 749.4L1209.3 749.4L1210.0 749.4L1210.7 749.4L1211.4 749.4L1212.1 740.1L1212.8 726.7L1213.5 708.0L1214.2 688.8L1214.9 680.1L1215.6 680.1L1216.3 680.1L1217.0 680.1L1217.7 680.1L1218.4 680.1L1219.1 680.1L1219.8 680.1L1220.5 688.7L1221.2 708.3L1221.9 726.2L1222.6 740.4L1223.3 751.1L1224.0 754.5L1224.7 758.4L1225.4 761.4L1226.1 762.3L1226.8 763.5L1227.5 764.5L1228.2 765.2L1228.9 765.4L1229.6 765.4L1230.3 766.1L1231.0 766.1L1231.7 766.1L1232.4 766.1L1233.1 766.1L1233.8 766.1L1234.5 766.1L1235.2 767.6L1235.9 767.6L1236.6 767.6L1237.3 767.6L1238.0 767.6L1238.7 767.6L1239.4 767.6L1240.1 767.6L1240.8 767.6L1241.5 767.6L1242.2 767.6L1242.9 767.6L1243.6 767.6L1244.3 767.6L1245.0 767.6L1245.7 768.0L1246.4 767.6L1247.1 767.6L1247.8 767.4L1248.5 767.4L1249.2 767.4L1249.9 767.4L1250.6 767.4L1251.3 767.4L1252.0 767.4L1252.7 768.4L1253.4 768.6L1254.1 768.5L1254.8 768.5L1255.5 768.5L1256.2 768.5L1256.9 768.5L1257.6 768.5L1258.3 768.5L1259.0 768.6L1259.7 768.6L1260.4 768.6L1261.1 768.6L1261.8 768.6L1262.5 768.6L1263.2 768.6L1263.9 768.6L1264.6 768.8L1265.3 768.8L1266.0 768.8L1266.7 768.8L1267.4 768.8L1268.1 768.8L1268.8 769.3L1269.5 769.3L1270.2 769.3L1270.9 769.3L1271.6 769.3L1272.3 769.3L1273.0 771.0L1273.7 771.0L1274.4 771.0L1275.1 771.0L1275.8 771.0L1276.5 771.0L1277.2 771.4L1277.9 771.4L1278.6 771.4L1279.3 771.4L1280.0 773.2L1280.7 773.2L1281.4 773.2L1282.1 773.2L1282.8 773.3L1283.5 773.3L1284.2 773.3L1284.9 773.3L1285.6 773.7L1286.3 773.7L1287.0 772.4L1287.7 772.4L1288.4 772.4L1289.1 772.4L1289.8 772.4L1290.5 772.4L1291.2 772.4L1291.9 772.4L1292.6 772.5L1293.3 772.5L1294.0 772.5L1294.7 772.5L1295.4 773.5L1296.1 773.2L1296.8 773.2L1297.5 773.2L1298.2 773.2L1298.9 773.2L1299.6 773.2L1300.3 773.2L1301.0 773.2L1301.7 773.3L1302.4 773.3L1303.1 772.8L1303.8 772.8L1304.5 772.5L1305.2 772.5L1305.9 772.2L1306.6 772.2L1307.3 772.2L1308.0 771.1L1308.7 771.1L1309.4 771.1L1310.1 771.1L1310.8 771.1L1311.5 771.1L1312.2 770.8L1312.9 770.8L1313.6 770.8L1314.3 770.8L1315.0 770.8L1315.7 770.8L1316.4 770.8L1317.1 771.6L1317.8 771.6L1318.5 771.6L1319.2 771.3L1319.9 771.3L1320.6 771.3L1321.3 771.3L1322.0 771.3L1322.7 771.3L1323.4 771.3L1324.1 771.6L1324.8 771.6L1325.5 771.6L1326.2 770.9L1326.9 770.9L1327.6 770.9L1328.3 770.9L1329.0 770.9L1329.7 770.9L1330.4 770.9L1331.1 770.9L1331.8 770.9L1332.5 770.9L1333.2 770.9L1333.9 771.2L1334.6 770.4L1335.3 770.4L1336.0 770.4L1336.7 770.4L1337.4 770.4L1338.1 770.4L1338.8 770.4L1339.5 770.9L1340.2 770.9L1340.9 770.9L1341.6 770.7L1342.3 767.1L1343.0 764.7L1343.7 758.4L1344.4 746.3L1345.1 724.2L1345.8 700.4L1346.5 696.2L1347.2 696.2L1347.9 696.2L1348.6 696.2L1349.3 696.2L1350.0 696.2L1350.7 696.2L1351.4 700.7L1352.1 724.5L1352.8 745.3L1353.5 760.3L1354.2 766.2L1354.9 768.5L1355.6 773.1L1356.3 773.1L1357.0 774.2L1357.7 774.2L1358.4 775.3L1359.1 775.3L1359.8 775.3L1360.5 775.3L1361.2 775.5L1361.9 775.5L1362.6 775.5L1363.3 775.5L1364.0 776.0L1364.7 776.0L1365.4 776.0L1366.1 776.0L1366.8 777.5L1367.5 777.0L1368.2 777.0L1368.9 777.0L1369.6 777.0L1370.3 777.0L1371.0 777.0L1371.7 777.0L1372.4 778.3L1373.1 778.3L1373.8 778.3L1374.5 778.7L1375.2 778.7L1375.9 778.7L1376.6 778.7L1377.3 779.6L1378.0 779.6L1378.7 779.6L1379.4 779.6L1380.1 779.3L1380.8 779.3L1381.5 779.2L1382.2 778.3L1382.9 778.3L1383.6 777.6L1384.3 777.6L1385.0 777.6L1385.7 777.5L1386.4 777.5L1387.1 777.5L1387.8 777.5L1388.5 777.5L1389.2 777.5L1389.9 777.5L1390.6 777.7L1391.3 777.7L1392.0 777.7L1392.7 777.7L1393.4 777.7L1394.1 777.7L1394.8 778.6L1395.5 778.6L1396.2 778.3L1396.9 778.3L1397.6 778.2L1398.3 778.2L1399.0 778.2L1399.7 778.2L1400.4 778.2L1401.1 778.2L1401.8 778.2L1402.5 778.2L1403.2 778.9L1403.9 778.9L1404.6 778.9L1405.3 778.3L1406.0 778.3L1406.7 778.3L1407.4 777.9L1408.1 777.9L1408.8 777.9L1409.5 777.9L1410.2 777.9L1410.9 777.9L1411.6 777.9L1412.3 778.5L1413.0 778.8L1413.7 778.8L1414.4 778.8L1415.1 778.8L1415.8 778.8L1416.5 778.8L1417.2 777.8L1417.9 777.8L1418.6 777.8L1419.3 777.8L1420.0 777.8L1420.7 777.8L1420.7 786.1L1420.0 786.1L1419.3 786.1L1418.6 786.1L1417.9 786.1L1417.2 786.2L1416.5 786.2L1415.8 786.5L1415.1 786.5L1414.4 786.5L1413.7 786.5L1413.0 786.5L1412.3 786.5L1411.6 786.5L1410.9 786.5L1410.2 786.5L1409.5 786.0L1408.8 786.2L1408.1 786.2L1407.4 786.2L1406.7 786.2L1406.0 786.2L1405.3 786.2L1404.6 786.2L1403.9 786.2L1403.2 786.3L1402.5 786.3L1401.8 786.3L1401.1 786.3L1400.4 786.3L1399.7 786.3L1399.0 786.3L1398.3 786.3L1397.6 786.3L1396.9 786.3L1396.2 786.4L1395.5 786.8L1394.8 786.8L1394.1 786.8L1393.4 786.8L1392.7 786.8L1392.0 786.8L1391.3 786.8L1390.6 786.8L1389.9 785.3L1389.2 784.9L1388.5 785.5L1387.8 786.4L1387.1 786.4L1386.4 786.4L1385.7 786.4L1385.0 786.4L1384.3 787.0L1383.6 787.0L1382.9 787.0L1382.2 787.0L1381.5 787.3L1380.8 787.3L1380.1 787.3L1379.4 787.3L1378.7 787.3L1378.0 787.3L1377.3 787.3L1376.6 787.3L1375.9 787.2L1375.2 786.4L1374.5 786.4L1373.8 786.4L1373.1 786.3L1372.4 786.3L1371.7 786.3L1371.0 786.3L1370.3 786.3L1369.6 785.4L1368.9 785.4L1368.2 785.4L1367.5 785.4L1366.8 785.4L1366.1 785.4L1365.4 785.4L1364.7 785.4L1364.0 785.4L1363.3 785.4L1362.6 784.3L1361.9 783.1L1361.2 783.1L1360.5 783.1L1359.8 783.1L1359.1 783.1L1358.4 783.1L1357.7 783.1L1357.0 782.6L1356.3 782.6L1355.6 782.6L1354.9 781.9L1354.2 781.9L1353.5 781.4L1352.8 781.0L1352.1 780.4L1351.4 778.8L1350.7 778.7L1350.0 773.9L1349.3 771.2L1348.6 765.3L1347.9 770.6L1347.2 772.1L1346.5 775.7L1345.8 776.3L1345.1 778.0L1344.4 778.0L1343.7 778.0L1343.0 778.6L1342.3 778.6L1341.6 778.6L1340.9 779.2L1340.2 779.2L1339.5 779.2L1338.8 779.2L1338.1 779.2L1337.4 779.2L1336.7 779.2L1336.0 778.6L1335.3 779.0L1334.6 779.0L1333.9 779.0L1333.2 779.0L1332.5 779.2L1331.8 779.2L1331.1 779.2L1330.4 779.2L1329.7 779.2L1329.0 779.2L1328.3 779.8L1327.6 779.8L1326.9 779.8L1326.2 779.8L1325.5 779.8L1324.8 779.8L1324.1 779.8L1323.4 779.8L1322.7 779.6L1322.0 778.9L1321.3 778.9L1320.6 778.9L1319.9 778.9L1319.2 779.9L1318.5 779.9L1317.8 779.9L1317.1 779.9L1316.4 779.9L1315.7 779.9L1315.0 779.9L1314.3 779.9L1313.6 779.3L1312.9 779.3L1312.2 779.3L1311.5 779.7L1310.8 779.7L1310.1 779.7L1309.4 779.7L1308.7 780.1L1308.0 780.1L1307.3 780.9L1306.6 780.9L1305.9 780.9L1305.2 780.9L1304.5 780.9L1303.8 780.9L1303.1 780.9L1302.4 780.6L1301.7 780.6L1301.0 781.2L1300.3 781.2L1299.6 781.2L1298.9 781.2L1298.2 781.2L1297.5 781.2L1296.8 781.2L1296.1 781.1L1295.4 780.6L1294.7 780.6L1294.0 780.6L1293.3 780.6L1292.6 780.8L1291.9 780.8L1291.2 780.8L1290.5 780.8L1289.8 780.8L1289.1 780.8L1288.4 781.1L1287.7 781.1L1287.0 781.1L1286.3 781.1L1285.6 781.1L1284.9 781.1L1284.2 781.1L1283.5 781.0L1282.8 781.0L1282.1 781.0L1281.4 781.0L1280.7 781.0L1280.0 780.8L1279.3 780.8L1278.6 780.8L1277.9 780.8L1277.2 780.8L1276.5 780.8L1275.8 779.5L1275.1 779.5L1274.4 779.5L1273.7 779.5L1273.0 778.6L1272.3 778.6L1271.6 778.6L1270.9 777.8L1270.2 777.6L1269.5 777.6L1268.8 777.6L1268.1 777.8L1267.4 777.8L1266.7 777.8L1266.0 777.8L1265.3 777.8L1264.6 777.8L1263.9 777.8L1263.2 776.5L1262.5 776.5L1261.8 777.0L1261.1 777.0L1260.4 777.0L1259.7 777.0L1259.0 777.0L1258.3 777.0L1257.6 777.0L1256.9 776.6L1256.2 776.6L1255.5 776.6L1254.8 776.6L1254.1 776.6L1253.4 776.4L1252.7 776.4L1252.0 776.4L1251.3 776.4L1250.6 776.4L1249.9 776.4L1249.2 776.4L1248.5 776.4L1247.8 775.6L1247.1 775.6L1246.4 776.5L1245.7 776.5L1245.0 776.5L1244.3 776.5L1243.6 776.5L1242.9 776.5L1242.2 776.5L1241.5 776.2L1240.8 776.2L1240.1 776.2L1239.4 776.2L1238.7 776.2L1238.0 776.0L1237.3 776.0L1236.6 775.0L1235.9 775.0L1235.2 775.0L1234.5 775.0L1233.8 775.0L1233.1 775.0L1232.4 774.9L1231.7 774.9L1231.0 774.9L1230.3 773.1L1229.6 773.1L1228.9 773.1L1228.2 773.1L1227.5 773.1L1226.8 772.6L1226.1 772.5L1225.4 772.5L1224.7 771.5L1224.0 771.5L1223.3 770.2L1222.6 770.2L1221.9 768.5L1221.2 767.7L1220.5 766.4L1219.8 763.6L1219.1 759.5L1218.4 756.1L1217.7 745.4L1217.0 745.1L1216.3 755.3L1215.6 761.1L1214.9 761.1L1214.2 761.1L1213.5 761.1L1212.8 761.1L1212.1 761.1L1211.4 763.4L1210.7 765.4L1210.0 767.2L1209.3 770.2L1208.6 770.8L1207.9 770.8L1207.2 770.8L1206.5 771.5L1205.8 771.5L1205.1 771.7L1204.4 772.5L1203.7 772.5L1203.0 772.5L1202.3 772.5L1201.6 772.5L1200.9 773.4L1200.2 773.4L1199.5 773.4L1198.8 773.4L1198.1 773.4L1197.4 773.4L1196.7 773.4L1196.0 773.3L1195.3 773.3L1194.6 773.3L1193.9 773.3L1193.2 772.1L1192.5 771.4L1191.8 771.4L1191.1 771.4L1190.4 771.3L1189.7 771.3L1189.0 771.3L1188.3 771.3L1187.6 770.8L1186.9 768.5L1186.2 768.5L1185.5 768.5L1184.8 768.5L1184.1 768.5L1183.4 768.5L1182.7 768.5L1182.0 767.8L1181.3 767.8L1180.6 767.8L1179.9 767.8L1179.2 767.8L1178.5 767.8L1177.8 767.8L1177.1 767.5L1176.4 768.3L1175.7 768.3L1175.0 770.4L1174.3 770.4L1173.6 770.4L1172.9 770.4L1172.2 770.4L1171.5 770.8L1170.8 770.8L1170.1 770.8L1169.4 770.8L1168.7 770.8L1168.0 770.8L1167.3 770.8L1166.6 770.4L1165.9 770.7L1165.2 770.7L1164.5 770.7L1163.8 770.7L1163.1 770.7L1162.4 770.7L1161.7 770.7L1161.0 770.7L1160.3 769.4L1159.6 768.5L1158.9 768.5L1158.2 768.5L1157.5 767.5L1156.8 767.1L1156.1 766.7L1155.4 766.7L1154.7 765.3L1154.0 764.7L1153.3 764.6L1152.6 763.8L1151.9 763.8L1151.2 763.5L1150.5 763.5L1149.8 763.5L1149.1 763.0L1148.4 763.0L1147.7 762.7L1147.0 762.7L1146.3 762.7L1145.6 762.7L1144.9 763.5L1144.2 763.5L1143.5 763.5L1142.8 763.5L1142.1 763.7L1141.4 763.7L1140.7 763.7L1140.0 763.7L1139.3 763.7L1138.6 763.9L1137.9 764.3L1137.2 764.3L1136.5 764.3L1135.8 764.3L1135.1 764.3L1134.4 764.3L1133.7 765.1L1133.0 765.1L1132.3 765.1L1131.6 765.8L1130.9 765.8L1130.2 765.8L1129.5 765.9L1128.8 766.2L1128.1 766.2L1127.4 766.2L1126.7 766.2L1126.0 766.2L1125.3 766.2L1124.6 766.2L1123.9 766.2L1123.2 765.6L1122.5 765.6L1121.8 765.6L1121.1 766.2L1120.4 766.2L1119.7 766.5L1119.0 767.2L1118.3 767.2L1117.6 767.2L1116.9 767.2L1116.2 767.2L1115.5 767.5L1114.8 767.5L1114.1 767.5L1113.4 767.6L1112.7 767.6L1112.0 768.7L1111.3 769.4L1110.6 769.8L1109.9 769.8L1109.2 770.2L1108.5 770.2L1107.8 770.2L1107.1 770.2L1106.4 770.2L1105.7 770.2L1105.0 770.2L1104.3 770.1L1103.6 770.1L1102.9 770.1L1102.2 770.1L1101.5 770.1L1100.8 768.4L1100.1 768.2L1099.4 768.2L1098.7 768.2L1098.0 768.2L1097.3 768.2L1096.6 768.2L1095.9 767.6L1095.2 766.4L1094.5 766.3L1093.8 765.4L1093.1 765.4L1092.4 765.4L1091.7 764.0L1091.0 764.0L1090.3 764.0L1089.6 763.7L1088.9 763.7L1088.2 763.7L1087.5 761.2L1086.8 758.8L1086.1 757.8L1085.4 756.9L1084.7 756.9L1084.0 759.3L1083.3 759.3L1082.6 759.3L1081.9 760.1L1081.2 760.1L1080.5 760.1L1079.8 760.1L1079.1 760.1L1078.4 760.1L1077.7 760.1L1077.0 760.1L1076.3 760.1L1075.6 758.9L1074.9 758.0L1074.2 758.0L1073.5 757.3L1072.8 759.0L1072.1 760.2L1071.4 760.3L1070.7 761.2L1070.0 761.4L1069.3 763.0L1068.6 763.0L1067.9 763.1L1067.2 763.1L1066.5 763.4L1065.8 764.8L1065.1 764.8L1064.4 764.8L1063.7 764.8L1063.0 764.8L1062.3 764.8L1061.6 764.8L1060.9 764.5L1060.2 764.5L1059.5 764.7L1058.8 764.7L1058.1 764.7L1057.4 764.7L1056.7 764.7L1056.0 764.7L1055.3 764.7L1054.6 764.3L1053.9 764.3L1053.2 764.3L1052.5 764.3L1051.8 764.2L1051.1 764.2L1050.4 764.2L1049.7 764.1L1049.0 764.1L1048.3 764.1L1047.6 764.1L1046.9 763.2L1046.2 763.2L1045.5 763.2L1044.8 763.2L1044.1 763.2L1043.4 762.4L1042.7 762.4L1042.0 761.4L1041.3 761.4L1040.6 761.4L1039.9 760.9L1039.2 760.9L1038.5 760.9L1037.8 760.9L1037.1 760.9L1036.4 760.6L1035.7 760.0L1035.0 760.0L1034.3 759.4L1033.6 759.4L1032.9 759.4L1032.2 759.4L1031.5 758.6L1030.8 757.9L1030.1 757.3L1029.4 757.4L1028.7 758.4L1028.0 758.4L1027.3 758.6L1026.6 761.0L1025.9 761.0L1025.2 761.0L1024.5 762.5L1023.8 762.8L1023.1 762.8L1022.4 762.8L1021.7 762.8L1021.0 762.8L1020.3 762.8L1019.6 764.4L1018.9 764.4L1018.2 764.4L1017.5 764.4L1016.8 764.4L1016.1 764.4L1015.4 764.4L1014.7 763.7L1014.0 763.7L1013.3 763.7L1012.6 763.1L1011.9 763.1L1011.2 763.1L1010.5 762.7L1009.8 762.7L1009.1 763.9L1008.4 763.9L1007.7 763.9L1007.0 763.9L1006.3 763.9L1005.6 763.9L1004.9 764.2L1004.2 764.2L1003.5 764.2L1002.8 764.2L1002.1 764.2L1001.4 764.2L1000.7 764.2L1000.0 764.2L999.3 763.6L998.6 763.6L997.9 763.6L997.2 762.8L996.5 762.8L995.8 762.8L995.1 762.8L994.4 760.6L993.7 760.6L993.0 760.1L992.3 759.8L991.6 759.4L990.9 758.7L990.2 758.2L989.5 758.2L988.8 756.4L988.1 756.2L987.4 756.1L986.7 756.1L986.0 755.4L985.3 755.4L984.6 755.2L983.9 755.2L983.2 755.2L982.5 755.2L981.8 755.2L981.1 755.2L980.4 755.2L979.7 754.8L979.0 754.8L978.3 754.8L977.6 754.8L976.9 755.2L976.2 755.2L975.5 755.2L974.8 755.2L974.1 755.2L973.4 755.2L972.7 755.2L972.0 754.6L971.3 755.9L970.6 755.9L969.9 755.9L969.2 755.9L968.5 755.9L967.8 755.9L967.1 755.9L966.4 755.9L965.7 755.5L965.0 755.5L964.3 755.5L963.6 757.2L962.9 757.3L962.2 757.3L961.5 757.3L960.8 757.3L960.1 757.3L959.4 757.3L958.7 757.3L958.0 757.4L957.3 757.4L956.6 757.6L955.9 757.6L955.2 757.6L954.5 757.6L953.8 758.6L953.1 758.6L952.4 758.7L951.7 758.7L951.0 758.7L950.3 758.7L949.6 758.7L948.9 758.7L948.2 759.0L947.5 759.0L946.8 759.0L946.1 759.0L945.4 759.0L944.7 759.0L944.0 759.0L943.3 759.0L942.6 758.9L941.9 758.9L941.2 758.9L940.5 758.9L939.8 758.9L939.1 758.9L938.4 758.9L937.7 757.9L937.0 757.9L936.3 757.9L935.6 757.5L934.9 757.5L934.2 757.3L933.5 757.3L932.8 757.7L932.1 757.7L931.4 757.7L930.7 757.7L930.0 757.7L929.3 757.7L928.6 757.7L927.9 757.9L927.2 757.9L926.5 757.9L925.8 757.9L925.1 757.9L924.4 757.9L923.7 757.9L923.0 757.9L922.3 758.4L921.6 758.4L920.9 758.6L920.2 758.6L919.5 758.6L918.8 758.6L918.1 758.6L917.4 758.6L916.7 758.6L916.0 758.6L915.3 757.7L914.6 757.7L913.9 757.7L913.2 757.4L912.5 757.4L911.8 757.4L911.1 757.4L910.4 757.3L909.7 757.3L909.0 757.3L908.3 757.3L907.6 757.3L906.9 757.3L906.2 756.6L905.5 756.6L904.8 755.5L904.1 752.8L903.4 751.8L902.7 751.3L902.0 748.0L901.3 747.3L900.6 749.1L899.9 752.7L899.2 752.7L898.5 752.7L897.8 753.6L897.1 754.0L896.4 754.0L895.7 754.0L895.0 754.0L894.3 754.0L893.6 754.0L892.9 754.0L892.2 753.3L891.5 752.2L890.8 751.5L890.1 751.4L889.4 751.4L888.7 751.4L888.0 751.4L887.3 751.4L886.6 752.5L885.9 752.7L885.2 752.7L884.5 752.7L883.8 752.7L883.1 752.7L882.4 752.7L881.7 752.7L881.0 751.9L880.3 751.9L879.6 751.9L878.9 751.9L878.2 751.9L877.5 751.9L876.8 751.9L876.1 751.0L875.4 750.7L874.7 748.1L874.0 747.6L873.3 743.4L872.6 740.8L871.9 735.2L871.2 723.9L870.5 724.1L869.8 735.3L869.1 739.1L868.4 744.4L867.7 748.1L867.0 748.1L866.3 748.9L865.6 748.9L864.9 749.5L864.2 749.5L863.5 750.9L862.8 750.9L862.1 750.9L861.4 751.7L860.7 751.7L860.0 751.7L859.3 751.7L858.6 751.7L857.9 751.7L857.2 751.7L856.5 751.7L855.8 751.6L855.1 751.6L854.4 751.6L853.7 751.6L853.0 751.5L852.3 751.5L851.6 751.5L850.9 751.5L850.2 751.5L849.5 751.5L848.8 751.2L848.1 751.2L847.4 751.0L846.7 752.0L846.0 752.0L845.3 752.0L844.6 752.0L843.9 752.0L843.2 752.0L842.5 752.0L841.8 750.6L841.1 750.7L840.4 750.7L839.7 751.2L839.0 751.2L838.3 751.2L837.6 751.2L836.9 751.2L836.2 751.2L835.5 751.2L834.8 749.0L834.1 748.5L833.4 748.5L832.7 747.8L832.0 747.8L831.3 747.8L830.6 747.8L829.9 747.8L829.2 745.8L828.5 744.9L827.8 744.9L827.1 744.4L826.4 744.4L825.7 742.7L825.0 744.5L824.3 744.5L823.6 744.7L822.9 746.1L822.2 746.8L821.5 746.9L820.8 746.9L820.1 746.9L819.4 748.0L818.7 748.0L818.0 748.0L817.3 748.0L816.6 748.0L815.9 748.1L815.2 748.1L814.5 748.1L813.8 748.1L813.1 748.1L812.4 748.1L811.7 748.1L811.0 748.0L810.3 748.0L809.6 748.0L808.9 748.0L808.2 745.9L807.5 745.9L806.8 746.5L806.1 746.5L805.4 746.5L804.7 746.5L804.0 746.5L803.3 746.5L802.6 747.0L801.9 747.0L801.2 747.0L800.5 747.0L799.8 747.0L799.1 747.0L798.4 747.0L797.7 748.2L797.0 748.2L796.3 748.6L795.6 748.6L794.9 748.6L794.2 748.6L793.5 748.6L792.8 748.6L792.1 748.6L791.4 748.6L790.7 747.5L790.0 747.5L789.3 747.5L788.6 747.5L787.9 747.5L787.2 747.5L786.5 747.5L785.8 746.0L785.1 745.2L784.4 745.2L783.7 745.2L783.0 745.2L782.3 745.2L781.6 745.2L780.9 744.2L780.2 744.2L779.5 744.3L778.8 744.3L778.1 744.3L777.4 744.3L776.7 744.3L776.0 744.3L775.3 744.3L774.6 744.3L773.9 743.9L773.2 743.9L772.5 743.9L771.8 743.9L771.1 740.8L770.4 740.3L769.7 739.1L769.0 738.3L768.3 735.5L767.6 736.2L766.9 740.9L766.2 741.9L765.5 742.1L764.8 744.2L764.1 744.2L763.4 744.2L762.7 744.2L762.0 744.2L761.3 744.2L760.6 746.7L759.9 746.7L759.2 746.7L758.5 746.7L757.8 746.7L757.1 746.7L756.4 746.7L755.7 745.5L755.0 745.5L754.3 745.5L753.6 745.5L752.9 745.5L752.2 745.5L751.5 745.5L750.8 745.3L750.1 745.3L749.4 745.3L748.7 745.3L748.0 743.8L747.3 743.0L746.6 743.0L745.9 743.0L745.2 743.0L744.5 742.5L743.8 742.4L743.1 742.4L742.4 742.4L741.7 738.9L741.0 738.8L740.3 735.9L739.6 737.7L738.9 739.4L738.2 741.5L737.5 745.2L736.8 745.2L736.1 745.2L735.4 745.2L734.7 745.2L734.0 745.2L733.3 745.2L732.6 745.2L731.9 744.6L731.2 744.6L730.5 742.3L729.8 743.9L729.1 743.9L728.4 743.9L727.7 743.9L727.0 743.9L726.3 743.9L725.6 743.9L724.9 743.9L724.2 743.2L723.5 743.2L722.8 743.2L722.1 743.2L721.4 743.2L720.7 741.4L720.0 741.4L719.3 741.1L718.6 741.1L717.9 738.1L717.2 737.1L716.5 733.5L715.8 734.1L715.1 738.7L714.4 742.5L713.7 742.5L713.0 743.0L712.3 743.7L711.6 743.7L710.9 744.9L710.2 744.9L709.5 744.9L708.8 744.9L708.1 744.9L707.4 744.9L706.7 744.9L706.0 744.1L705.3 744.1L704.6 744.1L703.9 744.1L703.2 744.1L702.5 744.1L701.8 744.1L701.1 742.3L700.4 742.3L699.7 742.3L699.0 742.3L698.3 742.3L697.6 742.3L696.9 742.3L696.2 740.4L695.5 740.4L694.8 740.4L694.1 739.8L693.4 739.8L692.7 739.8L692.0 739.8L691.3 739.8L690.6 738.3L689.9 738.3L689.2 738.2L688.5 738.2L687.8 738.2L687.1 734.1L686.4 734.1L685.7 733.5L685.0 733.5L684.3 733.5L683.6 731.7L682.9 731.7L682.2 731.7L681.5 731.1L680.8 731.1L680.1 730.4L679.4 730.4L678.7 728.4L678.0 727.6L677.3 727.4L676.6 727.0L675.9 726.8L675.2 725.0L674.5 725.0L673.8 723.7L673.1 723.7L672.4 723.7L671.7 723.7L671.0 721.5L670.3 721.5L669.6 721.5L668.9 720.9L668.2 720.9L667.5 720.9L666.8 717.1L666.1 716.1L665.4 713.9L664.7 712.8L664.0 707.2L663.3 709.3L662.6 710.7L661.9 711.1L661.2 711.3L660.5 714.0L659.8 714.0L659.1 714.0L658.4 714.0L657.7 714.0L657.0 714.0L656.3 714.0L655.6 713.3L654.9 713.3L654.2 713.3L653.5 713.3L652.8 713.3L652.1 713.3L651.4 712.8L650.7 712.8L650.0 712.0L649.3 712.0L648.6 713.0L647.9 713.3L647.2 713.3L646.5 713.3L645.8 713.3L645.1 713.3L644.4 713.3L643.7 713.3L643.0 710.8L642.3 710.9L641.6 712.4L640.9 713.6L640.2 714.2L639.5 717.6L638.8 717.6L638.1 717.6L637.4 717.8L636.7 721.2L636.0 721.2L635.3 721.2L634.6 721.2L633.9 721.2L633.2 721.8L632.5 721.8L631.8 721.8L631.1 721.8L630.4 721.8L629.7 721.8L629.0 721.8L628.3 721.8L627.6 720.4L626.9 720.4L626.2 720.4L625.5 719.8L624.8 719.8L624.1 719.6L623.4 719.6L622.7 718.4L622.0 718.4L621.3 718.4L620.6 718.4L619.9 715.9L619.2 715.9L618.5 715.9L617.8 713.7L617.1 713.7L616.4 713.7L615.7 713.7L615.0 713.7L614.3 712.8L613.6 712.8L612.9 712.7L612.2 712.7L611.5 709.8L610.8 709.6L610.1 709.6L609.4 709.0L608.7 704.3L608.0 702.8L607.3 701.9L606.6 701.5L605.9 697.1L605.2 700.6L604.5 703.8L603.8 703.8L603.1 703.8L602.4 703.8L601.7 703.8L601.0 703.8L600.3 705.2L599.6 705.2L598.9 705.3L598.2 705.5L597.5 705.5L596.8 705.5L596.1 705.5L595.4 705.5L594.7 705.5L594.0 705.5L593.3 703.7L592.6 703.7L591.9 703.4L591.2 703.4L590.5 703.4L589.8 703.4L589.1 703.0L588.4 701.1L587.7 701.1L587.0 700.3L586.3 696.3L585.6 696.3L584.9 696.3L584.2 696.1L583.5 693.9L582.8 693.9L582.1 691.6L581.4 687.8L580.7 685.7L580.0 684.9L579.3 680.2L578.6 679.9L577.9 677.5L577.2 677.5L576.5 673.8L575.8 673.8L575.1 672.8L574.4 670.4L573.7 668.8L573.0 668.8L572.3 671.2L571.6 671.2L570.9 671.2L570.2 673.2L569.5 673.2L568.8 673.2L568.1 673.2L567.4 674.8L566.7 674.8L566.0 675.7L565.3 675.7L564.6 675.7L563.9 675.7L563.2 675.7L562.5 675.7L561.8 675.7L561.1 675.7L560.4 674.9L559.7 674.9L559.0 676.1L558.3 676.3L557.6 677.6L556.9 677.6L556.2 678.0L555.5 678.0L554.8 678.0L554.1 678.0L553.4 678.0L552.7 678.0L552.0 678.0L551.3 678.0L550.6 674.7L549.9 673.9L549.2 673.9L548.5 672.0L547.8 671.9L547.1 671.9L546.4 671.3L545.7 671.3L545.0 671.3L544.3 671.3L543.6 668.7L542.9 668.7L542.2 668.7L541.5 668.7L540.8 668.7L540.1 668.7L539.4 668.7L538.7 667.8L538.0 668.0L537.3 668.0L536.6 668.0L535.9 668.0L535.2 668.0L534.5 668.0L533.8 668.0L533.1 665.8L532.4 667.2L531.7 667.2L531.0 667.2L530.3 668.9L529.6 668.9L528.9 668.9L528.2 668.9L527.5 668.9L526.8 668.9L526.1 668.9L525.4 668.1L524.7 667.9L524.0 667.9L523.3 666.6L522.6 665.0L521.9 661.0L521.2 660.5L520.5 660.5L519.8 660.5L519.1 657.9L518.4 657.6L517.7 657.6L517.0 657.4L516.3 651.8L515.6 649.8L514.9 640.8L514.2 647.6L513.5 651.3L512.8 651.3L512.1 651.3L511.4 651.3L510.7 652.1L510.0 652.1L509.3 652.1L508.6 652.1L507.9 652.1L507.2 652.1L506.5 652.1L505.8 653.0L505.1 655.3L504.4 656.3L503.7 656.3L503.0 658.3L502.3 659.8L501.6 659.8L500.9 659.8L500.2 659.8L499.5 659.8L498.8 659.8L498.1 659.8L497.4 657.5L496.7 657.5L496.0 655.7L495.3 655.7L494.6 654.2L493.9 646.0L493.2 638.1L492.5 621.4L491.8 588.4L491.1 586.1L490.4 591.8L489.7 597.7L489.0 598.3L488.3 607.3L487.6 609.6L486.9 613.7L486.2 619.9L485.5 622.7L484.8 624.7L484.1 627.3L483.4 631.1L482.7 633.5L482.0 636.5L481.3 639.3L480.6 642.4L479.9 643.8L479.2 643.8L478.5 651.8L477.8 653.9L477.1 653.9L476.4 656.5L475.7 659.2L475.0 659.2L474.3 662.7L473.6 662.7L472.9 662.7L472.2 664.5L471.5 664.5L470.8 666.9L470.1 669.9L469.4 669.9L468.7 669.9L468.0 670.2L467.3 670.2L466.6 670.4L465.9 674.8L465.2 674.8L464.5 674.8L463.8 674.8L463.1 674.8L462.4 674.8L461.7 674.8L461.0 672.7L460.3 672.7L459.6 672.7L458.9 672.7L458.2 672.7L457.5 672.7L456.8 672.7L456.1 674.1L455.4 674.1L454.7 674.1L454.0 674.1L453.3 674.1L452.6 674.1L451.9 674.1L451.2 674.1L450.5 670.1L449.8 670.1L449.1 670.1L448.4 670.1L447.7 667.5L447.0 667.0L446.3 667.0L445.6 667.0L444.9 667.0L444.2 667.0L443.5 667.0L442.8 664.8L442.1 664.8L441.4 661.3L440.7 654.2L440.0 647.5L439.3 632.0L438.6 650.9L437.9 660.3L437.2 665.7L436.5 671.1L435.8 674.8L435.1 675.4L434.4 676.8L433.7 677.0L433.0 677.5L432.3 681.8L431.6 681.8L430.9 682.9L430.2 683.3L429.5 683.3L428.8 683.3L428.1 683.5L427.4 684.2L426.7 684.2L426.0 684.2L425.3 684.2L424.6 685.4L423.9 685.4L423.2 685.5L422.5 685.5L421.8 689.3L421.1 689.3L420.4 689.3L419.7 689.3L419.0 689.3L418.3 689.3L417.6 689.3L416.9 689.2L416.2 689.2L415.5 689.2L414.8 689.2L414.1 689.2L413.4 689.2L412.7 687.4L412.0 687.4L411.3 684.1L410.6 682.7L409.9 688.3L409.2 688.3L408.5 690.1L407.8 690.1L407.1 690.3L406.4 690.3L405.7 691.9L405.0 692.9L404.3 695.7L403.6 695.7L402.9 695.7L402.2 695.7L401.5 695.7L400.8 695.7L400.1 695.7L399.4 695.7L398.7 694.6L398.0 694.6L397.3 694.4L396.6 694.4L395.9 694.4L395.2 694.4L394.5 694.4L393.8 694.4L393.1 694.4L392.4 694.4L391.7 685.6L391.0 682.2L390.3 685.4L389.6 687.7L388.9 689.2L388.2 693.5L387.5 697.2L386.8 698.0L386.1 701.0L385.4 701.2L384.7 701.2L384.0 701.2L383.3 702.3L382.6 702.3L381.9 703.0L381.2 703.0L380.5 703.0L379.8 703.0L379.1 703.0L378.4 703.0L377.7 703.0L377.0 702.1L376.3 703.3L375.6 703.3L374.9 703.3L374.2 703.3L373.5 706.6L372.8 706.6L372.1 706.6L371.4 706.6L370.7 706.6L370.0 706.6L369.3 706.6L368.6 707.8L367.9 708.5L367.2 710.1L366.5 710.1L365.8 710.1L365.1 710.1L364.4 710.1L363.7 710.1L363.0 710.1L362.3 712.1L361.6 712.1L360.9 712.1L360.2 712.1L359.5 712.1L358.8 712.1L358.1 712.1L357.4 712.0L356.7 712.0L356.0 712.9L355.3 712.9L354.6 714.3L353.9 714.3L353.2 714.3L352.5 714.3L351.8 714.3L351.1 715.1L350.4 715.5L349.7 715.7L349.0 717.2L348.3 717.2L347.6 717.2L346.9 717.2L346.2 717.2L345.5 717.7L344.8 719.7L344.1 719.7L343.4 719.7L342.7 719.7L342.0 721.4L341.3 721.4L340.6 721.4L339.9 721.4L339.2 721.4L338.5 721.4L337.8 721.4L337.1 722.8L336.4 722.8L335.7 724.0L335.0 724.0L334.3 724.0L333.6 724.0L332.9 724.0L332.2 724.0L331.5 724.0L330.8 724.0L330.1 723.2L329.4 723.8L328.7 724.5L328.0 724.5L327.3 724.5L326.6 724.7L325.9 724.7L325.2 724.7L324.5 726.3L323.8 726.3L323.1 726.3L322.4 726.3L321.7 726.3L321.0 726.3L320.3 726.3L319.6 725.8L318.9 725.8L318.2 725.8L317.5 725.8L316.8 725.8L316.1 725.1L315.4 725.1L314.7 723.7L314.0 721.7L313.3 721.7L312.6 721.7L311.9 724.8L311.2 724.8L310.5 728.7L309.8 728.7L309.1 729.1L308.4 729.7L307.7 729.8L307.0 729.8L306.3 729.8L305.6 729.8L304.9 729.8L304.2 729.8L303.5 729.8L302.8 729.7L302.1 729.7L301.4 729.7L300.7 729.7L300.0 730.0L299.3 730.6L298.6 730.6L297.9 731.7L297.2 731.7L296.5 731.7L295.8 731.7L295.1 731.7L294.4 731.7L293.7 731.7L293.0 731.7L292.3 731.6L291.6 731.6L290.9 731.8L290.2 731.8L289.5 731.8L288.8 731.8L288.1 731.8L287.4 731.8L286.7 731.8L286.0 731.8L285.3 731.8L284.6 731.8L283.9 731.7L283.2 731.7L282.5 732.8L281.8 732.8L281.1 732.8L280.4 734.3L279.7 734.3L279.0 734.3L278.3 736.0L277.6 736.0L276.9 736.0L276.2 736.0L275.5 736.0L274.8 736.0L274.1 736.0L273.4 736.0L272.7 735.9L272.0 735.9L271.3 735.9L270.6 735.4L269.9 735.4L269.2 735.4L268.5 735.4L267.8 736.3L267.1 736.6L266.4 736.6L265.7 736.6L265.0 736.6L264.3 736.6L263.6 736.6L262.9 736.6L262.2 736.6L261.5 734.0L260.8 734.6L260.1 735.0L259.4 735.0L258.7 735.0L258.0 735.0L257.3 735.0L256.6 735.0L255.9 735.0L255.2 734.3L254.5 734.3L253.8 734.3L253.1 734.3L252.4 734.3L251.7 734.3L251.0 734.3L250.3 733.8L249.6 733.8L248.9 734.4L248.2 734.4L247.5 734.4L246.8 734.4L246.1 734.4L245.4 734.4L244.7 734.4L244.0 732.4L243.3 732.4L242.6 731.8L241.9 733.1L241.2 733.1L240.5 733.1L239.8 733.1L239.1 733.1L238.4 733.1L237.7 733.1L237.0 733.1L236.3 731.3L235.6 731.7L234.9 731.7L234.2 731.7L233.5 731.7L232.8 732.5L232.1 732.5L231.4 732.5L230.7 732.5L230.0 732.5L229.3 732.5L228.6 732.5L227.9 732.5L227.2 731.8L226.5 731.8L225.8 731.8L225.1 730.9L224.4 730.9L223.7 730.9L223.0 730.9L222.3 730.9L221.6 730.2L220.9 730.2L220.2 730.2L219.5 730.2L218.8 730.2L218.1 730.2L217.4 727.9L216.7 727.9L216.0 727.9L215.3 727.9L214.6 726.7L213.9 726.7L213.2 726.7L212.5 726.7L211.8 724.8L211.1 724.8L210.4 724.8L209.7 722.9L209.0 722.7L208.3 722.7L207.6 722.4L206.9 722.4L206.2 722.4L205.5 722.4L204.8 722.3L204.1 722.3L203.4 722.0L202.7 722.0L202.0 722.0L201.3 722.0L200.6 720.0L199.9 720.0L199.2 720.0L198.5 720.0L197.8 717.6L197.1 717.6L196.4 717.6L195.7 717.6L195.0 717.6L194.3 717.6L193.6 717.6L192.9 717.6L192.2 714.4L191.5 714.4L190.8 714.4L190.1 714.4L189.4 714.4L188.7 714.4L188.0 714.4L187.3 711.8L186.6 711.8L185.9 711.1L185.2 711.1L184.5 711.1L183.8 711.1L183.1 711.1L182.4 711.1L181.7 711.1L181.0 711.1L180.3 709.1L179.6 709.1L178.9 706.7L178.2 706.7L177.5 706.7L176.8 706.7L176.1 706.7L175.4 705.8L174.7 705.2L174.0 704.8L173.3 704.8L172.6 704.8L171.9 704.1L171.2 702.6L170.5 702.6L169.8 702.6L169.1 702.6L168.4 702.6L167.7 702.6L167.0 701.8L166.3 701.3L165.6 697.7L164.9 697.7L164.2 694.5L163.5 693.9L162.8 692.8L162.1 692.6L161.4 692.6L160.7 692.6L160.0 692.6L159.3 690.8L158.6 690.6L157.9 690.7L157.2 690.7L156.5 690.7L155.8 690.7L155.1 690.7L154.4 690.7L153.7 690.7L153.0 690.7L152.3 689.4L151.6 689.4L150.9 687.4L150.2 685.9L149.5 685.9L148.8 681.9L148.1 681.9L147.4 681.7L146.7 681.4L146.0 681.4L145.3 681.4L144.6 680.9L143.9 680.9L143.2 679.6L142.5 677.8L141.8 677.8L141.1 677.0L140.4 677.0L139.7 676.9L139.0 676.9L138.3 676.9L137.6 674.9L136.9 674.9L136.2 673.5L135.5 673.5L134.8 672.9L134.1 672.9L133.4 672.9L132.7 671.5L132.0 671.4L131.3 671.1L130.6 670.3L129.9 670.3L129.2 667.7L128.5 666.4L127.8 666.1L127.1 666.1L126.4 663.9L125.7 663.9L125.0 663.9L124.3 662.1L123.6 661.2L122.9 661.2L122.2 659.2L121.5 658.1L120.8 658.1L120.1 658.1L119.4 658.0L118.7 658.0L118.0 657.4L117.3 657.0L116.6 657.0L115.9 657.0L115.2 654.6L114.5 653.5Z"/>
</g>
<!-- frame -->
<g fill="#000">
<rect x="113" y="29.6" width="1311.5" height="2.2" fill="#808080"/>
<rect x="113" y="26.8" width="1311.5" height="3.2"/>
<rect x="1423.2" y="27" width="2.2" height="993" fill="#707070"/>
<rect x="1420.6" y="27" width="3" height="993"/>
<rect x="111" y="28.5" width="5.2" height="983"/>
<rect x="111" y="997.9" width="1313" height="3.2"/>
<rect x="111.8" y="999.5" width="3.4" height="12"/>
<rect x="198.5" y="999.5" width="4.6" height="20.5"/>
<rect x="286.3" y="999.5" width="3.4" height="12"/>
<rect x="373.0" y="999.5" width="4.6" height="20.5"/>
<rect x="460.9" y="999.5" width="3.4" height="12"/>
<rect x="547.5" y="999.5" width="4.6" height="20.5"/>
<rect x="635.4" y="999.5" width="3.4" height="12"/>
<rect x="722.1" y="999.5" width="4.6" height="20.5"/>
<rect x="809.9" y="999.5" width="3.4" height="12"/>
<rect x="896.6" y="999.5" width="4.6" height="20.5"/>
<rect x="984.5" y="999.5" width="3.4" height="12"/>
<rect x="1071.1" y="999.5" width="4.6" height="20.5"/>
<rect x="1159.0" y="999.5" width="3.4" height="12"/>
<rect x="1245.7" y="999.5" width="4.6" height="20.5"/>
<rect x="1333.5" y="999.5" width="3.4" height="12"/>
<rect x="1420.2" y="999.5" width="4.6" height="20.5"/>
</g>
<!-- tick labels -->
<g font-size="41" fill="#111">
<text transform="translate(201.3 1066) scale(1 1.07)" text-anchor="middle">10</text>
<text transform="translate(375.8 1066) scale(1 1.07)" text-anchor="middle">20</text>
<text transform="translate(550.3 1066) scale(1 1.07)" text-anchor="middle">30</text>
<text transform="translate(724.9 1066) scale(1 1.07)" text-anchor="middle">40</text>
<text transform="translate(899.4 1066) scale(1 1.07)" text-anchor="middle">50</text>
<text transform="translate(1073.9 1066) scale(1 1.07)" text-anchor="middle">60</text>
<text transform="translate(1248.5 1066) scale(1 1.07)" text-anchor="middle">70</text>
<text transform="translate(1423.0 1066) scale(1 1.07)" text-anchor="middle">80</text>
</g>
<!-- axis titles -->
<text transform="translate(73 794.3) rotate(-90)" font-size="72.7" fill="#000">Intensity (a.u.)</text>
<g fill="#000">
<text x="728" y="1142" font-size="70">2</text>
<text x="772" y="1142" font-size="70" font-style="italic" stroke="#fff" stroke-width="1.8">&#952;</text>
<text x="826" y="1142" font-size="70" stroke="#fff" stroke-width="1.6">(</text>
<text x="846.5" y="1140" font-size="45">&#176;</text>
<text x="870" y="1142" font-size="70" stroke="#fff" stroke-width="1.6">)</text>
</g>
<!-- legend -->
<g font-size="56.8" fill="#000">
<text x="1049.2" y="146.7">M-mullite</text>
<text x="1049.2" y="216.8">P-plagioclase</text>
<text x="1051" y="285.5" clip-path="url(#qleg)">Q</text><text x="1095.18" y="285.5">-quartz</text><line x1="1075.9" y1="275.8" x2="1093.0" y2="287.5" stroke="#000" stroke-width="4.9"/>
<text x="1049.2" y="355.7">H-hematite</text>
</g>
<!-- peak labels -->
<g font-weight="bold" fill="#000">
<text x="492.5" y="152.5" font-size="46" font-weight="bold" text-anchor="middle" clip-path="url(#q0)">Q</text><line x1="493.9" y1="143.8" x2="508.8" y2="153.9" stroke="#000" stroke-width="5.8"/>
<text x="437.9" y="399.5" font-size="48" font-weight="bold" text-anchor="middle">M</text>
<text x="383.2" y="609.5" font-size="45" font-weight="bold" text-anchor="middle" clip-path="url(#q2)">Q</text><line x1="384.6" y1="601.0" x2="399.2" y2="610.9" stroke="#000" stroke-width="5.6"/>
<text x="414.6" y="645.0" font-size="29" font-weight="bold" text-anchor="middle">P</text>
<text x="305.9" y="678.5" font-size="42" font-weight="bold" text-anchor="middle">M</text>
<text x="527.2" y="593.5" font-size="48" font-weight="bold" text-anchor="middle">P</text>
<text x="599.0" y="650.5" font-size="45" font-weight="bold" text-anchor="middle">H</text>
<text x="651.0" y="669.8" font-size="40" font-weight="bold" text-anchor="middle">P</text>
<text x="677.6" y="682.5" font-size="45" font-weight="bold" text-anchor="middle" clip-path="url(#q8)">Q</text><line x1="679.0" y1="674.0" x2="693.6" y2="683.9" stroke="#000" stroke-width="5.6"/>
<text x="709.6" y="691.0" font-size="35" font-weight="bold" text-anchor="middle" clip-path="url(#q9)">Q</text><line x1="710.6" y1="684.4" x2="722.0" y2="692.0" stroke="#000" stroke-width="4.4"/>
<text x="748.6" y="691.8" font-size="37" font-weight="bold" text-anchor="middle">H</text>
<text x="791.2" y="694.3" font-size="52" font-weight="bold" text-anchor="middle">M</text>
<text x="832.7" y="705.5" font-size="31" font-weight="normal" text-anchor="middle" clip-path="url(#q12)">Q</text><line x1="833.6" y1="699.6" x2="843.7" y2="706.4" stroke="#000" stroke-width="2.5"/>
<text x="880.0" y="533.5" font-size="50" font-weight="bold" text-anchor="middle">P</text>
<text x="912.4" y="701.5" font-size="47" font-weight="bold" text-anchor="middle" clip-path="url(#q14)">Q</text><line x1="913.8" y1="692.6" x2="929.1" y2="702.9" stroke="#000" stroke-width="5.9"/>
<text x="1062.3" y="723.0" font-size="43" font-weight="bold" text-anchor="middle" clip-path="url(#q15)">Q</text><line x1="1063.6" y1="714.8" x2="1077.6" y2="724.3" stroke="#000" stroke-width="5.4"/>
<text x="1215.2" y="670.0" font-size="38" font-weight="bold" text-anchor="middle" clip-path="url(#q16)">Q</text><line x1="1216.3" y1="662.8" x2="1228.7" y2="671.1" stroke="#000" stroke-width="4.8"/>
<text x="1342.8" y="678.3" font-size="39" font-weight="bold" text-anchor="middle" clip-path="url(#q17)">Q</text><line x1="1344.0" y1="670.9" x2="1356.6" y2="679.5" stroke="#000" stroke-width="4.9"/>
</g>
<g font-weight="bold" font-size="36" fill="#000">
<text x="1361" y="751.5" font-size="37">GP</text>
<text x="1345.5" y="836.5" font-size="35">GP1</text>
<text x="1337" y="949.5">GP2</text>
</g>
</g>
</svg>
</body></html>
